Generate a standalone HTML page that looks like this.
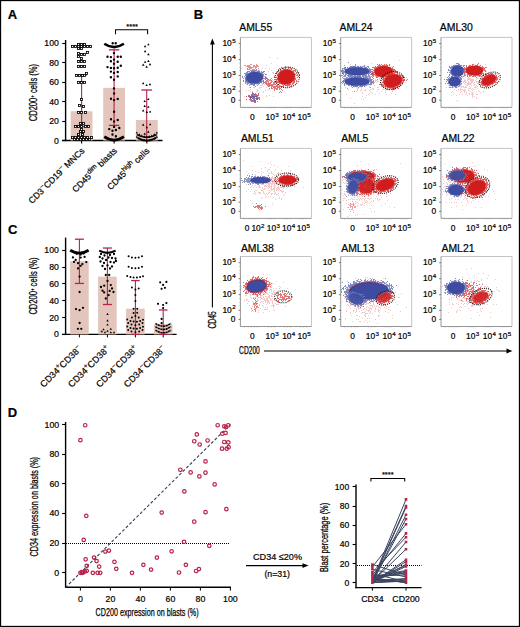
<!DOCTYPE html>
<html><head><meta charset="utf-8"><style>html,body{margin:0;padding:0;background:#fff;}svg{display:block;}text:not([stroke]){stroke:#000;stroke-width:0.2px;}</style></head>
<body><svg width="520" height="627" viewBox="0 0 520 627" font-family="'Liberation Sans', sans-serif" fill="#000"><defs><filter id="b1" x="-50%" y="-50%" width="200%" height="200%"><feGaussianBlur stdDeviation="0.55"/></filter><filter id="b2" x="-50%" y="-50%" width="200%" height="200%"><feGaussianBlur stdDeviation="1.4"/></filter><filter id="b3" x="-50%" y="-50%" width="200%" height="200%"><feGaussianBlur stdDeviation="0.4"/></filter></defs><rect x="0.5" y="0.5" width="519" height="626" fill="none" stroke="#000" stroke-width="1.3"/>
<text x="7.80" y="18.80" font-size="13" text-anchor="start" font-weight="bold">A</text>
<text x="193.80" y="19.20" font-size="13" text-anchor="start" font-weight="bold">B</text>
<text x="8.00" y="234.20" font-size="13" text-anchor="start" font-weight="bold">C</text>
<text x="7.80" y="417.20" font-size="13" text-anchor="start" font-weight="bold">D</text>
<line x1="65.60" y1="40.00" x2="65.60" y2="141.20" stroke="#000" stroke-width="1.4" />
<line x1="62.00" y1="140.50" x2="162.50" y2="140.50" stroke="#000" stroke-width="1.4" />
<line x1="62.20" y1="140.50" x2="65.60" y2="140.50" stroke="#000" stroke-width="1.1" />
<text x="58.80" y="143.50" font-size="8.7" text-anchor="end" >0</text>
<line x1="62.20" y1="121.50" x2="65.60" y2="121.50" stroke="#000" stroke-width="1.1" />
<text x="58.80" y="124.00" font-size="8.7" text-anchor="end" >20</text>
<line x1="62.20" y1="101.50" x2="65.60" y2="101.50" stroke="#000" stroke-width="1.1" />
<text x="58.80" y="104.50" font-size="8.7" text-anchor="end" >40</text>
<line x1="62.20" y1="82.50" x2="65.60" y2="82.50" stroke="#000" stroke-width="1.1" />
<text x="58.80" y="85.00" font-size="8.7" text-anchor="end" >60</text>
<line x1="62.20" y1="62.50" x2="65.60" y2="62.50" stroke="#000" stroke-width="1.1" />
<text x="58.80" y="65.50" font-size="8.7" text-anchor="end" >80</text>
<line x1="62.20" y1="43.50" x2="65.60" y2="43.50" stroke="#000" stroke-width="1.1" />
<text x="58.80" y="46.00" font-size="8.7" text-anchor="end" >100</text>
<rect x="70.70" y="111.25" width="21.8" height="29.25" fill="#e3c5bb"/>
<rect x="103.20" y="87.85" width="21.8" height="52.65" fill="#e3c5bb"/>
<rect x="135.90" y="120.03" width="21.8" height="20.47" fill="#e3c5bb"/>
<text transform="translate(37.2,121.3) rotate(-90)" font-size="10.3" textLength="57.4" lengthAdjust="spacingAndGlyphs" stroke="#000" stroke-width="0.25">CD200<tspan font-size="6" dy="-3.5">+</tspan><tspan dy="3.6"> cells (%)</tspan></text>
<line x1="81.60" y1="74.88" x2="81.60" y2="126.56" stroke="#b8234a" stroke-width="1.1" />
<line x1="76.10" y1="74.88" x2="87.10" y2="74.88" stroke="#b8234a" stroke-width="1.3" />
<line x1="76.10" y1="126.56" x2="87.10" y2="126.56" stroke="#b8234a" stroke-width="1.3" />
<line x1="114.10" y1="49.83" x2="114.10" y2="125.39" stroke="#b8234a" stroke-width="1.1" />
<line x1="108.90" y1="49.83" x2="119.30" y2="49.83" stroke="#b8234a" stroke-width="1.3" />
<line x1="108.90" y1="125.39" x2="119.30" y2="125.39" stroke="#b8234a" stroke-width="1.3" />
<line x1="146.70" y1="90.00" x2="146.70" y2="140.50" stroke="#b8234a" stroke-width="1.1" />
<line x1="141.30" y1="90.00" x2="152.10" y2="90.00" stroke="#b8234a" stroke-width="1.3" />
<line x1="141.30" y1="140.50" x2="152.10" y2="140.50" stroke="#b8234a" stroke-width="1.3" />
<rect x="77.42" y="43.42" width="2.15" height="2.15" fill="#fff" stroke="#000" stroke-width="0.85"/><rect x="80.42" y="43.42" width="2.15" height="2.15" fill="#fff" stroke="#000" stroke-width="0.85"/><rect x="83.42" y="43.42" width="2.15" height="2.15" fill="#fff" stroke="#000" stroke-width="0.85"/><rect x="71.42" y="45.42" width="2.15" height="2.15" fill="#fff" stroke="#000" stroke-width="0.85"/><rect x="74.42" y="45.42" width="2.15" height="2.15" fill="#fff" stroke="#000" stroke-width="0.85"/><rect x="77.42" y="45.42" width="2.15" height="2.15" fill="#fff" stroke="#000" stroke-width="0.85"/><rect x="80.42" y="45.42" width="2.15" height="2.15" fill="#fff" stroke="#000" stroke-width="0.85"/><rect x="83.42" y="45.42" width="2.15" height="2.15" fill="#fff" stroke="#000" stroke-width="0.85"/><rect x="86.42" y="45.42" width="2.15" height="2.15" fill="#fff" stroke="#000" stroke-width="0.85"/><rect x="89.42" y="45.42" width="2.15" height="2.15" fill="#fff" stroke="#000" stroke-width="0.85"/><rect x="77.42" y="47.42" width="2.15" height="2.15" fill="#fff" stroke="#000" stroke-width="0.85"/><rect x="80.42" y="47.42" width="2.15" height="2.15" fill="#fff" stroke="#000" stroke-width="0.85"/><rect x="77.42" y="52.42" width="2.15" height="2.15" fill="#fff" stroke="#000" stroke-width="0.85"/><rect x="86.42" y="51.42" width="2.15" height="2.15" fill="#fff" stroke="#000" stroke-width="0.85"/><rect x="80.42" y="53.42" width="2.15" height="2.15" fill="#fff" stroke="#000" stroke-width="0.85"/><rect x="83.42" y="53.42" width="2.15" height="2.15" fill="#fff" stroke="#000" stroke-width="0.85"/><rect x="77.42" y="55.42" width="2.15" height="2.15" fill="#fff" stroke="#000" stroke-width="0.85"/><rect x="80.42" y="57.42" width="2.15" height="2.15" fill="#fff" stroke="#000" stroke-width="0.85"/><rect x="77.42" y="60.42" width="2.15" height="2.15" fill="#fff" stroke="#000" stroke-width="0.85"/><rect x="80.42" y="60.42" width="2.15" height="2.15" fill="#fff" stroke="#000" stroke-width="0.85"/><rect x="83.42" y="60.42" width="2.15" height="2.15" fill="#fff" stroke="#000" stroke-width="0.85"/><rect x="77.42" y="65.42" width="2.15" height="2.15" fill="#fff" stroke="#000" stroke-width="0.85"/><rect x="80.42" y="65.42" width="2.15" height="2.15" fill="#fff" stroke="#000" stroke-width="0.85"/><rect x="83.42" y="65.42" width="2.15" height="2.15" fill="#fff" stroke="#000" stroke-width="0.85"/><rect x="85.42" y="72.42" width="2.15" height="2.15" fill="#fff" stroke="#000" stroke-width="0.85"/><rect x="75.42" y="74.42" width="2.15" height="2.15" fill="#fff" stroke="#000" stroke-width="0.85"/><rect x="78.42" y="74.42" width="2.15" height="2.15" fill="#fff" stroke="#000" stroke-width="0.85"/><rect x="81.42" y="74.42" width="2.15" height="2.15" fill="#fff" stroke="#000" stroke-width="0.85"/><rect x="83.42" y="74.42" width="2.15" height="2.15" fill="#fff" stroke="#000" stroke-width="0.85"/><rect x="77.42" y="81.42" width="2.15" height="2.15" fill="#fff" stroke="#000" stroke-width="0.85"/><rect x="80.42" y="81.42" width="2.15" height="2.15" fill="#fff" stroke="#000" stroke-width="0.85"/><rect x="83.42" y="81.42" width="2.15" height="2.15" fill="#fff" stroke="#000" stroke-width="0.85"/><rect x="80.42" y="98.42" width="2.15" height="2.15" fill="#fff" stroke="#000" stroke-width="0.85"/><rect x="78.42" y="104.42" width="2.15" height="2.15" fill="#fff" stroke="#000" stroke-width="0.85"/><rect x="82.42" y="105.42" width="2.15" height="2.15" fill="#fff" stroke="#000" stroke-width="0.85"/><rect x="77.42" y="111.42" width="2.15" height="2.15" fill="#fff" stroke="#000" stroke-width="0.85"/><rect x="80.42" y="111.42" width="2.15" height="2.15" fill="#fff" stroke="#000" stroke-width="0.85"/><rect x="84.42" y="111.42" width="2.15" height="2.15" fill="#fff" stroke="#000" stroke-width="0.85"/><rect x="79.42" y="122.42" width="2.15" height="2.15" fill="#fff" stroke="#000" stroke-width="0.85"/><rect x="82.42" y="122.42" width="2.15" height="2.15" fill="#fff" stroke="#000" stroke-width="0.85"/><rect x="74.42" y="125.42" width="2.15" height="2.15" fill="#fff" stroke="#000" stroke-width="0.85"/><rect x="77.42" y="125.42" width="2.15" height="2.15" fill="#fff" stroke="#000" stroke-width="0.85"/><rect x="80.42" y="125.42" width="2.15" height="2.15" fill="#fff" stroke="#000" stroke-width="0.85"/><rect x="84.42" y="125.42" width="2.15" height="2.15" fill="#fff" stroke="#000" stroke-width="0.85"/><rect x="87.42" y="125.42" width="2.15" height="2.15" fill="#fff" stroke="#000" stroke-width="0.85"/><rect x="80.42" y="128.43" width="2.15" height="2.15" fill="#fff" stroke="#000" stroke-width="0.85"/><rect x="79.42" y="130.43" width="2.15" height="2.15" fill="#fff" stroke="#000" stroke-width="0.85"/><rect x="82.42" y="130.43" width="2.15" height="2.15" fill="#fff" stroke="#000" stroke-width="0.85"/><rect x="77.42" y="133.43" width="2.15" height="2.15" fill="#fff" stroke="#000" stroke-width="0.85"/><rect x="81.42" y="133.43" width="2.15" height="2.15" fill="#fff" stroke="#000" stroke-width="0.85"/><rect x="71.42" y="136.43" width="2.15" height="2.15" fill="#fff" stroke="#000" stroke-width="0.85"/><rect x="74.42" y="136.43" width="2.15" height="2.15" fill="#fff" stroke="#000" stroke-width="0.85"/><rect x="77.42" y="136.43" width="2.15" height="2.15" fill="#fff" stroke="#000" stroke-width="0.85"/><rect x="80.42" y="136.43" width="2.15" height="2.15" fill="#fff" stroke="#000" stroke-width="0.85"/><rect x="83.42" y="136.43" width="2.15" height="2.15" fill="#fff" stroke="#000" stroke-width="0.85"/><rect x="86.42" y="136.43" width="2.15" height="2.15" fill="#fff" stroke="#000" stroke-width="0.85"/><rect x="90.42" y="136.43" width="2.15" height="2.15" fill="#fff" stroke="#000" stroke-width="0.85"/><rect x="73.42" y="138.43" width="2.15" height="2.15" fill="#fff" stroke="#000" stroke-width="0.85"/><rect x="76.42" y="138.43" width="2.15" height="2.15" fill="#fff" stroke="#000" stroke-width="0.85"/><rect x="79.42" y="138.43" width="2.15" height="2.15" fill="#fff" stroke="#000" stroke-width="0.85"/><rect x="82.42" y="138.43" width="2.15" height="2.15" fill="#fff" stroke="#000" stroke-width="0.85"/><rect x="85.42" y="138.43" width="2.15" height="2.15" fill="#fff" stroke="#000" stroke-width="0.85"/><rect x="88.42" y="138.43" width="2.15" height="2.15" fill="#fff" stroke="#000" stroke-width="0.85"/>
<path d="M111.50 43.30a1.2 1.2 0 1 0 2.4 0a1.2 1.2 0 1 0 -2.4 0zM114.50 43.30a1.2 1.2 0 1 0 2.4 0a1.2 1.2 0 1 0 -2.4 0zM106.30 56.80a1.2 1.2 0 1 0 2.4 0a1.2 1.2 0 1 0 -2.4 0zM109.70 57.10a1.2 1.2 0 1 0 2.4 0a1.2 1.2 0 1 0 -2.4 0zM116.50 56.80a1.2 1.2 0 1 0 2.4 0a1.2 1.2 0 1 0 -2.4 0zM119.60 56.80a1.2 1.2 0 1 0 2.4 0a1.2 1.2 0 1 0 -2.4 0zM112.80 53.10a1.2 1.2 0 1 0 2.4 0a1.2 1.2 0 1 0 -2.4 0zM109.70 61.30a1.2 1.2 0 1 0 2.4 0a1.2 1.2 0 1 0 -2.4 0zM116.50 61.70a1.2 1.2 0 1 0 2.4 0a1.2 1.2 0 1 0 -2.4 0zM112.80 59.60a1.2 1.2 0 1 0 2.4 0a1.2 1.2 0 1 0 -2.4 0zM112.80 63.70a1.2 1.2 0 1 0 2.4 0a1.2 1.2 0 1 0 -2.4 0zM106.30 67.10a1.2 1.2 0 1 0 2.4 0a1.2 1.2 0 1 0 -2.4 0zM109.70 67.90a1.2 1.2 0 1 0 2.4 0a1.2 1.2 0 1 0 -2.4 0zM116.50 67.70a1.2 1.2 0 1 0 2.4 0a1.2 1.2 0 1 0 -2.4 0zM119.60 65.80a1.2 1.2 0 1 0 2.4 0a1.2 1.2 0 1 0 -2.4 0zM112.80 68.30a1.2 1.2 0 1 0 2.4 0a1.2 1.2 0 1 0 -2.4 0zM109.70 71.60a1.2 1.2 0 1 0 2.4 0a1.2 1.2 0 1 0 -2.4 0zM116.50 72.00a1.2 1.2 0 1 0 2.4 0a1.2 1.2 0 1 0 -2.4 0zM112.80 72.90a1.2 1.2 0 1 0 2.4 0a1.2 1.2 0 1 0 -2.4 0zM109.70 77.20a1.2 1.2 0 1 0 2.4 0a1.2 1.2 0 1 0 -2.4 0zM116.50 76.40a1.2 1.2 0 1 0 2.4 0a1.2 1.2 0 1 0 -2.4 0zM112.80 79.80a1.2 1.2 0 1 0 2.4 0a1.2 1.2 0 1 0 -2.4 0zM112.80 88.40a1.2 1.2 0 1 0 2.4 0a1.2 1.2 0 1 0 -2.4 0zM112.90 93.40a1.2 1.2 0 1 0 2.4 0a1.2 1.2 0 1 0 -2.4 0zM109.80 98.70a1.2 1.2 0 1 0 2.4 0a1.2 1.2 0 1 0 -2.4 0zM116.50 98.90a1.2 1.2 0 1 0 2.4 0a1.2 1.2 0 1 0 -2.4 0zM112.90 100.10a1.2 1.2 0 1 0 2.4 0a1.2 1.2 0 1 0 -2.4 0zM112.90 111.70a1.2 1.2 0 1 0 2.4 0a1.2 1.2 0 1 0 -2.4 0zM109.80 119.30a1.2 1.2 0 1 0 2.4 0a1.2 1.2 0 1 0 -2.4 0zM116.50 120.00a1.2 1.2 0 1 0 2.4 0a1.2 1.2 0 1 0 -2.4 0zM112.90 121.50a1.2 1.2 0 1 0 2.4 0a1.2 1.2 0 1 0 -2.4 0zM112.90 126.90a1.2 1.2 0 1 0 2.4 0a1.2 1.2 0 1 0 -2.4 0zM108.00 129.10a1.2 1.2 0 1 0 2.4 0a1.2 1.2 0 1 0 -2.4 0zM118.10 128.00a1.2 1.2 0 1 0 2.4 0a1.2 1.2 0 1 0 -2.4 0zM114.70 130.00a1.2 1.2 0 1 0 2.4 0a1.2 1.2 0 1 0 -2.4 0zM111.30 130.70a1.2 1.2 0 1 0 2.4 0a1.2 1.2 0 1 0 -2.4 0zM111.30 134.50a1.2 1.2 0 1 0 2.4 0a1.2 1.2 0 1 0 -2.4 0zM114.70 136.30a1.2 1.2 0 1 0 2.4 0a1.2 1.2 0 1 0 -2.4 0z" fill="#000"/>
<path d="M104.3 43.8 Q114.1 50.5 123.9 43.8" fill="none" stroke="#000" stroke-width="2.6"/>
<path d="M104.3 136.6 Q114.1 143.6 123.9 136.6" fill="none" stroke="#000" stroke-width="2.6"/>
<path d="M148.40 43.20L149.65 45.37L147.15 45.37zM145.10 45.09L146.35 47.27L143.85 47.27zM145.10 50.09L146.35 52.27L143.85 52.27zM148.40 53.09L149.65 55.27L147.15 55.27zM145.10 60.70L146.35 62.87L143.85 62.87zM148.40 59.80L149.65 61.97L147.15 61.97zM143.20 63.60L144.45 65.77L141.95 65.77zM150.00 62.99L151.25 65.17L148.75 65.17zM146.60 65.59L147.85 67.77L145.35 67.77zM143.20 81.99L144.45 84.17L141.95 84.17zM146.60 83.89L147.85 86.07L145.35 86.07zM150.00 82.99L151.25 85.17L148.75 85.17zM148.30 97.89L149.55 100.07L147.05 100.07zM144.70 99.89L145.95 102.07L143.45 102.07zM144.70 104.79L145.95 106.97L143.45 106.97zM148.30 105.69L149.55 107.87L147.05 107.87zM143.20 109.29L144.45 111.47L141.95 111.47zM146.80 110.79L148.05 112.97L145.55 112.97zM150.10 110.39L151.35 112.57L148.85 112.57zM143.20 123.49L144.45 125.67L141.95 125.67zM150.10 123.19L151.35 125.37L148.85 125.37zM146.80 125.99L148.05 128.17L145.55 128.17zM148.30 130.50L149.55 132.67L147.05 132.67zM144.70 132.50L145.95 134.67L143.45 134.67zM136.80 131.50L138.00 133.59L135.60 133.59zM139.30 133.27L140.50 135.36L138.10 135.36zM141.80 134.53L143.00 136.62L140.60 136.62zM144.30 135.29L145.50 137.38L143.10 137.38zM146.80 135.55L148.00 137.64L145.60 137.64zM149.30 135.29L150.50 137.38L148.10 137.38zM151.80 134.53L153.00 136.62L150.60 136.62zM154.30 133.27L155.50 135.36L153.10 135.36zM156.80 131.50L158.00 133.59L155.60 133.59zM136.80 135.75L138.00 137.84L135.60 137.84zM139.30 137.32L140.50 139.41L138.10 139.41zM141.80 138.45L143.00 140.54L140.60 140.54zM144.30 139.12L145.50 141.21L143.10 141.21zM146.80 139.35L148.00 141.44L145.60 141.44zM149.30 139.12L150.50 141.21L148.10 141.21zM151.80 138.45L153.00 140.54L150.60 140.54zM154.30 137.32L155.50 139.41L153.10 139.41zM156.80 135.75L158.00 137.84L155.60 137.84z" fill="#000"/>
<path d="M136.8 134.6 Q146.8 140.2 156.8 134.6" fill="none" stroke="#000" stroke-width="1.6"/>
<path d="M137.5 137.8 Q146.8 143.2 156.2 137.8" fill="none" stroke="#000" stroke-width="1.6"/>
<line x1="81.60" y1="140.50" x2="81.60" y2="143.60" stroke="#000" stroke-width="1.1" />
<line x1="114.10" y1="140.50" x2="114.10" y2="143.60" stroke="#000" stroke-width="1.1" />
<line x1="146.80" y1="140.50" x2="146.80" y2="143.60" stroke="#000" stroke-width="1.1" />
<text transform="translate(85.00,151.30) rotate(-45)" font-size="8.8" text-anchor="end">CD3<tspan font-size="6.8" dy="-3.6">−</tspan><tspan dy="3.6">CD19</tspan><tspan font-size="6.8" dy="-3.6">−</tspan><tspan dy="3.6"> MNCs</tspan></text>
<text transform="translate(117.50,151.30) rotate(-45)" font-size="8.8" text-anchor="end">CD45<tspan font-size="6.8" dy="-3.6">dim</tspan><tspan dy="3.6"> blasts</tspan></text>
<text transform="translate(150.00,151.30) rotate(-45)" font-size="8.8" text-anchor="end">CD45<tspan font-size="6.8" dy="-3.6">high</tspan><tspan dy="3.6"> cells</tspan></text>
<path d="M115.5 34.2V29.7H147.6V34.2" fill="none" stroke="#000" stroke-width="1.05"/>
<text x="132.20" y="28.60" font-size="7.5" text-anchor="middle" >****</text>
<line x1="65.60" y1="237.60" x2="65.60" y2="335.10" stroke="#000" stroke-width="1.4" />
<line x1="62.00" y1="334.40" x2="176.60" y2="334.40" stroke="#000" stroke-width="1.4" />
<line x1="62.20" y1="334.50" x2="65.60" y2="334.50" stroke="#000" stroke-width="1.1" />
<text x="58.80" y="337.40" font-size="8.7" text-anchor="end" >0</text>
<line x1="62.20" y1="317.50" x2="65.60" y2="317.50" stroke="#000" stroke-width="1.1" />
<text x="58.80" y="320.55" font-size="8.7" text-anchor="end" >20</text>
<line x1="62.20" y1="300.50" x2="65.60" y2="300.50" stroke="#000" stroke-width="1.1" />
<text x="58.80" y="303.70" font-size="8.7" text-anchor="end" >40</text>
<line x1="62.20" y1="283.50" x2="65.60" y2="283.50" stroke="#000" stroke-width="1.1" />
<text x="58.80" y="286.85" font-size="8.7" text-anchor="end" >60</text>
<line x1="62.20" y1="267.50" x2="65.60" y2="267.50" stroke="#000" stroke-width="1.1" />
<text x="58.80" y="270.00" font-size="8.7" text-anchor="end" >80</text>
<line x1="62.20" y1="250.50" x2="65.60" y2="250.50" stroke="#000" stroke-width="1.1" />
<text x="58.80" y="253.15" font-size="8.7" text-anchor="end" >100</text>
<rect x="70.10" y="261.10" width="18.6" height="73.30" fill="#e3c5bb"/>
<rect x="98.10" y="276.60" width="18.6" height="57.80" fill="#e3c5bb"/>
<rect x="126.10" y="308.70" width="18.6" height="25.70" fill="#e3c5bb"/>
<rect x="153.90" y="324.29" width="18.6" height="10.11" fill="#e3c5bb"/>
<line x1="79.40" y1="334.40" x2="79.40" y2="337.40" stroke="#000" stroke-width="1" />
<line x1="107.40" y1="334.40" x2="107.40" y2="337.40" stroke="#000" stroke-width="1" />
<line x1="135.40" y1="334.40" x2="135.40" y2="337.40" stroke="#000" stroke-width="1" />
<line x1="163.20" y1="334.40" x2="163.20" y2="337.40" stroke="#000" stroke-width="1" />
<line x1="79.40" y1="239.20" x2="79.40" y2="283.43" stroke="#b8234a" stroke-width="1.1" />
<line x1="74.90" y1="239.20" x2="83.90" y2="239.20" stroke="#b8234a" stroke-width="1.3" />
<line x1="74.90" y1="283.43" x2="83.90" y2="283.43" stroke="#b8234a" stroke-width="1.3" />
<line x1="107.40" y1="248.04" x2="107.40" y2="304.49" stroke="#b8234a" stroke-width="1.1" />
<line x1="102.90" y1="248.04" x2="111.90" y2="248.04" stroke="#b8234a" stroke-width="1.3" />
<line x1="102.90" y1="304.49" x2="111.90" y2="304.49" stroke="#b8234a" stroke-width="1.3" />
<line x1="135.40" y1="280.56" x2="135.40" y2="334.40" stroke="#b8234a" stroke-width="1.1" />
<line x1="131.10" y1="280.56" x2="139.70" y2="280.56" stroke="#b8234a" stroke-width="1.3" />
<line x1="131.10" y1="334.40" x2="139.70" y2="334.40" stroke="#b8234a" stroke-width="1.3" />
<line x1="163.20" y1="309.97" x2="163.20" y2="334.40" stroke="#b8234a" stroke-width="1.1" />
<line x1="158.90" y1="309.97" x2="167.50" y2="309.97" stroke="#b8234a" stroke-width="1.3" />
<line x1="158.90" y1="334.40" x2="167.50" y2="334.40" stroke="#b8234a" stroke-width="1.3" />
<text transform="translate(37.2,314.6) rotate(-90)" font-size="10.3" textLength="57.2" lengthAdjust="spacingAndGlyphs" stroke="#000" stroke-width="0.25">CD200<tspan font-size="6" dy="-3.5">+</tspan><tspan dy="3.6"> cells (%)</tspan></text>
<path d="M71.75 257.40a1.15 1.15 0 1 0 2.3 0a1.15 1.15 0 1 0 -2.3 0zM74.55 259.90a1.15 1.15 0 1 0 2.3 0a1.15 1.15 0 1 0 -2.3 0zM79.55 257.60a1.15 1.15 0 1 0 2.3 0a1.15 1.15 0 1 0 -2.3 0zM83.45 256.90a1.15 1.15 0 1 0 2.3 0a1.15 1.15 0 1 0 -2.3 0zM79.55 254.50a1.15 1.15 0 1 0 2.3 0a1.15 1.15 0 1 0 -2.3 0zM75.65 253.80a1.15 1.15 0 1 0 2.3 0a1.15 1.15 0 1 0 -2.3 0zM82.35 253.50a1.15 1.15 0 1 0 2.3 0a1.15 1.15 0 1 0 -2.3 0zM72.85 261.90a1.15 1.15 0 1 0 2.3 0a1.15 1.15 0 1 0 -2.3 0zM76.85 263.20a1.15 1.15 0 1 0 2.3 0a1.15 1.15 0 1 0 -2.3 0zM81.25 264.10a1.15 1.15 0 1 0 2.3 0a1.15 1.15 0 1 0 -2.3 0zM85.15 262.10a1.15 1.15 0 1 0 2.3 0a1.15 1.15 0 1 0 -2.3 0zM79.55 265.80a1.15 1.15 0 1 0 2.3 0a1.15 1.15 0 1 0 -2.3 0zM76.85 268.40a1.15 1.15 0 1 0 2.3 0a1.15 1.15 0 1 0 -2.3 0zM78.45 276.60a1.15 1.15 0 1 0 2.3 0a1.15 1.15 0 1 0 -2.3 0zM78.45 292.00a1.15 1.15 0 1 0 2.3 0a1.15 1.15 0 1 0 -2.3 0zM74.85 309.10a1.15 1.15 0 1 0 2.3 0a1.15 1.15 0 1 0 -2.3 0zM78.45 310.20a1.15 1.15 0 1 0 2.3 0a1.15 1.15 0 1 0 -2.3 0zM81.85 307.80a1.15 1.15 0 1 0 2.3 0a1.15 1.15 0 1 0 -2.3 0zM78.45 323.00a1.15 1.15 0 1 0 2.3 0a1.15 1.15 0 1 0 -2.3 0zM76.75 328.80a1.15 1.15 0 1 0 2.3 0a1.15 1.15 0 1 0 -2.3 0zM80.15 328.80a1.15 1.15 0 1 0 2.3 0a1.15 1.15 0 1 0 -2.3 0zM99.85 254.00a1.15 1.15 0 1 0 2.3 0a1.15 1.15 0 1 0 -2.3 0zM103.35 255.50a1.15 1.15 0 1 0 2.3 0a1.15 1.15 0 1 0 -2.3 0zM108.85 255.00a1.15 1.15 0 1 0 2.3 0a1.15 1.15 0 1 0 -2.3 0zM112.85 254.00a1.15 1.15 0 1 0 2.3 0a1.15 1.15 0 1 0 -2.3 0zM101.35 258.50a1.15 1.15 0 1 0 2.3 0a1.15 1.15 0 1 0 -2.3 0zM104.85 260.00a1.15 1.15 0 1 0 2.3 0a1.15 1.15 0 1 0 -2.3 0zM110.85 258.00a1.15 1.15 0 1 0 2.3 0a1.15 1.15 0 1 0 -2.3 0zM114.35 258.50a1.15 1.15 0 1 0 2.3 0a1.15 1.15 0 1 0 -2.3 0zM107.35 257.50a1.15 1.15 0 1 0 2.3 0a1.15 1.15 0 1 0 -2.3 0zM99.35 261.50a1.15 1.15 0 1 0 2.3 0a1.15 1.15 0 1 0 -2.3 0zM102.85 263.00a1.15 1.15 0 1 0 2.3 0a1.15 1.15 0 1 0 -2.3 0zM109.35 262.00a1.15 1.15 0 1 0 2.3 0a1.15 1.15 0 1 0 -2.3 0zM112.85 262.50a1.15 1.15 0 1 0 2.3 0a1.15 1.15 0 1 0 -2.3 0zM101.35 266.00a1.15 1.15 0 1 0 2.3 0a1.15 1.15 0 1 0 -2.3 0zM106.35 265.50a1.15 1.15 0 1 0 2.3 0a1.15 1.15 0 1 0 -2.3 0zM110.85 266.50a1.15 1.15 0 1 0 2.3 0a1.15 1.15 0 1 0 -2.3 0zM103.85 269.00a1.15 1.15 0 1 0 2.3 0a1.15 1.15 0 1 0 -2.3 0zM108.85 268.50a1.15 1.15 0 1 0 2.3 0a1.15 1.15 0 1 0 -2.3 0zM114.85 261.00a1.15 1.15 0 1 0 2.3 0a1.15 1.15 0 1 0 -2.3 0zM98.65 257.00a1.15 1.15 0 1 0 2.3 0a1.15 1.15 0 1 0 -2.3 0zM104.65 275.00a1.15 1.15 0 1 0 2.3 0a1.15 1.15 0 1 0 -2.3 0zM108.05 275.00a1.15 1.15 0 1 0 2.3 0a1.15 1.15 0 1 0 -2.3 0zM103.05 285.70a1.15 1.15 0 1 0 2.3 0a1.15 1.15 0 1 0 -2.3 0zM109.65 285.10a1.15 1.15 0 1 0 2.3 0a1.15 1.15 0 1 0 -2.3 0zM101.35 290.70a1.15 1.15 0 1 0 2.3 0a1.15 1.15 0 1 0 -2.3 0zM103.05 292.40a1.15 1.15 0 1 0 2.3 0a1.15 1.15 0 1 0 -2.3 0zM108.55 290.90a1.15 1.15 0 1 0 2.3 0a1.15 1.15 0 1 0 -2.3 0zM110.85 288.50a1.15 1.15 0 1 0 2.3 0a1.15 1.15 0 1 0 -2.3 0zM107.45 295.20a1.15 1.15 0 1 0 2.3 0a1.15 1.15 0 1 0 -2.3 0zM104.65 298.50a1.15 1.15 0 1 0 2.3 0a1.15 1.15 0 1 0 -2.3 0zM106.35 281.00a1.15 1.15 0 1 0 2.3 0a1.15 1.15 0 1 0 -2.3 0zM99.85 287.00a1.15 1.15 0 1 0 2.3 0a1.15 1.15 0 1 0 -2.3 0zM112.35 292.00a1.15 1.15 0 1 0 2.3 0a1.15 1.15 0 1 0 -2.3 0zM107.50 312.85L108.70 314.94L106.30 314.94zM107.50 319.35L108.70 321.44L106.30 321.44zM107.50 323.45L108.70 325.54L106.30 325.54zM103.50 328.25L104.70 330.34L102.30 330.34zM101.80 330.25L103.00 332.34L100.60 332.34zM105.00 331.25L106.20 333.34L103.80 333.34zM107.50 329.75L108.70 331.84L106.30 331.84zM110.80 327.75L112.00 329.84L109.60 329.84zM110.80 331.25L112.00 333.34L109.60 333.34zM114.00 331.25L115.20 333.34L112.80 333.34zM127.60 256.20a1.0 1.0 0 1 0 2.0 0a1.0 1.0 0 1 0 -2.0 0zM130.90 257.38a1.0 1.0 0 1 0 2.0 0a1.0 1.0 0 1 0 -2.0 0zM134.40 257.80a1.0 1.0 0 1 0 2.0 0a1.0 1.0 0 1 0 -2.0 0zM137.70 257.42a1.0 1.0 0 1 0 2.0 0a1.0 1.0 0 1 0 -2.0 0zM141.00 256.29a1.0 1.0 0 1 0 2.0 0a1.0 1.0 0 1 0 -2.0 0zM127.60 266.70a1.0 1.0 0 1 0 2.0 0a1.0 1.0 0 1 0 -2.0 0zM130.90 267.88a1.0 1.0 0 1 0 2.0 0a1.0 1.0 0 1 0 -2.0 0zM134.40 268.30a1.0 1.0 0 1 0 2.0 0a1.0 1.0 0 1 0 -2.0 0zM137.70 267.92a1.0 1.0 0 1 0 2.0 0a1.0 1.0 0 1 0 -2.0 0zM141.00 266.79a1.0 1.0 0 1 0 2.0 0a1.0 1.0 0 1 0 -2.0 0zM126.20 276.00a1.0 1.0 0 1 0 2.0 0a1.0 1.0 0 1 0 -2.0 0zM129.50 277.03a1.0 1.0 0 1 0 2.0 0a1.0 1.0 0 1 0 -2.0 0zM132.60 277.52a1.0 1.0 0 1 0 2.0 0a1.0 1.0 0 1 0 -2.0 0zM135.90 277.55a1.0 1.0 0 1 0 2.0 0a1.0 1.0 0 1 0 -2.0 0zM139.10 277.07a1.0 1.0 0 1 0 2.0 0a1.0 1.0 0 1 0 -2.0 0zM142.00 276.23a1.0 1.0 0 1 0 2.0 0a1.0 1.0 0 1 0 -2.0 0zM130.90 287.60a1.0 1.0 0 1 0 2.0 0a1.0 1.0 0 1 0 -2.0 0zM137.70 288.50a1.0 1.0 0 1 0 2.0 0a1.0 1.0 0 1 0 -2.0 0zM134.40 289.50a1.0 1.0 0 1 0 2.0 0a1.0 1.0 0 1 0 -2.0 0zM134.40 295.00a1.0 1.0 0 1 0 2.0 0a1.0 1.0 0 1 0 -2.0 0zM134.40 301.00a1.0 1.0 0 1 0 2.0 0a1.0 1.0 0 1 0 -2.0 0zM132.60 308.80a1.0 1.0 0 1 0 2.0 0a1.0 1.0 0 1 0 -2.0 0zM136.20 308.80a1.0 1.0 0 1 0 2.0 0a1.0 1.0 0 1 0 -2.0 0zM132.60 313.00a1.0 1.0 0 1 0 2.0 0a1.0 1.0 0 1 0 -2.0 0zM136.20 312.70a1.0 1.0 0 1 0 2.0 0a1.0 1.0 0 1 0 -2.0 0zM130.90 317.50a1.0 1.0 0 1 0 2.0 0a1.0 1.0 0 1 0 -2.0 0zM134.40 316.00a1.0 1.0 0 1 0 2.0 0a1.0 1.0 0 1 0 -2.0 0zM137.70 317.50a1.0 1.0 0 1 0 2.0 0a1.0 1.0 0 1 0 -2.0 0zM126.20 319.50a1.0 1.0 0 1 0 2.0 0a1.0 1.0 0 1 0 -2.0 0zM129.50 320.91a1.0 1.0 0 1 0 2.0 0a1.0 1.0 0 1 0 -2.0 0zM132.60 321.59a1.0 1.0 0 1 0 2.0 0a1.0 1.0 0 1 0 -2.0 0zM135.90 321.63a1.0 1.0 0 1 0 2.0 0a1.0 1.0 0 1 0 -2.0 0zM139.10 320.98a1.0 1.0 0 1 0 2.0 0a1.0 1.0 0 1 0 -2.0 0zM142.00 319.81a1.0 1.0 0 1 0 2.0 0a1.0 1.0 0 1 0 -2.0 0zM127.20 323.00a1.0 1.0 0 1 0 2.0 0a1.0 1.0 0 1 0 -2.0 0zM130.50 324.55a1.0 1.0 0 1 0 2.0 0a1.0 1.0 0 1 0 -2.0 0zM134.40 325.20a1.0 1.0 0 1 0 2.0 0a1.0 1.0 0 1 0 -2.0 0zM138.20 324.59a1.0 1.0 0 1 0 2.0 0a1.0 1.0 0 1 0 -2.0 0zM141.50 323.06a1.0 1.0 0 1 0 2.0 0a1.0 1.0 0 1 0 -2.0 0zM126.20 326.50a1.0 1.0 0 1 0 2.0 0a1.0 1.0 0 1 0 -2.0 0zM129.50 327.91a1.0 1.0 0 1 0 2.0 0a1.0 1.0 0 1 0 -2.0 0zM132.60 328.59a1.0 1.0 0 1 0 2.0 0a1.0 1.0 0 1 0 -2.0 0zM135.90 328.63a1.0 1.0 0 1 0 2.0 0a1.0 1.0 0 1 0 -2.0 0zM139.10 327.98a1.0 1.0 0 1 0 2.0 0a1.0 1.0 0 1 0 -2.0 0zM142.00 326.81a1.0 1.0 0 1 0 2.0 0a1.0 1.0 0 1 0 -2.0 0zM127.20 330.00a1.0 1.0 0 1 0 2.0 0a1.0 1.0 0 1 0 -2.0 0zM130.50 331.55a1.0 1.0 0 1 0 2.0 0a1.0 1.0 0 1 0 -2.0 0zM134.40 332.20a1.0 1.0 0 1 0 2.0 0a1.0 1.0 0 1 0 -2.0 0zM138.20 331.59a1.0 1.0 0 1 0 2.0 0a1.0 1.0 0 1 0 -2.0 0zM141.50 330.06a1.0 1.0 0 1 0 2.0 0a1.0 1.0 0 1 0 -2.0 0zM159.10 282.30a1.1 1.1 0 1 0 2.2 0a1.1 1.1 0 1 0 -2.2 0zM165.30 281.90a1.1 1.1 0 1 0 2.2 0a1.1 1.1 0 1 0 -2.2 0zM162.00 284.90a1.1 1.1 0 1 0 2.2 0a1.1 1.1 0 1 0 -2.2 0zM160.50 288.80a1.1 1.1 0 1 0 2.2 0a1.1 1.1 0 1 0 -2.2 0zM163.80 287.80a1.1 1.1 0 1 0 2.2 0a1.1 1.1 0 1 0 -2.2 0zM156.90 303.80a1.1 1.1 0 1 0 2.2 0a1.1 1.1 0 1 0 -2.2 0zM162.00 305.00a1.1 1.1 0 1 0 2.2 0a1.1 1.1 0 1 0 -2.2 0zM165.30 303.10a1.1 1.1 0 1 0 2.2 0a1.1 1.1 0 1 0 -2.2 0zM162.00 308.10a1.1 1.1 0 1 0 2.2 0a1.1 1.1 0 1 0 -2.2 0zM160.50 318.90a1.1 1.1 0 1 0 2.2 0a1.1 1.1 0 1 0 -2.2 0zM160.50 323.20a1.1 1.1 0 1 0 2.2 0a1.1 1.1 0 1 0 -2.2 0z" fill="#000"/>
<path d="M70.2 250.2 Q79.4 256 88.6 250.2" fill="none" stroke="#000" stroke-width="2.8"/>
<path d="M99.2 250.6 Q107.4 255 115.6 250.6" fill="none" stroke="#000" stroke-width="2.2"/>
<path d="M155.5 323.3 Q163.2 329.0 171 323.3" fill="none" stroke="#000" stroke-width="1.5" stroke-dasharray="2.2 0.5"/>
<path d="M155.5 326.6 Q163.2 332.3 171 326.6" fill="none" stroke="#000" stroke-width="1.5" stroke-dasharray="2.2 0.5"/>
<path d="M155.5 330.0 Q163.2 335.7 171 330.0" fill="none" stroke="#000" stroke-width="1.5" stroke-dasharray="2.2 0.5"/>
<text transform="translate(82.30,349.40) rotate(-45)" font-size="9.1" text-anchor="end">CD34<tspan font-size="6.8" dy="-3.6">+</tspan><tspan dy="3.6">CD38</tspan><tspan font-size="6.8" dy="-3.6">−</tspan></text>
<text transform="translate(110.30,349.40) rotate(-45)" font-size="9.1" text-anchor="end">CD34<tspan font-size="6.8" dy="-3.6">+</tspan><tspan dy="3.6">CD38</tspan><tspan font-size="6.8" dy="-3.6">+</tspan></text>
<text transform="translate(138.30,349.40) rotate(-45)" font-size="9.1" text-anchor="end">CD34<tspan font-size="6.8" dy="-3.6">−</tspan><tspan dy="3.6">CD38</tspan><tspan font-size="6.8" dy="-3.6">+</tspan></text>
<text transform="translate(166.10,349.40) rotate(-45)" font-size="9.1" text-anchor="end">CD34<tspan font-size="6.8" dy="-3.6">−</tspan><tspan dy="3.6">CD38</tspan><tspan font-size="6.8" dy="-3.6">−</tspan></text>
<text x="239.2" y="30.8" font-size="10.4" textLength="33" lengthAdjust="spacingAndGlyphs">AML55</text>
<path d="M240.4 37.4H311.4V107.4" fill="none" stroke="#c4c4c4" stroke-width="1"/>
<path d="M240.4 37.4V107.4H311.4" fill="none" stroke="#8a8a8a" stroke-width="0.9"/>
<line x1="238.60" y1="43.60" x2="240.40" y2="43.60" stroke="#555" stroke-width="0.8" />
<text x="235.6" y="46.1" font-size="8.4" text-anchor="end">10<tspan font-size="6.2" dx="0.4" dy="-3.6">5</tspan></text>
<line x1="238.60" y1="59.60" x2="240.40" y2="59.60" stroke="#555" stroke-width="0.8" />
<text x="235.6" y="62.1" font-size="8.4" text-anchor="end">10<tspan font-size="6.2" dx="0.4" dy="-3.6">4</tspan></text>
<line x1="238.60" y1="75.60" x2="240.40" y2="75.60" stroke="#555" stroke-width="0.8" />
<text x="235.6" y="78.1" font-size="8.4" text-anchor="end">10<tspan font-size="6.2" dx="0.4" dy="-3.6">3</tspan></text>
<line x1="238.60" y1="91.20" x2="240.40" y2="91.20" stroke="#555" stroke-width="0.8" />
<text x="235.6" y="93.7" font-size="8.4" text-anchor="end">10<tspan font-size="6.2" dx="0.4" dy="-3.6">2</tspan></text>
<line x1="238.60" y1="100.30" x2="240.40" y2="100.30" stroke="#555" stroke-width="0.8" />
<text x="233.20" y="103.20" font-size="8.4" text-anchor="middle" >0</text>
<line x1="239.40" y1="47.40" x2="240.40" y2="47.40" stroke="#999" stroke-width="0.6" />
<line x1="239.40" y1="51.40" x2="240.40" y2="51.40" stroke="#999" stroke-width="0.6" />
<line x1="239.40" y1="54.40" x2="240.40" y2="54.40" stroke="#999" stroke-width="0.6" />
<line x1="239.40" y1="63.40" x2="240.40" y2="63.40" stroke="#999" stroke-width="0.6" />
<line x1="239.40" y1="67.40" x2="240.40" y2="67.40" stroke="#999" stroke-width="0.6" />
<line x1="239.40" y1="70.40" x2="240.40" y2="70.40" stroke="#999" stroke-width="0.6" />
<line x1="239.40" y1="79.40" x2="240.40" y2="79.40" stroke="#999" stroke-width="0.6" />
<line x1="239.40" y1="83.40" x2="240.40" y2="83.40" stroke="#999" stroke-width="0.6" />
<line x1="239.40" y1="86.40" x2="240.40" y2="86.40" stroke="#999" stroke-width="0.6" />
<text x="252.40" y="120.30" font-size="8.4" text-anchor="middle" >0</text>
<text x="265.5" y="120.3" font-size="8.4">10<tspan font-size="6.2" dx="0.3" dy="-3.6">3</tspan></text>
<text x="282.2" y="120.3" font-size="8.4">10<tspan font-size="6.2" dx="0.3" dy="-3.6">4</tspan></text>
<text x="297.5" y="120.3" font-size="8.4">10<tspan font-size="6.2" dx="0.3" dy="-3.6">5</tspan></text>
<line x1="244.40" y1="107.40" x2="244.40" y2="108.40" stroke="#999" stroke-width="0.6" />
<line x1="248.40" y1="107.40" x2="248.40" y2="108.40" stroke="#999" stroke-width="0.6" />
<line x1="251.40" y1="107.40" x2="251.40" y2="108.40" stroke="#999" stroke-width="0.6" />
<line x1="254.40" y1="107.40" x2="254.40" y2="108.40" stroke="#999" stroke-width="0.6" />
<line x1="257.40" y1="107.40" x2="257.40" y2="108.40" stroke="#999" stroke-width="0.6" />
<line x1="268.40" y1="107.40" x2="268.40" y2="108.40" stroke="#999" stroke-width="0.6" />
<line x1="271.40" y1="107.40" x2="271.40" y2="108.40" stroke="#999" stroke-width="0.6" />
<line x1="274.40" y1="107.40" x2="274.40" y2="108.40" stroke="#999" stroke-width="0.6" />
<line x1="284.40" y1="107.40" x2="284.40" y2="108.40" stroke="#999" stroke-width="0.6" />
<line x1="287.40" y1="107.40" x2="287.40" y2="108.40" stroke="#999" stroke-width="0.6" />
<line x1="290.40" y1="107.40" x2="290.40" y2="108.40" stroke="#999" stroke-width="0.6" />
<line x1="300.40" y1="107.40" x2="300.40" y2="108.40" stroke="#999" stroke-width="0.6" />
<line x1="303.40" y1="107.40" x2="303.40" y2="108.40" stroke="#999" stroke-width="0.6" />
<line x1="306.40" y1="107.40" x2="306.40" y2="108.40" stroke="#999" stroke-width="0.6" />
<text x="339.5" y="30.8" font-size="10.4" textLength="33" lengthAdjust="spacingAndGlyphs">AML24</text>
<path d="M340.7 37.4H411.7V107.4" fill="none" stroke="#c4c4c4" stroke-width="1"/>
<path d="M340.7 37.4V107.4H411.7" fill="none" stroke="#8a8a8a" stroke-width="0.9"/>
<line x1="338.90" y1="43.60" x2="340.70" y2="43.60" stroke="#555" stroke-width="0.8" />
<text x="335.9" y="46.1" font-size="8.4" text-anchor="end">10<tspan font-size="6.2" dx="0.4" dy="-3.6">5</tspan></text>
<line x1="338.90" y1="59.60" x2="340.70" y2="59.60" stroke="#555" stroke-width="0.8" />
<text x="335.9" y="62.1" font-size="8.4" text-anchor="end">10<tspan font-size="6.2" dx="0.4" dy="-3.6">4</tspan></text>
<line x1="338.90" y1="75.60" x2="340.70" y2="75.60" stroke="#555" stroke-width="0.8" />
<text x="335.9" y="78.1" font-size="8.4" text-anchor="end">10<tspan font-size="6.2" dx="0.4" dy="-3.6">3</tspan></text>
<line x1="338.90" y1="91.20" x2="340.70" y2="91.20" stroke="#555" stroke-width="0.8" />
<text x="335.9" y="93.7" font-size="8.4" text-anchor="end">10<tspan font-size="6.2" dx="0.4" dy="-3.6">2</tspan></text>
<line x1="338.90" y1="100.30" x2="340.70" y2="100.30" stroke="#555" stroke-width="0.8" />
<text x="333.50" y="103.20" font-size="8.4" text-anchor="middle" >0</text>
<line x1="339.70" y1="47.40" x2="340.70" y2="47.40" stroke="#999" stroke-width="0.6" />
<line x1="339.70" y1="51.40" x2="340.70" y2="51.40" stroke="#999" stroke-width="0.6" />
<line x1="339.70" y1="54.40" x2="340.70" y2="54.40" stroke="#999" stroke-width="0.6" />
<line x1="339.70" y1="63.40" x2="340.70" y2="63.40" stroke="#999" stroke-width="0.6" />
<line x1="339.70" y1="67.40" x2="340.70" y2="67.40" stroke="#999" stroke-width="0.6" />
<line x1="339.70" y1="70.40" x2="340.70" y2="70.40" stroke="#999" stroke-width="0.6" />
<line x1="339.70" y1="79.40" x2="340.70" y2="79.40" stroke="#999" stroke-width="0.6" />
<line x1="339.70" y1="83.40" x2="340.70" y2="83.40" stroke="#999" stroke-width="0.6" />
<line x1="339.70" y1="86.40" x2="340.70" y2="86.40" stroke="#999" stroke-width="0.6" />
<text x="352.70" y="120.30" font-size="8.4" text-anchor="middle" >0</text>
<text x="365.8" y="120.3" font-size="8.4">10<tspan font-size="6.2" dx="0.3" dy="-3.6">3</tspan></text>
<text x="382.5" y="120.3" font-size="8.4">10<tspan font-size="6.2" dx="0.3" dy="-3.6">4</tspan></text>
<text x="397.8" y="120.3" font-size="8.4">10<tspan font-size="6.2" dx="0.3" dy="-3.6">5</tspan></text>
<line x1="344.70" y1="107.40" x2="344.70" y2="108.40" stroke="#999" stroke-width="0.6" />
<line x1="348.70" y1="107.40" x2="348.70" y2="108.40" stroke="#999" stroke-width="0.6" />
<line x1="351.70" y1="107.40" x2="351.70" y2="108.40" stroke="#999" stroke-width="0.6" />
<line x1="354.70" y1="107.40" x2="354.70" y2="108.40" stroke="#999" stroke-width="0.6" />
<line x1="357.70" y1="107.40" x2="357.70" y2="108.40" stroke="#999" stroke-width="0.6" />
<line x1="368.70" y1="107.40" x2="368.70" y2="108.40" stroke="#999" stroke-width="0.6" />
<line x1="371.70" y1="107.40" x2="371.70" y2="108.40" stroke="#999" stroke-width="0.6" />
<line x1="374.70" y1="107.40" x2="374.70" y2="108.40" stroke="#999" stroke-width="0.6" />
<line x1="384.70" y1="107.40" x2="384.70" y2="108.40" stroke="#999" stroke-width="0.6" />
<line x1="387.70" y1="107.40" x2="387.70" y2="108.40" stroke="#999" stroke-width="0.6" />
<line x1="390.70" y1="107.40" x2="390.70" y2="108.40" stroke="#999" stroke-width="0.6" />
<line x1="400.70" y1="107.40" x2="400.70" y2="108.40" stroke="#999" stroke-width="0.6" />
<line x1="403.70" y1="107.40" x2="403.70" y2="108.40" stroke="#999" stroke-width="0.6" />
<line x1="406.70" y1="107.40" x2="406.70" y2="108.40" stroke="#999" stroke-width="0.6" />
<text x="439.8" y="30.8" font-size="10.4" textLength="33" lengthAdjust="spacingAndGlyphs">AML30</text>
<path d="M441.0 37.4H512.0V107.4" fill="none" stroke="#c4c4c4" stroke-width="1"/>
<path d="M441.0 37.4V107.4H512.0" fill="none" stroke="#8a8a8a" stroke-width="0.9"/>
<line x1="439.20" y1="43.60" x2="441.00" y2="43.60" stroke="#555" stroke-width="0.8" />
<text x="436.2" y="46.1" font-size="8.4" text-anchor="end">10<tspan font-size="6.2" dx="0.4" dy="-3.6">5</tspan></text>
<line x1="439.20" y1="59.60" x2="441.00" y2="59.60" stroke="#555" stroke-width="0.8" />
<text x="436.2" y="62.1" font-size="8.4" text-anchor="end">10<tspan font-size="6.2" dx="0.4" dy="-3.6">4</tspan></text>
<line x1="439.20" y1="75.60" x2="441.00" y2="75.60" stroke="#555" stroke-width="0.8" />
<text x="436.2" y="78.1" font-size="8.4" text-anchor="end">10<tspan font-size="6.2" dx="0.4" dy="-3.6">3</tspan></text>
<line x1="439.20" y1="91.20" x2="441.00" y2="91.20" stroke="#555" stroke-width="0.8" />
<text x="436.2" y="93.7" font-size="8.4" text-anchor="end">10<tspan font-size="6.2" dx="0.4" dy="-3.6">2</tspan></text>
<line x1="439.20" y1="100.30" x2="441.00" y2="100.30" stroke="#555" stroke-width="0.8" />
<text x="433.80" y="103.20" font-size="8.4" text-anchor="middle" >0</text>
<line x1="440.00" y1="47.40" x2="441.00" y2="47.40" stroke="#999" stroke-width="0.6" />
<line x1="440.00" y1="51.40" x2="441.00" y2="51.40" stroke="#999" stroke-width="0.6" />
<line x1="440.00" y1="54.40" x2="441.00" y2="54.40" stroke="#999" stroke-width="0.6" />
<line x1="440.00" y1="63.40" x2="441.00" y2="63.40" stroke="#999" stroke-width="0.6" />
<line x1="440.00" y1="67.40" x2="441.00" y2="67.40" stroke="#999" stroke-width="0.6" />
<line x1="440.00" y1="70.40" x2="441.00" y2="70.40" stroke="#999" stroke-width="0.6" />
<line x1="440.00" y1="79.40" x2="441.00" y2="79.40" stroke="#999" stroke-width="0.6" />
<line x1="440.00" y1="83.40" x2="441.00" y2="83.40" stroke="#999" stroke-width="0.6" />
<line x1="440.00" y1="86.40" x2="441.00" y2="86.40" stroke="#999" stroke-width="0.6" />
<text x="453.00" y="120.30" font-size="8.4" text-anchor="middle" >0</text>
<text x="466.1" y="120.3" font-size="8.4">10<tspan font-size="6.2" dx="0.3" dy="-3.6">3</tspan></text>
<text x="482.8" y="120.3" font-size="8.4">10<tspan font-size="6.2" dx="0.3" dy="-3.6">4</tspan></text>
<text x="498.1" y="120.3" font-size="8.4">10<tspan font-size="6.2" dx="0.3" dy="-3.6">5</tspan></text>
<line x1="445.00" y1="107.40" x2="445.00" y2="108.40" stroke="#999" stroke-width="0.6" />
<line x1="449.00" y1="107.40" x2="449.00" y2="108.40" stroke="#999" stroke-width="0.6" />
<line x1="452.00" y1="107.40" x2="452.00" y2="108.40" stroke="#999" stroke-width="0.6" />
<line x1="455.00" y1="107.40" x2="455.00" y2="108.40" stroke="#999" stroke-width="0.6" />
<line x1="458.00" y1="107.40" x2="458.00" y2="108.40" stroke="#999" stroke-width="0.6" />
<line x1="469.00" y1="107.40" x2="469.00" y2="108.40" stroke="#999" stroke-width="0.6" />
<line x1="472.00" y1="107.40" x2="472.00" y2="108.40" stroke="#999" stroke-width="0.6" />
<line x1="475.00" y1="107.40" x2="475.00" y2="108.40" stroke="#999" stroke-width="0.6" />
<line x1="485.00" y1="107.40" x2="485.00" y2="108.40" stroke="#999" stroke-width="0.6" />
<line x1="488.00" y1="107.40" x2="488.00" y2="108.40" stroke="#999" stroke-width="0.6" />
<line x1="491.00" y1="107.40" x2="491.00" y2="108.40" stroke="#999" stroke-width="0.6" />
<line x1="501.00" y1="107.40" x2="501.00" y2="108.40" stroke="#999" stroke-width="0.6" />
<line x1="504.00" y1="107.40" x2="504.00" y2="108.40" stroke="#999" stroke-width="0.6" />
<line x1="507.00" y1="107.40" x2="507.00" y2="108.40" stroke="#999" stroke-width="0.6" />
<text x="240.9" y="141.9" font-size="10.4" textLength="33" lengthAdjust="spacingAndGlyphs">AML51</text>
<path d="M240.4 148.4H311.4V218.4" fill="none" stroke="#c4c4c4" stroke-width="1"/>
<path d="M240.4 148.4V218.4H311.4" fill="none" stroke="#8a8a8a" stroke-width="0.9"/>
<line x1="238.60" y1="154.60" x2="240.40" y2="154.60" stroke="#555" stroke-width="0.8" />
<text x="235.6" y="157.1" font-size="8.4" text-anchor="end">10<tspan font-size="6.2" dx="0.4" dy="-3.6">5</tspan></text>
<line x1="238.60" y1="170.60" x2="240.40" y2="170.60" stroke="#555" stroke-width="0.8" />
<text x="235.6" y="173.1" font-size="8.4" text-anchor="end">10<tspan font-size="6.2" dx="0.4" dy="-3.6">4</tspan></text>
<line x1="238.60" y1="186.60" x2="240.40" y2="186.60" stroke="#555" stroke-width="0.8" />
<text x="235.6" y="189.1" font-size="8.4" text-anchor="end">10<tspan font-size="6.2" dx="0.4" dy="-3.6">3</tspan></text>
<line x1="238.60" y1="202.20" x2="240.40" y2="202.20" stroke="#555" stroke-width="0.8" />
<text x="235.6" y="204.7" font-size="8.4" text-anchor="end">10<tspan font-size="6.2" dx="0.4" dy="-3.6">2</tspan></text>
<line x1="238.60" y1="211.30" x2="240.40" y2="211.30" stroke="#555" stroke-width="0.8" />
<text x="233.20" y="214.20" font-size="8.4" text-anchor="middle" >0</text>
<line x1="239.40" y1="158.40" x2="240.40" y2="158.40" stroke="#999" stroke-width="0.6" />
<line x1="239.40" y1="162.40" x2="240.40" y2="162.40" stroke="#999" stroke-width="0.6" />
<line x1="239.40" y1="165.40" x2="240.40" y2="165.40" stroke="#999" stroke-width="0.6" />
<line x1="239.40" y1="174.40" x2="240.40" y2="174.40" stroke="#999" stroke-width="0.6" />
<line x1="239.40" y1="178.40" x2="240.40" y2="178.40" stroke="#999" stroke-width="0.6" />
<line x1="239.40" y1="181.40" x2="240.40" y2="181.40" stroke="#999" stroke-width="0.6" />
<line x1="239.40" y1="190.40" x2="240.40" y2="190.40" stroke="#999" stroke-width="0.6" />
<line x1="239.40" y1="194.40" x2="240.40" y2="194.40" stroke="#999" stroke-width="0.6" />
<line x1="239.40" y1="197.40" x2="240.40" y2="197.40" stroke="#999" stroke-width="0.6" />
<text x="247.00" y="231.30" font-size="8.4" text-anchor="middle" >0</text>
<text x="251.4" y="231.3" font-size="8.4">10<tspan font-size="6.2" dx="0.3" dy="-3.6">2</tspan></text>
<text x="266.8" y="231.3" font-size="8.4">10<tspan font-size="6.2" dx="0.3" dy="-3.6">3</tspan></text>
<text x="282.0" y="231.3" font-size="8.4">10<tspan font-size="6.2" dx="0.3" dy="-3.6">4</tspan></text>
<text x="296.8" y="231.3" font-size="8.4">10<tspan font-size="6.2" dx="0.3" dy="-3.6">5</tspan></text>
<line x1="244.40" y1="218.40" x2="244.40" y2="219.40" stroke="#999" stroke-width="0.6" />
<line x1="248.40" y1="218.40" x2="248.40" y2="219.40" stroke="#999" stroke-width="0.6" />
<line x1="251.40" y1="218.40" x2="251.40" y2="219.40" stroke="#999" stroke-width="0.6" />
<line x1="254.40" y1="218.40" x2="254.40" y2="219.40" stroke="#999" stroke-width="0.6" />
<line x1="257.40" y1="218.40" x2="257.40" y2="219.40" stroke="#999" stroke-width="0.6" />
<line x1="268.40" y1="218.40" x2="268.40" y2="219.40" stroke="#999" stroke-width="0.6" />
<line x1="271.40" y1="218.40" x2="271.40" y2="219.40" stroke="#999" stroke-width="0.6" />
<line x1="274.40" y1="218.40" x2="274.40" y2="219.40" stroke="#999" stroke-width="0.6" />
<line x1="284.40" y1="218.40" x2="284.40" y2="219.40" stroke="#999" stroke-width="0.6" />
<line x1="287.40" y1="218.40" x2="287.40" y2="219.40" stroke="#999" stroke-width="0.6" />
<line x1="290.40" y1="218.40" x2="290.40" y2="219.40" stroke="#999" stroke-width="0.6" />
<line x1="300.40" y1="218.40" x2="300.40" y2="219.40" stroke="#999" stroke-width="0.6" />
<line x1="303.40" y1="218.40" x2="303.40" y2="219.40" stroke="#999" stroke-width="0.6" />
<line x1="306.40" y1="218.40" x2="306.40" y2="219.40" stroke="#999" stroke-width="0.6" />
<text x="341.2" y="141.9" font-size="10.4">AML5</text>
<path d="M340.7 148.4H411.7V218.4" fill="none" stroke="#c4c4c4" stroke-width="1"/>
<path d="M340.7 148.4V218.4H411.7" fill="none" stroke="#8a8a8a" stroke-width="0.9"/>
<line x1="338.90" y1="154.60" x2="340.70" y2="154.60" stroke="#555" stroke-width="0.8" />
<text x="335.9" y="157.1" font-size="8.4" text-anchor="end">10<tspan font-size="6.2" dx="0.4" dy="-3.6">5</tspan></text>
<line x1="338.90" y1="170.60" x2="340.70" y2="170.60" stroke="#555" stroke-width="0.8" />
<text x="335.9" y="173.1" font-size="8.4" text-anchor="end">10<tspan font-size="6.2" dx="0.4" dy="-3.6">4</tspan></text>
<line x1="338.90" y1="186.60" x2="340.70" y2="186.60" stroke="#555" stroke-width="0.8" />
<text x="335.9" y="189.1" font-size="8.4" text-anchor="end">10<tspan font-size="6.2" dx="0.4" dy="-3.6">3</tspan></text>
<line x1="338.90" y1="202.20" x2="340.70" y2="202.20" stroke="#555" stroke-width="0.8" />
<text x="335.9" y="204.7" font-size="8.4" text-anchor="end">10<tspan font-size="6.2" dx="0.4" dy="-3.6">2</tspan></text>
<line x1="338.90" y1="211.30" x2="340.70" y2="211.30" stroke="#555" stroke-width="0.8" />
<text x="333.50" y="214.20" font-size="8.4" text-anchor="middle" >0</text>
<line x1="339.70" y1="158.40" x2="340.70" y2="158.40" stroke="#999" stroke-width="0.6" />
<line x1="339.70" y1="162.40" x2="340.70" y2="162.40" stroke="#999" stroke-width="0.6" />
<line x1="339.70" y1="165.40" x2="340.70" y2="165.40" stroke="#999" stroke-width="0.6" />
<line x1="339.70" y1="174.40" x2="340.70" y2="174.40" stroke="#999" stroke-width="0.6" />
<line x1="339.70" y1="178.40" x2="340.70" y2="178.40" stroke="#999" stroke-width="0.6" />
<line x1="339.70" y1="181.40" x2="340.70" y2="181.40" stroke="#999" stroke-width="0.6" />
<line x1="339.70" y1="190.40" x2="340.70" y2="190.40" stroke="#999" stroke-width="0.6" />
<line x1="339.70" y1="194.40" x2="340.70" y2="194.40" stroke="#999" stroke-width="0.6" />
<line x1="339.70" y1="197.40" x2="340.70" y2="197.40" stroke="#999" stroke-width="0.6" />
<text x="352.70" y="231.30" font-size="8.4" text-anchor="middle" >0</text>
<text x="365.8" y="231.3" font-size="8.4">10<tspan font-size="6.2" dx="0.3" dy="-3.6">3</tspan></text>
<text x="382.5" y="231.3" font-size="8.4">10<tspan font-size="6.2" dx="0.3" dy="-3.6">4</tspan></text>
<text x="397.8" y="231.3" font-size="8.4">10<tspan font-size="6.2" dx="0.3" dy="-3.6">5</tspan></text>
<line x1="344.70" y1="218.40" x2="344.70" y2="219.40" stroke="#999" stroke-width="0.6" />
<line x1="348.70" y1="218.40" x2="348.70" y2="219.40" stroke="#999" stroke-width="0.6" />
<line x1="351.70" y1="218.40" x2="351.70" y2="219.40" stroke="#999" stroke-width="0.6" />
<line x1="354.70" y1="218.40" x2="354.70" y2="219.40" stroke="#999" stroke-width="0.6" />
<line x1="357.70" y1="218.40" x2="357.70" y2="219.40" stroke="#999" stroke-width="0.6" />
<line x1="368.70" y1="218.40" x2="368.70" y2="219.40" stroke="#999" stroke-width="0.6" />
<line x1="371.70" y1="218.40" x2="371.70" y2="219.40" stroke="#999" stroke-width="0.6" />
<line x1="374.70" y1="218.40" x2="374.70" y2="219.40" stroke="#999" stroke-width="0.6" />
<line x1="384.70" y1="218.40" x2="384.70" y2="219.40" stroke="#999" stroke-width="0.6" />
<line x1="387.70" y1="218.40" x2="387.70" y2="219.40" stroke="#999" stroke-width="0.6" />
<line x1="390.70" y1="218.40" x2="390.70" y2="219.40" stroke="#999" stroke-width="0.6" />
<line x1="400.70" y1="218.40" x2="400.70" y2="219.40" stroke="#999" stroke-width="0.6" />
<line x1="403.70" y1="218.40" x2="403.70" y2="219.40" stroke="#999" stroke-width="0.6" />
<line x1="406.70" y1="218.40" x2="406.70" y2="219.40" stroke="#999" stroke-width="0.6" />
<text x="441.5" y="141.9" font-size="10.4" textLength="33" lengthAdjust="spacingAndGlyphs">AML22</text>
<path d="M441.0 148.4H512.0V218.4" fill="none" stroke="#c4c4c4" stroke-width="1"/>
<path d="M441.0 148.4V218.4H512.0" fill="none" stroke="#8a8a8a" stroke-width="0.9"/>
<line x1="439.20" y1="154.60" x2="441.00" y2="154.60" stroke="#555" stroke-width="0.8" />
<text x="436.2" y="157.1" font-size="8.4" text-anchor="end">10<tspan font-size="6.2" dx="0.4" dy="-3.6">5</tspan></text>
<line x1="439.20" y1="170.60" x2="441.00" y2="170.60" stroke="#555" stroke-width="0.8" />
<text x="436.2" y="173.1" font-size="8.4" text-anchor="end">10<tspan font-size="6.2" dx="0.4" dy="-3.6">4</tspan></text>
<line x1="439.20" y1="186.60" x2="441.00" y2="186.60" stroke="#555" stroke-width="0.8" />
<text x="436.2" y="189.1" font-size="8.4" text-anchor="end">10<tspan font-size="6.2" dx="0.4" dy="-3.6">3</tspan></text>
<line x1="439.20" y1="202.20" x2="441.00" y2="202.20" stroke="#555" stroke-width="0.8" />
<text x="436.2" y="204.7" font-size="8.4" text-anchor="end">10<tspan font-size="6.2" dx="0.4" dy="-3.6">2</tspan></text>
<line x1="439.20" y1="211.30" x2="441.00" y2="211.30" stroke="#555" stroke-width="0.8" />
<text x="433.80" y="214.20" font-size="8.4" text-anchor="middle" >0</text>
<line x1="440.00" y1="158.40" x2="441.00" y2="158.40" stroke="#999" stroke-width="0.6" />
<line x1="440.00" y1="162.40" x2="441.00" y2="162.40" stroke="#999" stroke-width="0.6" />
<line x1="440.00" y1="165.40" x2="441.00" y2="165.40" stroke="#999" stroke-width="0.6" />
<line x1="440.00" y1="174.40" x2="441.00" y2="174.40" stroke="#999" stroke-width="0.6" />
<line x1="440.00" y1="178.40" x2="441.00" y2="178.40" stroke="#999" stroke-width="0.6" />
<line x1="440.00" y1="181.40" x2="441.00" y2="181.40" stroke="#999" stroke-width="0.6" />
<line x1="440.00" y1="190.40" x2="441.00" y2="190.40" stroke="#999" stroke-width="0.6" />
<line x1="440.00" y1="194.40" x2="441.00" y2="194.40" stroke="#999" stroke-width="0.6" />
<line x1="440.00" y1="197.40" x2="441.00" y2="197.40" stroke="#999" stroke-width="0.6" />
<text x="453.00" y="231.30" font-size="8.4" text-anchor="middle" >0</text>
<text x="466.1" y="231.3" font-size="8.4">10<tspan font-size="6.2" dx="0.3" dy="-3.6">3</tspan></text>
<text x="482.8" y="231.3" font-size="8.4">10<tspan font-size="6.2" dx="0.3" dy="-3.6">4</tspan></text>
<text x="498.1" y="231.3" font-size="8.4">10<tspan font-size="6.2" dx="0.3" dy="-3.6">5</tspan></text>
<line x1="445.00" y1="218.40" x2="445.00" y2="219.40" stroke="#999" stroke-width="0.6" />
<line x1="449.00" y1="218.40" x2="449.00" y2="219.40" stroke="#999" stroke-width="0.6" />
<line x1="452.00" y1="218.40" x2="452.00" y2="219.40" stroke="#999" stroke-width="0.6" />
<line x1="455.00" y1="218.40" x2="455.00" y2="219.40" stroke="#999" stroke-width="0.6" />
<line x1="458.00" y1="218.40" x2="458.00" y2="219.40" stroke="#999" stroke-width="0.6" />
<line x1="469.00" y1="218.40" x2="469.00" y2="219.40" stroke="#999" stroke-width="0.6" />
<line x1="472.00" y1="218.40" x2="472.00" y2="219.40" stroke="#999" stroke-width="0.6" />
<line x1="475.00" y1="218.40" x2="475.00" y2="219.40" stroke="#999" stroke-width="0.6" />
<line x1="485.00" y1="218.40" x2="485.00" y2="219.40" stroke="#999" stroke-width="0.6" />
<line x1="488.00" y1="218.40" x2="488.00" y2="219.40" stroke="#999" stroke-width="0.6" />
<line x1="491.00" y1="218.40" x2="491.00" y2="219.40" stroke="#999" stroke-width="0.6" />
<line x1="501.00" y1="218.40" x2="501.00" y2="219.40" stroke="#999" stroke-width="0.6" />
<line x1="504.00" y1="218.40" x2="504.00" y2="219.40" stroke="#999" stroke-width="0.6" />
<line x1="507.00" y1="218.40" x2="507.00" y2="219.40" stroke="#999" stroke-width="0.6" />
<text x="240.9" y="252.3" font-size="10.4" textLength="33" lengthAdjust="spacingAndGlyphs">AML38</text>
<path d="M240.4 256.5H311.4V326.5" fill="none" stroke="#c4c4c4" stroke-width="1"/>
<path d="M240.4 256.5V326.5H311.4" fill="none" stroke="#8a8a8a" stroke-width="0.9"/>
<line x1="238.60" y1="262.70" x2="240.40" y2="262.70" stroke="#555" stroke-width="0.8" />
<text x="235.6" y="265.2" font-size="8.4" text-anchor="end">10<tspan font-size="6.2" dx="0.4" dy="-3.6">5</tspan></text>
<line x1="238.60" y1="278.70" x2="240.40" y2="278.70" stroke="#555" stroke-width="0.8" />
<text x="235.6" y="281.2" font-size="8.4" text-anchor="end">10<tspan font-size="6.2" dx="0.4" dy="-3.6">4</tspan></text>
<line x1="238.60" y1="294.70" x2="240.40" y2="294.70" stroke="#555" stroke-width="0.8" />
<text x="235.6" y="297.2" font-size="8.4" text-anchor="end">10<tspan font-size="6.2" dx="0.4" dy="-3.6">3</tspan></text>
<line x1="238.60" y1="310.30" x2="240.40" y2="310.30" stroke="#555" stroke-width="0.8" />
<text x="235.6" y="312.8" font-size="8.4" text-anchor="end">10<tspan font-size="6.2" dx="0.4" dy="-3.6">2</tspan></text>
<line x1="238.60" y1="319.40" x2="240.40" y2="319.40" stroke="#555" stroke-width="0.8" />
<text x="233.20" y="322.30" font-size="8.4" text-anchor="middle" >0</text>
<line x1="239.40" y1="266.50" x2="240.40" y2="266.50" stroke="#999" stroke-width="0.6" />
<line x1="239.40" y1="270.50" x2="240.40" y2="270.50" stroke="#999" stroke-width="0.6" />
<line x1="239.40" y1="273.50" x2="240.40" y2="273.50" stroke="#999" stroke-width="0.6" />
<line x1="239.40" y1="282.50" x2="240.40" y2="282.50" stroke="#999" stroke-width="0.6" />
<line x1="239.40" y1="286.50" x2="240.40" y2="286.50" stroke="#999" stroke-width="0.6" />
<line x1="239.40" y1="289.50" x2="240.40" y2="289.50" stroke="#999" stroke-width="0.6" />
<line x1="239.40" y1="298.50" x2="240.40" y2="298.50" stroke="#999" stroke-width="0.6" />
<line x1="239.40" y1="302.50" x2="240.40" y2="302.50" stroke="#999" stroke-width="0.6" />
<line x1="239.40" y1="305.50" x2="240.40" y2="305.50" stroke="#999" stroke-width="0.6" />
<text x="252.40" y="339.40" font-size="8.4" text-anchor="middle" >0</text>
<text x="265.5" y="339.4" font-size="8.4">10<tspan font-size="6.2" dx="0.3" dy="-3.6">3</tspan></text>
<text x="282.2" y="339.4" font-size="8.4">10<tspan font-size="6.2" dx="0.3" dy="-3.6">4</tspan></text>
<text x="297.5" y="339.4" font-size="8.4">10<tspan font-size="6.2" dx="0.3" dy="-3.6">5</tspan></text>
<line x1="244.40" y1="326.50" x2="244.40" y2="327.50" stroke="#999" stroke-width="0.6" />
<line x1="248.40" y1="326.50" x2="248.40" y2="327.50" stroke="#999" stroke-width="0.6" />
<line x1="251.40" y1="326.50" x2="251.40" y2="327.50" stroke="#999" stroke-width="0.6" />
<line x1="254.40" y1="326.50" x2="254.40" y2="327.50" stroke="#999" stroke-width="0.6" />
<line x1="257.40" y1="326.50" x2="257.40" y2="327.50" stroke="#999" stroke-width="0.6" />
<line x1="268.40" y1="326.50" x2="268.40" y2="327.50" stroke="#999" stroke-width="0.6" />
<line x1="271.40" y1="326.50" x2="271.40" y2="327.50" stroke="#999" stroke-width="0.6" />
<line x1="274.40" y1="326.50" x2="274.40" y2="327.50" stroke="#999" stroke-width="0.6" />
<line x1="284.40" y1="326.50" x2="284.40" y2="327.50" stroke="#999" stroke-width="0.6" />
<line x1="287.40" y1="326.50" x2="287.40" y2="327.50" stroke="#999" stroke-width="0.6" />
<line x1="290.40" y1="326.50" x2="290.40" y2="327.50" stroke="#999" stroke-width="0.6" />
<line x1="300.40" y1="326.50" x2="300.40" y2="327.50" stroke="#999" stroke-width="0.6" />
<line x1="303.40" y1="326.50" x2="303.40" y2="327.50" stroke="#999" stroke-width="0.6" />
<line x1="306.40" y1="326.50" x2="306.40" y2="327.50" stroke="#999" stroke-width="0.6" />
<text x="341.2" y="252.3" font-size="10.4" textLength="33" lengthAdjust="spacingAndGlyphs">AML13</text>
<path d="M340.7 256.5H411.7V326.5" fill="none" stroke="#c4c4c4" stroke-width="1"/>
<path d="M340.7 256.5V326.5H411.7" fill="none" stroke="#8a8a8a" stroke-width="0.9"/>
<line x1="338.90" y1="262.70" x2="340.70" y2="262.70" stroke="#555" stroke-width="0.8" />
<text x="335.9" y="265.2" font-size="8.4" text-anchor="end">10<tspan font-size="6.2" dx="0.4" dy="-3.6">5</tspan></text>
<line x1="338.90" y1="278.70" x2="340.70" y2="278.70" stroke="#555" stroke-width="0.8" />
<text x="335.9" y="281.2" font-size="8.4" text-anchor="end">10<tspan font-size="6.2" dx="0.4" dy="-3.6">4</tspan></text>
<line x1="338.90" y1="294.70" x2="340.70" y2="294.70" stroke="#555" stroke-width="0.8" />
<text x="335.9" y="297.2" font-size="8.4" text-anchor="end">10<tspan font-size="6.2" dx="0.4" dy="-3.6">3</tspan></text>
<line x1="338.90" y1="310.30" x2="340.70" y2="310.30" stroke="#555" stroke-width="0.8" />
<text x="335.9" y="312.8" font-size="8.4" text-anchor="end">10<tspan font-size="6.2" dx="0.4" dy="-3.6">2</tspan></text>
<line x1="338.90" y1="319.40" x2="340.70" y2="319.40" stroke="#555" stroke-width="0.8" />
<text x="333.50" y="322.30" font-size="8.4" text-anchor="middle" >0</text>
<line x1="339.70" y1="266.50" x2="340.70" y2="266.50" stroke="#999" stroke-width="0.6" />
<line x1="339.70" y1="270.50" x2="340.70" y2="270.50" stroke="#999" stroke-width="0.6" />
<line x1="339.70" y1="273.50" x2="340.70" y2="273.50" stroke="#999" stroke-width="0.6" />
<line x1="339.70" y1="282.50" x2="340.70" y2="282.50" stroke="#999" stroke-width="0.6" />
<line x1="339.70" y1="286.50" x2="340.70" y2="286.50" stroke="#999" stroke-width="0.6" />
<line x1="339.70" y1="289.50" x2="340.70" y2="289.50" stroke="#999" stroke-width="0.6" />
<line x1="339.70" y1="298.50" x2="340.70" y2="298.50" stroke="#999" stroke-width="0.6" />
<line x1="339.70" y1="302.50" x2="340.70" y2="302.50" stroke="#999" stroke-width="0.6" />
<line x1="339.70" y1="305.50" x2="340.70" y2="305.50" stroke="#999" stroke-width="0.6" />
<text x="352.70" y="339.40" font-size="8.4" text-anchor="middle" >0</text>
<text x="365.8" y="339.4" font-size="8.4">10<tspan font-size="6.2" dx="0.3" dy="-3.6">3</tspan></text>
<text x="382.5" y="339.4" font-size="8.4">10<tspan font-size="6.2" dx="0.3" dy="-3.6">4</tspan></text>
<text x="397.8" y="339.4" font-size="8.4">10<tspan font-size="6.2" dx="0.3" dy="-3.6">5</tspan></text>
<line x1="344.70" y1="326.50" x2="344.70" y2="327.50" stroke="#999" stroke-width="0.6" />
<line x1="348.70" y1="326.50" x2="348.70" y2="327.50" stroke="#999" stroke-width="0.6" />
<line x1="351.70" y1="326.50" x2="351.70" y2="327.50" stroke="#999" stroke-width="0.6" />
<line x1="354.70" y1="326.50" x2="354.70" y2="327.50" stroke="#999" stroke-width="0.6" />
<line x1="357.70" y1="326.50" x2="357.70" y2="327.50" stroke="#999" stroke-width="0.6" />
<line x1="368.70" y1="326.50" x2="368.70" y2="327.50" stroke="#999" stroke-width="0.6" />
<line x1="371.70" y1="326.50" x2="371.70" y2="327.50" stroke="#999" stroke-width="0.6" />
<line x1="374.70" y1="326.50" x2="374.70" y2="327.50" stroke="#999" stroke-width="0.6" />
<line x1="384.70" y1="326.50" x2="384.70" y2="327.50" stroke="#999" stroke-width="0.6" />
<line x1="387.70" y1="326.50" x2="387.70" y2="327.50" stroke="#999" stroke-width="0.6" />
<line x1="390.70" y1="326.50" x2="390.70" y2="327.50" stroke="#999" stroke-width="0.6" />
<line x1="400.70" y1="326.50" x2="400.70" y2="327.50" stroke="#999" stroke-width="0.6" />
<line x1="403.70" y1="326.50" x2="403.70" y2="327.50" stroke="#999" stroke-width="0.6" />
<line x1="406.70" y1="326.50" x2="406.70" y2="327.50" stroke="#999" stroke-width="0.6" />
<text x="441.5" y="252.3" font-size="10.4" textLength="33" lengthAdjust="spacingAndGlyphs">AML21</text>
<path d="M441.0 256.5H512.0V326.5" fill="none" stroke="#c4c4c4" stroke-width="1"/>
<path d="M441.0 256.5V326.5H512.0" fill="none" stroke="#8a8a8a" stroke-width="0.9"/>
<line x1="439.20" y1="262.70" x2="441.00" y2="262.70" stroke="#555" stroke-width="0.8" />
<text x="436.2" y="265.2" font-size="8.4" text-anchor="end">10<tspan font-size="6.2" dx="0.4" dy="-3.6">5</tspan></text>
<line x1="439.20" y1="278.70" x2="441.00" y2="278.70" stroke="#555" stroke-width="0.8" />
<text x="436.2" y="281.2" font-size="8.4" text-anchor="end">10<tspan font-size="6.2" dx="0.4" dy="-3.6">4</tspan></text>
<line x1="439.20" y1="294.70" x2="441.00" y2="294.70" stroke="#555" stroke-width="0.8" />
<text x="436.2" y="297.2" font-size="8.4" text-anchor="end">10<tspan font-size="6.2" dx="0.4" dy="-3.6">3</tspan></text>
<line x1="439.20" y1="310.30" x2="441.00" y2="310.30" stroke="#555" stroke-width="0.8" />
<text x="436.2" y="312.8" font-size="8.4" text-anchor="end">10<tspan font-size="6.2" dx="0.4" dy="-3.6">2</tspan></text>
<line x1="439.20" y1="319.40" x2="441.00" y2="319.40" stroke="#555" stroke-width="0.8" />
<text x="433.80" y="322.30" font-size="8.4" text-anchor="middle" >0</text>
<line x1="440.00" y1="266.50" x2="441.00" y2="266.50" stroke="#999" stroke-width="0.6" />
<line x1="440.00" y1="270.50" x2="441.00" y2="270.50" stroke="#999" stroke-width="0.6" />
<line x1="440.00" y1="273.50" x2="441.00" y2="273.50" stroke="#999" stroke-width="0.6" />
<line x1="440.00" y1="282.50" x2="441.00" y2="282.50" stroke="#999" stroke-width="0.6" />
<line x1="440.00" y1="286.50" x2="441.00" y2="286.50" stroke="#999" stroke-width="0.6" />
<line x1="440.00" y1="289.50" x2="441.00" y2="289.50" stroke="#999" stroke-width="0.6" />
<line x1="440.00" y1="298.50" x2="441.00" y2="298.50" stroke="#999" stroke-width="0.6" />
<line x1="440.00" y1="302.50" x2="441.00" y2="302.50" stroke="#999" stroke-width="0.6" />
<line x1="440.00" y1="305.50" x2="441.00" y2="305.50" stroke="#999" stroke-width="0.6" />
<text x="453.00" y="339.40" font-size="8.4" text-anchor="middle" >0</text>
<text x="466.1" y="339.4" font-size="8.4">10<tspan font-size="6.2" dx="0.3" dy="-3.6">3</tspan></text>
<text x="482.8" y="339.4" font-size="8.4">10<tspan font-size="6.2" dx="0.3" dy="-3.6">4</tspan></text>
<text x="498.1" y="339.4" font-size="8.4">10<tspan font-size="6.2" dx="0.3" dy="-3.6">5</tspan></text>
<line x1="445.00" y1="326.50" x2="445.00" y2="327.50" stroke="#999" stroke-width="0.6" />
<line x1="449.00" y1="326.50" x2="449.00" y2="327.50" stroke="#999" stroke-width="0.6" />
<line x1="452.00" y1="326.50" x2="452.00" y2="327.50" stroke="#999" stroke-width="0.6" />
<line x1="455.00" y1="326.50" x2="455.00" y2="327.50" stroke="#999" stroke-width="0.6" />
<line x1="458.00" y1="326.50" x2="458.00" y2="327.50" stroke="#999" stroke-width="0.6" />
<line x1="469.00" y1="326.50" x2="469.00" y2="327.50" stroke="#999" stroke-width="0.6" />
<line x1="472.00" y1="326.50" x2="472.00" y2="327.50" stroke="#999" stroke-width="0.6" />
<line x1="475.00" y1="326.50" x2="475.00" y2="327.50" stroke="#999" stroke-width="0.6" />
<line x1="485.00" y1="326.50" x2="485.00" y2="327.50" stroke="#999" stroke-width="0.6" />
<line x1="488.00" y1="326.50" x2="488.00" y2="327.50" stroke="#999" stroke-width="0.6" />
<line x1="491.00" y1="326.50" x2="491.00" y2="327.50" stroke="#999" stroke-width="0.6" />
<line x1="501.00" y1="326.50" x2="501.00" y2="327.50" stroke="#999" stroke-width="0.6" />
<line x1="504.00" y1="326.50" x2="504.00" y2="327.50" stroke="#999" stroke-width="0.6" />
<line x1="507.00" y1="326.50" x2="507.00" y2="327.50" stroke="#999" stroke-width="0.6" />
<line x1="212.40" y1="42.50" x2="212.40" y2="307.50" stroke="#000" stroke-width="1.1" />
<path d="M212.4 38.5L210.0 44.5L214.8 44.5z" fill="#000"/>
<text transform="translate(215.6,328.6) rotate(-90)" font-size="10.6" textLength="17.4" lengthAdjust="spacingAndGlyphs" stroke="#000" stroke-width="0.25">CD45</text>
<line x1="264.00" y1="351.00" x2="508.00" y2="351.00" stroke="#000" stroke-width="1.1" />
<path d="M512.5 351L506.5 348.6L506.5 353.4z" fill="#000"/>
<text x="239.1" y="354.2" font-size="10.6" textLength="20.7" lengthAdjust="spacingAndGlyphs" stroke="#000" stroke-width="0.25">CD200</text>
<path d="M241 68h1v1h-1zM241 93h1v1h-1zM242 84h1v1h-1zM242 89h1v1h-1zM243 80h1v1h-1zM244 96h1v1h-1zM245 81h1v1h-1zM246 84h1v1h-1zM246 90h1v1h-1zM247 68h1v1h-1zM247 77h1v1h-1zM248 77h1v1h-1zM248 80h1v1h-1zM248 90h1v1h-1zM248 96h1v1h-1zM249 84h1v1h-1zM249 87h1v1h-1zM250 89h1v1h-1zM250 91h1v1h-1zM251 75h1v1h-1zM251 78h1v1h-1zM251 84h1v1h-1zM251 97h1v1h-1zM252 81h1v1h-1zM252 91h1v1h-1zM252 92h1v1h-1zM253 70h1v1h-1zM253 73h1v1h-1zM253 78h1v1h-1zM253 87h1v1h-1zM254 81h1v1h-1zM254 85h1v1h-1zM254 87h1v1h-1zM255 70h1v1h-1zM255 79h1v1h-1zM255 81h1v1h-1zM255 86h1v1h-1zM256 74h1v1h-1zM256 76h1v1h-1zM256 79h1v1h-1zM256 83h1v1h-1zM256 84h1v1h-1zM256 91h1v1h-1zM257 89h1v1h-1zM257 90h1v1h-1zM257 91h1v1h-1zM257 95h1v1h-1zM258 71h1v1h-1zM258 93h1v1h-1zM259 70h1v1h-1zM259 83h1v1h-1zM259 87h1v1h-1zM259 88h1v1h-1zM259 92h1v1h-1zM260 77h1v1h-1zM260 85h1v1h-1zM260 87h1v1h-1zM261 75h1v1h-1zM261 76h1v1h-1zM261 81h1v1h-1zM261 83h1v1h-1zM261 85h1v1h-1zM261 87h1v1h-1zM262 68h1v1h-1zM262 83h1v1h-1zM262 84h1v1h-1zM262 85h1v1h-1zM263 76h1v1h-1zM263 80h1v1h-1zM263 81h1v1h-1zM263 86h1v1h-1zM263 91h1v1h-1zM263 92h1v1h-1zM264 73h1v1h-1zM264 76h1v1h-1zM264 82h1v1h-1zM264 84h1v1h-1zM265 68h1v1h-1zM265 90h1v1h-1zM266 65h1v1h-1zM266 83h1v1h-1zM266 87h1v1h-1zM266 95h1v1h-1zM266 96h1v1h-1zM267 79h1v1h-1zM268 71h1v1h-1zM268 80h1v1h-1zM268 82h1v1h-1zM268 84h1v1h-1zM268 86h1v1h-1zM268 89h1v1h-1zM269 57h1v1h-1zM269 68h1v1h-1zM269 79h1v1h-1zM269 83h1v1h-1zM269 85h1v1h-1zM269 89h1v1h-1zM269 95h1v1h-1zM271 63h1v1h-1zM271 70h1v1h-1zM271 88h1v1h-1zM272 72h1v1h-1zM272 79h1v1h-1zM273 72h1v1h-1zM273 73h1v1h-1zM273 77h1v1h-1zM273 80h1v1h-1zM273 85h1v1h-1zM273 87h1v1h-1zM273 96h1v1h-1zM274 87h1v1h-1zM276 82h1v1h-1zM277 58h1v1h-1zM279 84h1v1h-1zM283 85h1v1h-1zM286 71h1v1h-1z" fill="#d84848" opacity="0.3"/>
<path d="M260 75h1v1h-1zM261 77h1v1h-1zM261 81h1v1h-1zM262 77h1v1h-1zM262 78h1v1h-1zM263 80h1v1h-1zM263 81h1v1h-1zM263 82h1v1h-1zM263 83h1v1h-1zM264 78h1v1h-1zM264 82h1v1h-1zM265 76h1v1h-1zM265 79h1v1h-1zM265 81h1v1h-1zM265 82h1v1h-1zM265 83h1v1h-1zM266 78h1v1h-1zM266 80h1v1h-1zM266 81h1v1h-1zM266 82h1v1h-1zM266 83h1v1h-1zM266 84h1v1h-1zM267 78h1v1h-1zM267 79h1v1h-1zM267 80h1v1h-1zM267 81h1v1h-1zM267 83h1v1h-1zM267 84h1v1h-1zM267 85h1v1h-1zM268 79h1v1h-1zM268 81h1v1h-1zM268 82h1v1h-1zM268 83h1v1h-1zM268 84h1v1h-1zM268 85h1v1h-1zM268 86h1v1h-1zM269 80h1v1h-1zM269 83h1v1h-1zM269 84h1v1h-1zM269 85h1v1h-1zM269 86h1v1h-1zM269 88h1v1h-1zM270 79h1v1h-1zM270 80h1v1h-1zM270 82h1v1h-1zM270 83h1v1h-1zM270 84h1v1h-1zM270 85h1v1h-1zM271 78h1v1h-1zM271 80h1v1h-1zM271 81h1v1h-1zM271 82h1v1h-1zM271 84h1v1h-1zM271 85h1v1h-1zM271 86h1v1h-1zM271 87h1v1h-1zM271 88h1v1h-1zM272 81h1v1h-1zM272 84h1v1h-1zM272 85h1v1h-1zM272 86h1v1h-1zM272 88h1v1h-1zM273 82h1v1h-1zM273 83h1v1h-1zM273 84h1v1h-1zM273 86h1v1h-1zM273 87h1v1h-1zM274 81h1v1h-1zM274 82h1v1h-1zM274 83h1v1h-1zM274 84h1v1h-1zM274 86h1v1h-1zM274 87h1v1h-1zM274 88h1v1h-1zM274 89h1v1h-1zM274 90h1v1h-1zM275 84h1v1h-1zM275 86h1v1h-1zM275 87h1v1h-1zM275 88h1v1h-1zM276 82h1v1h-1zM276 85h1v1h-1zM276 86h1v1h-1zM276 88h1v1h-1zM276 89h1v1h-1zM277 84h1v1h-1zM277 85h1v1h-1zM277 86h1v1h-1zM277 87h1v1h-1zM277 88h1v1h-1zM277 89h1v1h-1zM278 84h1v1h-1zM278 86h1v1h-1zM278 87h1v1h-1zM279 87h1v1h-1zM279 88h1v1h-1zM279 89h1v1h-1zM279 92h1v1h-1zM280 86h1v1h-1zM280 88h1v1h-1zM280 91h1v1h-1zM281 87h1v1h-1zM281 89h1v1h-1zM281 92h1v1h-1zM282 90h1v1h-1z" fill="#d84848" opacity="0.75"/>
<path d="M244 65h1v1h-1zM245 65h1v1h-1zM246 66h1v1h-1zM247 65h1v1h-1zM247 66h1v1h-1zM247 68h1v1h-1zM248 65h1v1h-1zM248 66h1v1h-1zM248 67h1v1h-1zM248 69h1v1h-1zM249 65h1v1h-1zM249 66h1v1h-1zM249 67h1v1h-1zM249 68h1v1h-1zM249 69h1v1h-1zM250 64h1v1h-1zM250 66h1v1h-1zM250 67h1v1h-1zM250 68h1v1h-1zM251 64h1v1h-1zM251 67h1v1h-1zM251 68h1v1h-1zM252 67h1v1h-1zM252 69h1v1h-1zM253 65h1v1h-1zM253 66h1v1h-1zM253 67h1v1h-1zM253 69h1v1h-1zM254 65h1v1h-1zM254 66h1v1h-1zM254 70h1v1h-1zM255 66h1v1h-1zM255 67h1v1h-1zM255 68h1v1h-1zM256 64h1v1h-1zM256 65h1v1h-1zM256 66h1v1h-1zM256 67h1v1h-1zM257 65h1v1h-1zM257 66h1v1h-1zM258 66h1v1h-1zM258 68h1v1h-1z" fill="#d84848" opacity="0.6"/>
<ellipse cx="254.5" cy="77.6" rx="10.0" ry="7.0" fill="#6a75b8" opacity="0.3" transform="rotate(-5 254.5 77.6)" filter="url(#b2)"/>
<path d="M242 76h1v1h-1zM242 77h1v1h-1zM243 78h1v1h-1zM243 80h1v1h-1zM243 81h1v1h-1zM244 73h1v1h-1zM244 76h1v1h-1zM245 73h1v1h-1zM245 74h1v1h-1zM245 75h1v1h-1zM245 77h1v1h-1zM245 78h1v1h-1zM245 79h1v1h-1zM245 80h1v1h-1zM245 81h1v1h-1zM245 82h1v1h-1zM245 83h1v1h-1zM246 72h1v1h-1zM246 73h1v1h-1zM246 74h1v1h-1zM246 75h1v1h-1zM246 76h1v1h-1zM246 77h1v1h-1zM246 79h1v1h-1zM246 80h1v1h-1zM246 81h1v1h-1zM246 82h1v1h-1zM247 69h1v1h-1zM247 71h1v1h-1zM247 72h1v1h-1zM247 73h1v1h-1zM247 74h1v1h-1zM247 75h1v1h-1zM247 77h1v1h-1zM247 78h1v1h-1zM247 79h1v1h-1zM247 81h1v1h-1zM247 82h1v1h-1zM247 83h1v1h-1zM247 84h1v1h-1zM248 71h1v1h-1zM248 73h1v1h-1zM248 74h1v1h-1zM248 75h1v1h-1zM248 77h1v1h-1zM248 78h1v1h-1zM248 79h1v1h-1zM248 80h1v1h-1zM248 81h1v1h-1zM248 82h1v1h-1zM248 83h1v1h-1zM249 71h1v1h-1zM249 73h1v1h-1zM249 75h1v1h-1zM249 76h1v1h-1zM249 77h1v1h-1zM249 78h1v1h-1zM249 79h1v1h-1zM249 80h1v1h-1zM249 82h1v1h-1zM249 85h1v1h-1zM250 70h1v1h-1zM250 72h1v1h-1zM250 74h1v1h-1zM250 75h1v1h-1zM250 77h1v1h-1zM250 78h1v1h-1zM250 80h1v1h-1zM250 81h1v1h-1zM250 82h1v1h-1zM250 83h1v1h-1zM250 84h1v1h-1zM250 87h1v1h-1zM251 70h1v1h-1zM251 71h1v1h-1zM251 74h1v1h-1zM251 76h1v1h-1zM251 78h1v1h-1zM251 79h1v1h-1zM251 80h1v1h-1zM251 81h1v1h-1zM251 82h1v1h-1zM251 83h1v1h-1zM251 84h1v1h-1zM252 70h1v1h-1zM252 71h1v1h-1zM252 72h1v1h-1zM252 74h1v1h-1zM252 75h1v1h-1zM252 78h1v1h-1zM252 79h1v1h-1zM252 80h1v1h-1zM252 81h1v1h-1zM252 82h1v1h-1zM252 83h1v1h-1zM252 84h1v1h-1zM253 70h1v1h-1zM253 71h1v1h-1zM253 72h1v1h-1zM253 74h1v1h-1zM253 75h1v1h-1zM253 76h1v1h-1zM253 78h1v1h-1zM253 79h1v1h-1zM253 80h1v1h-1zM253 81h1v1h-1zM253 82h1v1h-1zM253 84h1v1h-1zM253 85h1v1h-1zM254 69h1v1h-1zM254 71h1v1h-1zM254 72h1v1h-1zM254 73h1v1h-1zM254 75h1v1h-1zM254 76h1v1h-1zM254 77h1v1h-1zM254 78h1v1h-1zM254 79h1v1h-1zM254 80h1v1h-1zM254 81h1v1h-1zM254 83h1v1h-1zM254 84h1v1h-1zM254 85h1v1h-1zM255 70h1v1h-1zM255 72h1v1h-1zM255 73h1v1h-1zM255 74h1v1h-1zM255 75h1v1h-1zM255 76h1v1h-1zM255 77h1v1h-1zM255 78h1v1h-1zM255 79h1v1h-1zM255 80h1v1h-1zM255 81h1v1h-1zM255 82h1v1h-1zM255 83h1v1h-1zM255 86h1v1h-1zM256 69h1v1h-1zM256 70h1v1h-1zM256 72h1v1h-1zM256 73h1v1h-1zM256 74h1v1h-1zM256 75h1v1h-1zM256 77h1v1h-1zM256 81h1v1h-1zM256 82h1v1h-1zM256 83h1v1h-1zM257 71h1v1h-1zM257 72h1v1h-1zM257 73h1v1h-1zM257 74h1v1h-1zM257 76h1v1h-1zM257 77h1v1h-1zM257 78h1v1h-1zM257 80h1v1h-1zM257 82h1v1h-1zM257 83h1v1h-1zM257 85h1v1h-1zM258 70h1v1h-1zM258 71h1v1h-1zM258 72h1v1h-1zM258 73h1v1h-1zM258 74h1v1h-1zM258 75h1v1h-1zM258 76h1v1h-1zM258 77h1v1h-1zM258 78h1v1h-1zM258 79h1v1h-1zM258 81h1v1h-1zM258 82h1v1h-1zM258 83h1v1h-1zM258 84h1v1h-1zM259 71h1v1h-1zM259 72h1v1h-1zM259 73h1v1h-1zM259 74h1v1h-1zM259 75h1v1h-1zM259 76h1v1h-1zM259 78h1v1h-1zM259 79h1v1h-1zM259 80h1v1h-1zM259 81h1v1h-1zM259 82h1v1h-1zM259 83h1v1h-1zM260 73h1v1h-1zM260 74h1v1h-1zM260 75h1v1h-1zM260 76h1v1h-1zM260 79h1v1h-1zM260 81h1v1h-1zM260 82h1v1h-1zM261 71h1v1h-1zM261 72h1v1h-1zM261 73h1v1h-1zM261 74h1v1h-1zM261 75h1v1h-1zM261 76h1v1h-1zM261 77h1v1h-1zM261 81h1v1h-1zM261 82h1v1h-1zM262 72h1v1h-1zM262 73h1v1h-1zM262 74h1v1h-1zM262 75h1v1h-1zM262 76h1v1h-1zM262 77h1v1h-1zM262 78h1v1h-1zM262 81h1v1h-1zM263 71h1v1h-1zM263 72h1v1h-1zM263 74h1v1h-1zM263 75h1v1h-1zM263 78h1v1h-1zM263 80h1v1h-1zM264 71h1v1h-1zM264 82h1v1h-1zM265 74h1v1h-1zM265 77h1v1h-1zM265 78h1v1h-1zM265 79h1v1h-1zM266 74h1v1h-1zM266 77h1v1h-1zM266 78h1v1h-1z" fill="#6a75b8" opacity="0.8"/>
<ellipse cx="254.5" cy="77.6" rx="8.8" ry="6.2" fill="#3d4ba0" opacity="1.0" transform="rotate(-5 254.5 77.6)" filter="url(#b3)"/>
<path d="M246 96h1v1h-1zM246 99h1v1h-1zM248 95h1v1h-1zM248 96h1v1h-1zM249 95h1v1h-1zM249 96h1v1h-1zM249 99h1v1h-1zM250 96h1v1h-1zM250 97h1v1h-1zM250 98h1v1h-1zM250 99h1v1h-1zM250 100h1v1h-1zM251 94h1v1h-1zM251 95h1v1h-1zM251 96h1v1h-1zM251 97h1v1h-1zM251 99h1v1h-1zM251 100h1v1h-1zM251 101h1v1h-1zM252 92h1v1h-1zM252 93h1v1h-1zM252 94h1v1h-1zM252 95h1v1h-1zM252 96h1v1h-1zM252 97h1v1h-1zM252 98h1v1h-1zM252 100h1v1h-1zM252 101h1v1h-1zM253 93h1v1h-1zM253 94h1v1h-1zM253 95h1v1h-1zM253 96h1v1h-1zM253 97h1v1h-1zM253 98h1v1h-1zM253 99h1v1h-1zM253 101h1v1h-1zM254 94h1v1h-1zM254 95h1v1h-1zM254 96h1v1h-1zM254 97h1v1h-1zM254 99h1v1h-1zM254 100h1v1h-1zM254 101h1v1h-1zM254 102h1v1h-1zM255 93h1v1h-1zM255 94h1v1h-1zM255 95h1v1h-1zM255 96h1v1h-1zM255 98h1v1h-1zM255 100h1v1h-1zM255 101h1v1h-1zM255 102h1v1h-1zM256 94h1v1h-1zM256 95h1v1h-1zM256 96h1v1h-1zM256 97h1v1h-1zM256 98h1v1h-1zM256 99h1v1h-1zM257 95h1v1h-1zM257 96h1v1h-1zM257 98h1v1h-1zM257 99h1v1h-1zM257 101h1v1h-1zM258 93h1v1h-1zM258 94h1v1h-1zM258 95h1v1h-1zM258 98h1v1h-1zM259 97h1v1h-1zM259 98h1v1h-1zM259 99h1v1h-1z" fill="#c03848" opacity="0.75"/>
<path d="M249 97h1v1h-1zM250 96h1v1h-1zM250 97h1v1h-1zM250 98h1v1h-1zM251 95h1v1h-1zM251 96h1v1h-1zM251 97h1v1h-1zM252 94h1v1h-1zM252 96h1v1h-1zM252 98h1v1h-1zM252 100h1v1h-1zM253 96h1v1h-1zM253 97h1v1h-1zM253 100h1v1h-1zM254 94h1v1h-1zM254 96h1v1h-1zM254 97h1v1h-1zM254 98h1v1h-1zM254 99h1v1h-1zM254 100h1v1h-1zM255 96h1v1h-1zM255 100h1v1h-1zM255 101h1v1h-1zM256 96h1v1h-1zM256 98h1v1h-1zM256 99h1v1h-1zM257 97h1v1h-1zM257 98h1v1h-1zM257 99h1v1h-1zM258 97h1v1h-1z" fill="#5a5aa8" opacity="0.7"/>
<ellipse cx="286.2" cy="77.0" rx="10.2" ry="8.6" fill="#d84848" opacity="0.3" transform="rotate(-15 286.2 77.0)" filter="url(#b2)"/>
<path d="M274 76h1v1h-1zM275 73h1v1h-1zM275 75h1v1h-1zM275 77h1v1h-1zM275 81h1v1h-1zM275 82h1v1h-1zM276 72h1v1h-1zM276 73h1v1h-1zM276 77h1v1h-1zM276 79h1v1h-1zM276 80h1v1h-1zM276 81h1v1h-1zM277 71h1v1h-1zM277 74h1v1h-1zM277 75h1v1h-1zM277 78h1v1h-1zM277 79h1v1h-1zM277 81h1v1h-1zM277 82h1v1h-1zM278 69h1v1h-1zM278 71h1v1h-1zM278 73h1v1h-1zM278 74h1v1h-1zM278 79h1v1h-1zM278 81h1v1h-1zM278 82h1v1h-1zM278 84h1v1h-1zM279 68h1v1h-1zM279 72h1v1h-1zM279 75h1v1h-1zM279 77h1v1h-1zM279 78h1v1h-1zM279 79h1v1h-1zM279 80h1v1h-1zM279 81h1v1h-1zM279 82h1v1h-1zM279 83h1v1h-1zM280 69h1v1h-1zM280 70h1v1h-1zM280 71h1v1h-1zM280 72h1v1h-1zM280 73h1v1h-1zM280 75h1v1h-1zM280 76h1v1h-1zM280 77h1v1h-1zM280 79h1v1h-1zM280 80h1v1h-1zM280 81h1v1h-1zM280 83h1v1h-1zM281 67h1v1h-1zM281 70h1v1h-1zM281 71h1v1h-1zM281 72h1v1h-1zM281 73h1v1h-1zM281 74h1v1h-1zM281 75h1v1h-1zM281 76h1v1h-1zM281 77h1v1h-1zM281 78h1v1h-1zM281 79h1v1h-1zM281 80h1v1h-1zM281 82h1v1h-1zM281 83h1v1h-1zM281 86h1v1h-1zM282 68h1v1h-1zM282 70h1v1h-1zM282 71h1v1h-1zM282 73h1v1h-1zM282 75h1v1h-1zM282 76h1v1h-1zM282 77h1v1h-1zM282 78h1v1h-1zM282 79h1v1h-1zM282 80h1v1h-1zM282 81h1v1h-1zM282 83h1v1h-1zM282 84h1v1h-1zM282 86h1v1h-1zM283 68h1v1h-1zM283 69h1v1h-1zM283 70h1v1h-1zM283 71h1v1h-1zM283 72h1v1h-1zM283 73h1v1h-1zM283 74h1v1h-1zM283 75h1v1h-1zM283 76h1v1h-1zM283 77h1v1h-1zM283 78h1v1h-1zM283 79h1v1h-1zM283 80h1v1h-1zM283 81h1v1h-1zM283 82h1v1h-1zM283 83h1v1h-1zM283 85h1v1h-1zM283 86h1v1h-1zM284 69h1v1h-1zM284 70h1v1h-1zM284 71h1v1h-1zM284 72h1v1h-1zM284 74h1v1h-1zM284 75h1v1h-1zM284 76h1v1h-1zM284 77h1v1h-1zM284 78h1v1h-1zM284 80h1v1h-1zM284 81h1v1h-1zM284 82h1v1h-1zM284 84h1v1h-1zM285 66h1v1h-1zM285 67h1v1h-1zM285 68h1v1h-1zM285 69h1v1h-1zM285 70h1v1h-1zM285 71h1v1h-1zM285 72h1v1h-1zM285 73h1v1h-1zM285 74h1v1h-1zM285 75h1v1h-1zM285 76h1v1h-1zM285 77h1v1h-1zM285 78h1v1h-1zM285 79h1v1h-1zM285 80h1v1h-1zM285 82h1v1h-1zM285 83h1v1h-1zM285 84h1v1h-1zM285 85h1v1h-1zM286 69h1v1h-1zM286 70h1v1h-1zM286 72h1v1h-1zM286 74h1v1h-1zM286 76h1v1h-1zM286 77h1v1h-1zM286 78h1v1h-1zM286 80h1v1h-1zM286 82h1v1h-1zM286 85h1v1h-1zM287 69h1v1h-1zM287 70h1v1h-1zM287 71h1v1h-1zM287 73h1v1h-1zM287 74h1v1h-1zM287 75h1v1h-1zM287 76h1v1h-1zM287 77h1v1h-1zM287 78h1v1h-1zM287 80h1v1h-1zM287 81h1v1h-1zM287 82h1v1h-1zM287 83h1v1h-1zM287 84h1v1h-1zM287 85h1v1h-1zM287 86h1v1h-1zM288 67h1v1h-1zM288 68h1v1h-1zM288 71h1v1h-1zM288 72h1v1h-1zM288 73h1v1h-1zM288 74h1v1h-1zM288 75h1v1h-1zM288 76h1v1h-1zM288 77h1v1h-1zM288 78h1v1h-1zM288 81h1v1h-1zM288 82h1v1h-1zM288 83h1v1h-1zM288 84h1v1h-1zM288 85h1v1h-1zM289 67h1v1h-1zM289 69h1v1h-1zM289 70h1v1h-1zM289 71h1v1h-1zM289 72h1v1h-1zM289 73h1v1h-1zM289 77h1v1h-1zM289 80h1v1h-1zM289 81h1v1h-1zM289 82h1v1h-1zM289 83h1v1h-1zM289 84h1v1h-1zM289 85h1v1h-1zM290 68h1v1h-1zM290 70h1v1h-1zM290 71h1v1h-1zM290 72h1v1h-1zM290 73h1v1h-1zM290 74h1v1h-1zM290 75h1v1h-1zM290 76h1v1h-1zM290 77h1v1h-1zM290 78h1v1h-1zM290 79h1v1h-1zM290 80h1v1h-1zM290 83h1v1h-1zM290 84h1v1h-1zM290 86h1v1h-1zM291 68h1v1h-1zM291 69h1v1h-1zM291 71h1v1h-1zM291 72h1v1h-1zM291 74h1v1h-1zM291 75h1v1h-1zM291 77h1v1h-1zM291 78h1v1h-1zM291 79h1v1h-1zM291 80h1v1h-1zM291 85h1v1h-1zM292 71h1v1h-1zM292 72h1v1h-1zM292 73h1v1h-1zM292 74h1v1h-1zM292 76h1v1h-1zM292 77h1v1h-1zM292 78h1v1h-1zM292 83h1v1h-1zM292 84h1v1h-1zM293 70h1v1h-1zM293 71h1v1h-1zM293 72h1v1h-1zM293 74h1v1h-1zM293 75h1v1h-1zM293 78h1v1h-1zM293 79h1v1h-1zM293 80h1v1h-1zM293 81h1v1h-1zM293 82h1v1h-1zM293 83h1v1h-1zM294 70h1v1h-1zM294 73h1v1h-1zM294 74h1v1h-1zM294 75h1v1h-1zM294 76h1v1h-1zM294 78h1v1h-1zM294 79h1v1h-1zM294 80h1v1h-1zM294 81h1v1h-1zM294 82h1v1h-1zM295 70h1v1h-1zM295 71h1v1h-1zM295 74h1v1h-1zM295 78h1v1h-1zM295 79h1v1h-1zM296 72h1v1h-1zM296 73h1v1h-1zM296 75h1v1h-1zM296 80h1v1h-1zM296 81h1v1h-1zM297 72h1v1h-1zM297 74h1v1h-1zM297 75h1v1h-1zM297 77h1v1h-1zM298 73h1v1h-1zM298 76h1v1h-1zM299 77h1v1h-1z" fill="#d84848" opacity="0.8"/>
<ellipse cx="286.2" cy="77.0" rx="9.0" ry="7.6" fill="#d01a1a" opacity="1.0" transform="rotate(-15 286.2 77.0)" filter="url(#b3)"/>
<ellipse cx="287.2" cy="77.4" rx="12.4" ry="10.2" fill="none" stroke="#111" stroke-width="1.15" stroke-dasharray="0.9 1.15" transform="rotate(-10 287.2 77.4)"/>
<path d="M341 75h1v1h-1zM344 75h1v1h-1zM344 85h1v1h-1zM345 87h1v1h-1zM346 79h1v1h-1zM346 94h1v1h-1zM348 84h1v1h-1zM348 89h1v1h-1zM350 64h1v1h-1zM350 98h1v1h-1zM351 72h1v1h-1zM352 91h1v1h-1zM354 72h1v1h-1zM354 78h1v1h-1zM354 84h1v1h-1zM354 103h1v1h-1zM355 77h1v1h-1zM355 83h1v1h-1zM355 86h1v1h-1zM356 78h1v1h-1zM356 85h1v1h-1zM356 87h1v1h-1zM356 91h1v1h-1zM357 85h1v1h-1zM357 88h1v1h-1zM357 89h1v1h-1zM357 90h1v1h-1zM358 74h1v1h-1zM358 87h1v1h-1zM358 88h1v1h-1zM359 83h1v1h-1zM360 69h1v1h-1zM360 73h1v1h-1zM360 77h1v1h-1zM360 86h1v1h-1zM360 90h1v1h-1zM361 66h1v1h-1zM361 80h1v1h-1zM361 83h1v1h-1zM361 87h1v1h-1zM361 88h1v1h-1zM361 90h1v1h-1zM361 98h1v1h-1zM362 76h1v1h-1zM362 86h1v1h-1zM362 89h1v1h-1zM362 92h1v1h-1zM362 93h1v1h-1zM362 96h1v1h-1zM363 70h1v1h-1zM363 79h1v1h-1zM363 82h1v1h-1zM363 99h1v1h-1zM364 70h1v1h-1zM364 71h1v1h-1zM364 76h1v1h-1zM364 81h1v1h-1zM364 83h1v1h-1zM364 90h1v1h-1zM365 65h1v1h-1zM365 67h1v1h-1zM365 76h1v1h-1zM365 82h1v1h-1zM365 89h1v1h-1zM365 90h1v1h-1zM365 97h1v1h-1zM366 72h1v1h-1zM366 74h1v1h-1zM366 79h1v1h-1zM366 85h1v1h-1zM366 95h1v1h-1zM367 80h1v1h-1zM367 82h1v1h-1zM367 83h1v1h-1zM368 73h1v1h-1zM368 74h1v1h-1zM368 77h1v1h-1zM368 78h1v1h-1zM368 79h1v1h-1zM368 81h1v1h-1zM368 82h1v1h-1zM368 94h1v1h-1zM369 72h1v1h-1zM369 76h1v1h-1zM369 78h1v1h-1zM369 79h1v1h-1zM369 84h1v1h-1zM369 86h1v1h-1zM369 87h1v1h-1zM369 90h1v1h-1zM369 93h1v1h-1zM370 74h1v1h-1zM370 76h1v1h-1zM370 79h1v1h-1zM370 80h1v1h-1zM370 83h1v1h-1zM370 85h1v1h-1zM370 89h1v1h-1zM370 91h1v1h-1zM371 63h1v1h-1zM371 72h1v1h-1zM371 73h1v1h-1zM371 82h1v1h-1zM371 84h1v1h-1zM371 89h1v1h-1zM371 92h1v1h-1zM372 73h1v1h-1zM372 74h1v1h-1zM372 75h1v1h-1zM372 76h1v1h-1zM372 77h1v1h-1zM372 81h1v1h-1zM372 82h1v1h-1zM372 83h1v1h-1zM372 88h1v1h-1zM372 93h1v1h-1zM373 72h1v1h-1zM373 82h1v1h-1zM373 88h1v1h-1zM373 89h1v1h-1zM374 70h1v1h-1zM374 73h1v1h-1zM374 74h1v1h-1zM374 82h1v1h-1zM374 85h1v1h-1zM375 76h1v1h-1zM375 79h1v1h-1zM375 80h1v1h-1zM375 81h1v1h-1zM375 94h1v1h-1zM376 70h1v1h-1zM376 72h1v1h-1zM376 73h1v1h-1zM376 74h1v1h-1zM376 80h1v1h-1zM376 82h1v1h-1zM377 72h1v1h-1zM377 73h1v1h-1zM377 74h1v1h-1zM377 80h1v1h-1zM377 81h1v1h-1zM377 87h1v1h-1zM377 89h1v1h-1zM377 91h1v1h-1zM378 81h1v1h-1zM378 87h1v1h-1zM378 89h1v1h-1zM379 73h1v1h-1zM379 74h1v1h-1zM379 78h1v1h-1zM379 79h1v1h-1zM379 93h1v1h-1zM380 69h1v1h-1zM380 73h1v1h-1zM380 76h1v1h-1zM380 77h1v1h-1zM380 80h1v1h-1zM380 83h1v1h-1zM380 86h1v1h-1zM381 69h1v1h-1zM381 72h1v1h-1zM381 73h1v1h-1zM381 77h1v1h-1zM381 78h1v1h-1zM381 83h1v1h-1zM381 91h1v1h-1zM382 79h1v1h-1zM382 86h1v1h-1zM382 89h1v1h-1zM383 72h1v1h-1zM383 73h1v1h-1zM383 77h1v1h-1zM383 78h1v1h-1zM383 84h1v1h-1zM383 89h1v1h-1zM384 71h1v1h-1zM384 81h1v1h-1zM385 74h1v1h-1zM385 81h1v1h-1zM385 83h1v1h-1zM385 90h1v1h-1zM385 92h1v1h-1zM386 66h1v1h-1zM386 88h1v1h-1zM386 89h1v1h-1zM386 94h1v1h-1zM387 74h1v1h-1zM387 85h1v1h-1zM387 87h1v1h-1zM388 75h1v1h-1zM388 79h1v1h-1zM388 84h1v1h-1zM389 71h1v1h-1zM389 79h1v1h-1zM389 83h1v1h-1zM390 76h1v1h-1zM390 77h1v1h-1zM390 84h1v1h-1zM391 83h1v1h-1zM391 93h1v1h-1zM392 90h1v1h-1zM392 91h1v1h-1zM394 88h1v1h-1zM395 94h1v1h-1zM396 84h1v1h-1zM397 87h1v1h-1zM398 76h1v1h-1zM399 60h1v1h-1zM399 79h1v1h-1zM399 86h1v1h-1zM402 80h1v1h-1zM406 77h1v1h-1z" fill="#d84848" opacity="0.3"/>
<path d="M341 71h1v1h-1zM341 75h1v1h-1zM342 72h1v1h-1zM342 73h1v1h-1zM342 75h1v1h-1zM342 77h1v1h-1zM342 81h1v1h-1zM343 68h1v1h-1zM343 73h1v1h-1zM343 74h1v1h-1zM343 76h1v1h-1zM343 80h1v1h-1zM343 81h1v1h-1zM344 65h1v1h-1zM344 75h1v1h-1zM344 76h1v1h-1zM344 78h1v1h-1zM344 83h1v1h-1zM345 67h1v1h-1zM345 70h1v1h-1zM345 71h1v1h-1zM345 74h1v1h-1zM345 75h1v1h-1zM345 76h1v1h-1zM345 78h1v1h-1zM345 79h1v1h-1zM345 80h1v1h-1zM345 81h1v1h-1zM346 79h1v1h-1zM346 82h1v1h-1zM346 84h1v1h-1zM347 73h1v1h-1zM347 75h1v1h-1zM347 77h1v1h-1zM347 78h1v1h-1zM347 79h1v1h-1zM347 88h1v1h-1zM348 62h1v1h-1zM348 68h1v1h-1zM348 69h1v1h-1zM348 70h1v1h-1zM348 73h1v1h-1zM348 74h1v1h-1zM348 75h1v1h-1zM348 78h1v1h-1zM348 79h1v1h-1zM348 80h1v1h-1zM348 83h1v1h-1zM349 67h1v1h-1zM349 68h1v1h-1zM349 69h1v1h-1zM349 70h1v1h-1zM349 71h1v1h-1zM349 72h1v1h-1zM349 73h1v1h-1zM349 76h1v1h-1zM349 77h1v1h-1zM349 78h1v1h-1zM349 79h1v1h-1zM349 80h1v1h-1zM349 81h1v1h-1zM349 82h1v1h-1zM350 66h1v1h-1zM350 67h1v1h-1zM350 71h1v1h-1zM350 72h1v1h-1zM350 74h1v1h-1zM350 75h1v1h-1zM350 77h1v1h-1zM350 78h1v1h-1zM350 79h1v1h-1zM350 80h1v1h-1zM351 66h1v1h-1zM351 68h1v1h-1zM351 69h1v1h-1zM351 70h1v1h-1zM351 72h1v1h-1zM351 73h1v1h-1zM351 75h1v1h-1zM351 77h1v1h-1zM351 78h1v1h-1zM351 79h1v1h-1zM351 80h1v1h-1zM351 81h1v1h-1zM351 82h1v1h-1zM351 83h1v1h-1zM351 85h1v1h-1zM351 86h1v1h-1zM352 68h1v1h-1zM352 69h1v1h-1zM352 72h1v1h-1zM352 75h1v1h-1zM352 78h1v1h-1zM352 79h1v1h-1zM352 80h1v1h-1zM352 81h1v1h-1zM352 82h1v1h-1zM352 83h1v1h-1zM352 84h1v1h-1zM352 85h1v1h-1zM352 87h1v1h-1zM353 66h1v1h-1zM353 67h1v1h-1zM353 68h1v1h-1zM353 70h1v1h-1zM353 71h1v1h-1zM353 72h1v1h-1zM353 73h1v1h-1zM353 74h1v1h-1zM353 76h1v1h-1zM353 77h1v1h-1zM353 78h1v1h-1zM353 79h1v1h-1zM353 81h1v1h-1zM353 82h1v1h-1zM353 83h1v1h-1zM353 84h1v1h-1zM353 85h1v1h-1zM354 66h1v1h-1zM354 67h1v1h-1zM354 69h1v1h-1zM354 70h1v1h-1zM354 72h1v1h-1zM354 73h1v1h-1zM354 75h1v1h-1zM354 76h1v1h-1zM354 77h1v1h-1zM354 78h1v1h-1zM354 79h1v1h-1zM354 80h1v1h-1zM354 81h1v1h-1zM354 82h1v1h-1zM354 83h1v1h-1zM354 84h1v1h-1zM354 85h1v1h-1zM354 91h1v1h-1zM355 64h1v1h-1zM355 65h1v1h-1zM355 66h1v1h-1zM355 67h1v1h-1zM355 68h1v1h-1zM355 69h1v1h-1zM355 72h1v1h-1zM355 74h1v1h-1zM355 75h1v1h-1zM355 76h1v1h-1zM355 77h1v1h-1zM355 78h1v1h-1zM355 79h1v1h-1zM355 80h1v1h-1zM355 81h1v1h-1zM355 82h1v1h-1zM355 84h1v1h-1zM355 85h1v1h-1zM355 86h1v1h-1zM356 67h1v1h-1zM356 68h1v1h-1zM356 69h1v1h-1zM356 70h1v1h-1zM356 71h1v1h-1zM356 72h1v1h-1zM356 74h1v1h-1zM356 76h1v1h-1zM356 77h1v1h-1zM356 80h1v1h-1zM356 82h1v1h-1zM356 83h1v1h-1zM356 85h1v1h-1zM357 66h1v1h-1zM357 69h1v1h-1zM357 70h1v1h-1zM357 72h1v1h-1zM357 73h1v1h-1zM357 76h1v1h-1zM357 81h1v1h-1zM357 82h1v1h-1zM357 83h1v1h-1zM357 85h1v1h-1zM357 86h1v1h-1zM358 67h1v1h-1zM358 68h1v1h-1zM358 69h1v1h-1zM358 71h1v1h-1zM358 72h1v1h-1zM358 73h1v1h-1zM358 75h1v1h-1zM358 76h1v1h-1zM358 79h1v1h-1zM358 81h1v1h-1zM358 82h1v1h-1zM358 83h1v1h-1zM358 84h1v1h-1zM359 67h1v1h-1zM359 69h1v1h-1zM359 70h1v1h-1zM359 73h1v1h-1zM359 74h1v1h-1zM359 75h1v1h-1zM359 76h1v1h-1zM359 77h1v1h-1zM359 78h1v1h-1zM359 79h1v1h-1zM359 80h1v1h-1zM359 81h1v1h-1zM359 82h1v1h-1zM359 86h1v1h-1zM360 66h1v1h-1zM360 69h1v1h-1zM360 70h1v1h-1zM360 73h1v1h-1zM360 74h1v1h-1zM360 76h1v1h-1zM360 77h1v1h-1zM360 80h1v1h-1zM360 81h1v1h-1zM360 82h1v1h-1zM360 83h1v1h-1zM360 84h1v1h-1zM360 86h1v1h-1zM361 67h1v1h-1zM361 68h1v1h-1zM361 69h1v1h-1zM361 70h1v1h-1zM361 71h1v1h-1zM361 73h1v1h-1zM361 74h1v1h-1zM361 77h1v1h-1zM361 79h1v1h-1zM361 80h1v1h-1zM361 82h1v1h-1zM361 83h1v1h-1zM361 84h1v1h-1zM362 69h1v1h-1zM362 70h1v1h-1zM362 73h1v1h-1zM362 74h1v1h-1zM362 75h1v1h-1zM362 76h1v1h-1zM362 78h1v1h-1zM362 79h1v1h-1zM362 80h1v1h-1zM362 81h1v1h-1zM362 85h1v1h-1zM363 66h1v1h-1zM363 72h1v1h-1zM363 73h1v1h-1zM363 74h1v1h-1zM363 75h1v1h-1zM363 76h1v1h-1zM363 77h1v1h-1zM363 79h1v1h-1zM363 81h1v1h-1zM363 84h1v1h-1zM364 65h1v1h-1zM364 66h1v1h-1zM364 67h1v1h-1zM364 69h1v1h-1zM364 70h1v1h-1zM364 72h1v1h-1zM364 74h1v1h-1zM364 75h1v1h-1zM364 77h1v1h-1zM364 78h1v1h-1zM364 79h1v1h-1zM364 80h1v1h-1zM364 81h1v1h-1zM364 83h1v1h-1zM364 84h1v1h-1zM364 86h1v1h-1zM365 69h1v1h-1zM365 70h1v1h-1zM365 71h1v1h-1zM365 72h1v1h-1zM365 73h1v1h-1zM365 75h1v1h-1zM365 76h1v1h-1zM365 77h1v1h-1zM365 78h1v1h-1zM365 79h1v1h-1zM365 80h1v1h-1zM365 81h1v1h-1zM365 82h1v1h-1zM365 84h1v1h-1zM365 85h1v1h-1zM366 67h1v1h-1zM366 68h1v1h-1zM366 70h1v1h-1zM366 72h1v1h-1zM366 73h1v1h-1zM366 74h1v1h-1zM366 75h1v1h-1zM366 76h1v1h-1zM366 77h1v1h-1zM366 78h1v1h-1zM366 79h1v1h-1zM366 81h1v1h-1zM366 82h1v1h-1zM367 69h1v1h-1zM367 70h1v1h-1zM367 71h1v1h-1zM367 72h1v1h-1zM367 73h1v1h-1zM367 76h1v1h-1zM367 77h1v1h-1zM367 78h1v1h-1zM367 79h1v1h-1zM367 80h1v1h-1zM367 81h1v1h-1zM368 67h1v1h-1zM368 72h1v1h-1zM368 74h1v1h-1zM368 75h1v1h-1zM368 76h1v1h-1zM368 79h1v1h-1zM368 81h1v1h-1zM368 82h1v1h-1zM368 83h1v1h-1zM369 68h1v1h-1zM369 70h1v1h-1zM369 71h1v1h-1zM369 75h1v1h-1zM369 76h1v1h-1zM369 77h1v1h-1zM369 78h1v1h-1zM369 80h1v1h-1zM369 81h1v1h-1zM370 72h1v1h-1zM370 74h1v1h-1zM370 77h1v1h-1zM370 78h1v1h-1zM370 79h1v1h-1zM370 81h1v1h-1zM370 84h1v1h-1zM370 87h1v1h-1zM371 74h1v1h-1zM371 76h1v1h-1zM371 79h1v1h-1zM371 80h1v1h-1zM371 81h1v1h-1zM371 82h1v1h-1zM371 84h1v1h-1zM372 71h1v1h-1zM372 72h1v1h-1zM372 73h1v1h-1zM372 74h1v1h-1zM372 75h1v1h-1zM372 77h1v1h-1zM372 79h1v1h-1zM372 81h1v1h-1zM373 74h1v1h-1zM373 76h1v1h-1zM373 78h1v1h-1zM373 81h1v1h-1zM377 75h1v1h-1zM377 79h1v1h-1zM378 71h1v1h-1z" fill="#6a75b8" opacity="0.75"/>
<ellipse cx="357.0" cy="71.2" rx="14.0" ry="4.6" fill="#6a75b8" opacity="0.3" transform="rotate(0 357.0 71.2)" filter="url(#b2)"/>
<path d="M341 70h1v1h-1zM341 71h1v1h-1zM342 68h1v1h-1zM342 69h1v1h-1zM342 70h1v1h-1zM342 71h1v1h-1zM342 72h1v1h-1zM342 73h1v1h-1zM343 70h1v1h-1zM343 71h1v1h-1zM343 72h1v1h-1zM343 73h1v1h-1zM344 67h1v1h-1zM344 68h1v1h-1zM344 69h1v1h-1zM344 71h1v1h-1zM344 72h1v1h-1zM345 67h1v1h-1zM345 68h1v1h-1zM345 69h1v1h-1zM345 70h1v1h-1zM345 71h1v1h-1zM345 72h1v1h-1zM345 73h1v1h-1zM345 74h1v1h-1zM346 71h1v1h-1zM346 72h1v1h-1zM346 73h1v1h-1zM346 74h1v1h-1zM347 67h1v1h-1zM347 70h1v1h-1zM347 71h1v1h-1zM347 73h1v1h-1zM348 68h1v1h-1zM348 69h1v1h-1zM348 70h1v1h-1zM348 71h1v1h-1zM348 74h1v1h-1zM348 75h1v1h-1zM348 76h1v1h-1zM349 67h1v1h-1zM349 68h1v1h-1zM349 69h1v1h-1zM349 70h1v1h-1zM349 71h1v1h-1zM349 72h1v1h-1zM349 74h1v1h-1zM349 75h1v1h-1zM350 66h1v1h-1zM350 67h1v1h-1zM350 68h1v1h-1zM350 69h1v1h-1zM350 70h1v1h-1zM350 71h1v1h-1zM350 72h1v1h-1zM350 73h1v1h-1zM350 74h1v1h-1zM350 75h1v1h-1zM351 67h1v1h-1zM351 68h1v1h-1zM351 69h1v1h-1zM351 71h1v1h-1zM351 72h1v1h-1zM351 73h1v1h-1zM351 74h1v1h-1zM351 75h1v1h-1zM352 66h1v1h-1zM352 67h1v1h-1zM352 69h1v1h-1zM352 70h1v1h-1zM352 71h1v1h-1zM352 73h1v1h-1zM352 74h1v1h-1zM353 66h1v1h-1zM353 67h1v1h-1zM353 68h1v1h-1zM353 70h1v1h-1zM353 71h1v1h-1zM353 74h1v1h-1zM353 76h1v1h-1zM354 66h1v1h-1zM354 67h1v1h-1zM354 69h1v1h-1zM354 71h1v1h-1zM354 72h1v1h-1zM354 73h1v1h-1zM354 74h1v1h-1zM354 75h1v1h-1zM355 67h1v1h-1zM355 68h1v1h-1zM355 70h1v1h-1zM355 71h1v1h-1zM355 72h1v1h-1zM355 73h1v1h-1zM355 75h1v1h-1zM356 67h1v1h-1zM356 68h1v1h-1zM356 69h1v1h-1zM356 70h1v1h-1zM356 71h1v1h-1zM356 72h1v1h-1zM356 73h1v1h-1zM356 74h1v1h-1zM357 66h1v1h-1zM357 68h1v1h-1zM357 69h1v1h-1zM357 70h1v1h-1zM357 72h1v1h-1zM357 74h1v1h-1zM357 75h1v1h-1zM358 66h1v1h-1zM358 67h1v1h-1zM358 68h1v1h-1zM358 69h1v1h-1zM358 70h1v1h-1zM358 72h1v1h-1zM358 73h1v1h-1zM358 74h1v1h-1zM359 68h1v1h-1zM359 69h1v1h-1zM359 70h1v1h-1zM359 71h1v1h-1zM359 72h1v1h-1zM359 74h1v1h-1zM359 75h1v1h-1zM359 76h1v1h-1zM360 66h1v1h-1zM360 67h1v1h-1zM360 68h1v1h-1zM360 69h1v1h-1zM360 70h1v1h-1zM360 73h1v1h-1zM360 74h1v1h-1zM360 75h1v1h-1zM361 67h1v1h-1zM361 68h1v1h-1zM361 69h1v1h-1zM361 70h1v1h-1zM361 71h1v1h-1zM361 72h1v1h-1zM361 73h1v1h-1zM361 74h1v1h-1zM362 66h1v1h-1zM362 68h1v1h-1zM362 69h1v1h-1zM362 70h1v1h-1zM362 71h1v1h-1zM362 72h1v1h-1zM362 73h1v1h-1zM362 74h1v1h-1zM362 75h1v1h-1zM363 68h1v1h-1zM363 69h1v1h-1zM363 70h1v1h-1zM363 71h1v1h-1zM363 72h1v1h-1zM363 73h1v1h-1zM363 74h1v1h-1zM363 75h1v1h-1zM364 69h1v1h-1zM364 70h1v1h-1zM364 71h1v1h-1zM364 72h1v1h-1zM364 74h1v1h-1zM364 75h1v1h-1zM365 67h1v1h-1zM365 68h1v1h-1zM365 69h1v1h-1zM365 70h1v1h-1zM365 71h1v1h-1zM365 72h1v1h-1zM365 73h1v1h-1zM365 74h1v1h-1zM366 67h1v1h-1zM366 70h1v1h-1zM366 71h1v1h-1zM366 72h1v1h-1zM366 74h1v1h-1zM367 66h1v1h-1zM367 68h1v1h-1zM367 69h1v1h-1zM367 70h1v1h-1zM367 72h1v1h-1zM367 73h1v1h-1zM368 66h1v1h-1zM368 69h1v1h-1zM368 70h1v1h-1zM368 71h1v1h-1zM368 72h1v1h-1zM368 73h1v1h-1zM368 74h1v1h-1zM369 69h1v1h-1zM369 71h1v1h-1zM369 72h1v1h-1zM369 73h1v1h-1zM370 69h1v1h-1zM370 70h1v1h-1zM370 71h1v1h-1zM370 72h1v1h-1zM371 71h1v1h-1zM371 73h1v1h-1zM372 74h1v1h-1zM375 72h1v1h-1z" fill="#6a75b8" opacity="0.8"/>
<ellipse cx="357.0" cy="71.2" rx="12.3" ry="4.0" fill="#3d4ba0" opacity="1.0" transform="rotate(0 357.0 71.2)" filter="url(#b3)"/>
<ellipse cx="357.0" cy="81.6" rx="14.0" ry="4.6" fill="#6a75b8" opacity="0.3" transform="rotate(0 357.0 81.6)" filter="url(#b2)"/>
<path d="M341 82h1v1h-1zM342 81h1v1h-1zM342 83h1v1h-1zM343 78h1v1h-1zM343 80h1v1h-1zM343 81h1v1h-1zM343 82h1v1h-1zM344 79h1v1h-1zM344 80h1v1h-1zM344 81h1v1h-1zM344 84h1v1h-1zM344 85h1v1h-1zM345 79h1v1h-1zM345 80h1v1h-1zM345 81h1v1h-1zM345 82h1v1h-1zM345 83h1v1h-1zM346 77h1v1h-1zM346 78h1v1h-1zM346 79h1v1h-1zM346 80h1v1h-1zM346 81h1v1h-1zM346 82h1v1h-1zM346 83h1v1h-1zM347 79h1v1h-1zM347 80h1v1h-1zM347 81h1v1h-1zM347 82h1v1h-1zM347 83h1v1h-1zM347 84h1v1h-1zM348 76h1v1h-1zM348 78h1v1h-1zM348 79h1v1h-1zM348 80h1v1h-1zM348 81h1v1h-1zM348 82h1v1h-1zM348 84h1v1h-1zM348 85h1v1h-1zM349 78h1v1h-1zM349 79h1v1h-1zM349 80h1v1h-1zM349 81h1v1h-1zM349 82h1v1h-1zM349 83h1v1h-1zM349 84h1v1h-1zM349 85h1v1h-1zM350 76h1v1h-1zM350 78h1v1h-1zM350 79h1v1h-1zM350 81h1v1h-1zM350 83h1v1h-1zM350 84h1v1h-1zM351 76h1v1h-1zM351 77h1v1h-1zM351 78h1v1h-1zM351 79h1v1h-1zM351 80h1v1h-1zM351 81h1v1h-1zM351 82h1v1h-1zM351 83h1v1h-1zM351 84h1v1h-1zM351 85h1v1h-1zM352 76h1v1h-1zM352 77h1v1h-1zM352 78h1v1h-1zM352 79h1v1h-1zM352 80h1v1h-1zM352 82h1v1h-1zM352 83h1v1h-1zM352 84h1v1h-1zM352 85h1v1h-1zM353 79h1v1h-1zM353 81h1v1h-1zM353 85h1v1h-1zM353 86h1v1h-1zM354 77h1v1h-1zM354 82h1v1h-1zM354 83h1v1h-1zM354 84h1v1h-1zM354 85h1v1h-1zM354 86h1v1h-1zM355 76h1v1h-1zM355 77h1v1h-1zM355 78h1v1h-1zM355 79h1v1h-1zM355 80h1v1h-1zM355 81h1v1h-1zM355 82h1v1h-1zM355 83h1v1h-1zM355 84h1v1h-1zM355 85h1v1h-1zM355 86h1v1h-1zM356 77h1v1h-1zM356 78h1v1h-1zM356 79h1v1h-1zM356 81h1v1h-1zM356 82h1v1h-1zM356 83h1v1h-1zM356 84h1v1h-1zM356 85h1v1h-1zM356 86h1v1h-1zM357 76h1v1h-1zM357 77h1v1h-1zM357 78h1v1h-1zM357 79h1v1h-1zM357 81h1v1h-1zM357 82h1v1h-1zM357 84h1v1h-1zM357 85h1v1h-1zM358 76h1v1h-1zM358 77h1v1h-1zM358 79h1v1h-1zM358 80h1v1h-1zM358 81h1v1h-1zM358 82h1v1h-1zM358 83h1v1h-1zM358 84h1v1h-1zM358 85h1v1h-1zM358 87h1v1h-1zM359 76h1v1h-1zM359 79h1v1h-1zM359 80h1v1h-1zM359 81h1v1h-1zM359 82h1v1h-1zM359 83h1v1h-1zM359 84h1v1h-1zM360 76h1v1h-1zM360 77h1v1h-1zM360 78h1v1h-1zM360 80h1v1h-1zM360 82h1v1h-1zM360 83h1v1h-1zM360 84h1v1h-1zM360 85h1v1h-1zM360 86h1v1h-1zM361 78h1v1h-1zM361 79h1v1h-1zM361 80h1v1h-1zM361 81h1v1h-1zM361 83h1v1h-1zM361 84h1v1h-1zM361 85h1v1h-1zM361 86h1v1h-1zM362 78h1v1h-1zM362 80h1v1h-1zM362 82h1v1h-1zM362 83h1v1h-1zM362 85h1v1h-1zM362 86h1v1h-1zM363 77h1v1h-1zM363 78h1v1h-1zM363 79h1v1h-1zM363 80h1v1h-1zM363 82h1v1h-1zM363 83h1v1h-1zM363 84h1v1h-1zM363 85h1v1h-1zM364 79h1v1h-1zM364 80h1v1h-1zM364 81h1v1h-1zM364 82h1v1h-1zM364 83h1v1h-1zM364 84h1v1h-1zM364 85h1v1h-1zM364 86h1v1h-1zM365 76h1v1h-1zM365 77h1v1h-1zM365 78h1v1h-1zM365 79h1v1h-1zM365 80h1v1h-1zM365 81h1v1h-1zM365 83h1v1h-1zM365 84h1v1h-1zM366 78h1v1h-1zM366 79h1v1h-1zM366 80h1v1h-1zM366 82h1v1h-1zM366 83h1v1h-1zM366 84h1v1h-1zM366 85h1v1h-1zM367 78h1v1h-1zM367 79h1v1h-1zM367 80h1v1h-1zM367 81h1v1h-1zM367 82h1v1h-1zM367 83h1v1h-1zM367 84h1v1h-1zM368 78h1v1h-1zM368 79h1v1h-1zM368 80h1v1h-1zM368 81h1v1h-1zM368 82h1v1h-1zM368 83h1v1h-1zM368 84h1v1h-1zM369 79h1v1h-1zM369 80h1v1h-1zM369 81h1v1h-1zM369 84h1v1h-1zM370 80h1v1h-1zM370 82h1v1h-1zM370 83h1v1h-1zM371 80h1v1h-1zM371 82h1v1h-1zM371 83h1v1h-1zM372 82h1v1h-1zM373 80h1v1h-1zM373 82h1v1h-1zM373 83h1v1h-1z" fill="#6a75b8" opacity="0.8"/>
<ellipse cx="357.0" cy="81.6" rx="12.3" ry="4.0" fill="#3d4ba0" opacity="1.0" transform="rotate(0 357.0 81.6)" filter="url(#b3)"/>
<ellipse cx="383.7" cy="71.5" rx="10.7" ry="6.2" fill="#d84848" opacity="0.3" transform="rotate(0 383.7 71.5)" filter="url(#b2)"/>
<path d="M370 69h1v1h-1zM371 69h1v1h-1zM371 73h1v1h-1zM371 74h1v1h-1zM372 67h1v1h-1zM372 69h1v1h-1zM372 71h1v1h-1zM372 72h1v1h-1zM372 73h1v1h-1zM372 74h1v1h-1zM373 67h1v1h-1zM373 70h1v1h-1zM373 72h1v1h-1zM373 73h1v1h-1zM373 74h1v1h-1zM373 75h1v1h-1zM374 67h1v1h-1zM374 68h1v1h-1zM374 69h1v1h-1zM374 70h1v1h-1zM374 72h1v1h-1zM374 74h1v1h-1zM375 66h1v1h-1zM375 67h1v1h-1zM375 68h1v1h-1zM375 69h1v1h-1zM375 70h1v1h-1zM375 72h1v1h-1zM375 74h1v1h-1zM375 75h1v1h-1zM376 67h1v1h-1zM376 68h1v1h-1zM376 69h1v1h-1zM376 70h1v1h-1zM376 71h1v1h-1zM376 72h1v1h-1zM376 73h1v1h-1zM376 74h1v1h-1zM376 75h1v1h-1zM376 76h1v1h-1zM376 77h1v1h-1zM377 64h1v1h-1zM377 66h1v1h-1zM377 68h1v1h-1zM377 69h1v1h-1zM377 70h1v1h-1zM377 71h1v1h-1zM377 72h1v1h-1zM377 73h1v1h-1zM377 74h1v1h-1zM377 76h1v1h-1zM377 77h1v1h-1zM378 65h1v1h-1zM378 66h1v1h-1zM378 67h1v1h-1zM378 68h1v1h-1zM378 69h1v1h-1zM378 70h1v1h-1zM378 72h1v1h-1zM378 73h1v1h-1zM378 74h1v1h-1zM378 75h1v1h-1zM378 76h1v1h-1zM379 64h1v1h-1zM379 65h1v1h-1zM379 66h1v1h-1zM379 67h1v1h-1zM379 68h1v1h-1zM379 69h1v1h-1zM379 70h1v1h-1zM379 71h1v1h-1zM379 72h1v1h-1zM379 73h1v1h-1zM379 74h1v1h-1zM379 75h1v1h-1zM379 76h1v1h-1zM380 65h1v1h-1zM380 66h1v1h-1zM380 67h1v1h-1zM380 68h1v1h-1zM380 69h1v1h-1zM380 71h1v1h-1zM380 73h1v1h-1zM380 74h1v1h-1zM380 75h1v1h-1zM381 64h1v1h-1zM381 66h1v1h-1zM381 67h1v1h-1zM381 68h1v1h-1zM381 69h1v1h-1zM381 70h1v1h-1zM381 71h1v1h-1zM381 72h1v1h-1zM381 73h1v1h-1zM381 76h1v1h-1zM381 77h1v1h-1zM381 78h1v1h-1zM382 65h1v1h-1zM382 66h1v1h-1zM382 67h1v1h-1zM382 68h1v1h-1zM382 70h1v1h-1zM382 71h1v1h-1zM382 72h1v1h-1zM382 74h1v1h-1zM382 75h1v1h-1zM382 76h1v1h-1zM382 77h1v1h-1zM382 79h1v1h-1zM383 65h1v1h-1zM383 66h1v1h-1zM383 67h1v1h-1zM383 68h1v1h-1zM383 69h1v1h-1zM383 70h1v1h-1zM383 72h1v1h-1zM383 73h1v1h-1zM383 75h1v1h-1zM383 76h1v1h-1zM383 77h1v1h-1zM384 64h1v1h-1zM384 65h1v1h-1zM384 66h1v1h-1zM384 67h1v1h-1zM384 68h1v1h-1zM384 69h1v1h-1zM384 70h1v1h-1zM384 71h1v1h-1zM384 72h1v1h-1zM384 73h1v1h-1zM384 75h1v1h-1zM385 65h1v1h-1zM385 66h1v1h-1zM385 67h1v1h-1zM385 68h1v1h-1zM385 72h1v1h-1zM385 73h1v1h-1zM385 76h1v1h-1zM386 64h1v1h-1zM386 65h1v1h-1zM386 66h1v1h-1zM386 67h1v1h-1zM386 68h1v1h-1zM386 69h1v1h-1zM386 71h1v1h-1zM386 72h1v1h-1zM386 73h1v1h-1zM386 76h1v1h-1zM387 65h1v1h-1zM387 66h1v1h-1zM387 67h1v1h-1zM387 69h1v1h-1zM387 70h1v1h-1zM387 71h1v1h-1zM387 72h1v1h-1zM387 74h1v1h-1zM387 75h1v1h-1zM387 76h1v1h-1zM387 77h1v1h-1zM387 78h1v1h-1zM388 68h1v1h-1zM388 69h1v1h-1zM388 70h1v1h-1zM388 71h1v1h-1zM388 73h1v1h-1zM388 74h1v1h-1zM388 76h1v1h-1zM388 78h1v1h-1zM389 64h1v1h-1zM389 65h1v1h-1zM389 67h1v1h-1zM389 68h1v1h-1zM389 71h1v1h-1zM389 72h1v1h-1zM389 73h1v1h-1zM389 75h1v1h-1zM389 76h1v1h-1zM389 78h1v1h-1zM390 67h1v1h-1zM390 68h1v1h-1zM390 69h1v1h-1zM390 70h1v1h-1zM390 71h1v1h-1zM390 72h1v1h-1zM390 73h1v1h-1zM390 76h1v1h-1zM391 69h1v1h-1zM391 70h1v1h-1zM391 71h1v1h-1zM391 72h1v1h-1zM391 74h1v1h-1zM392 67h1v1h-1zM392 68h1v1h-1zM392 69h1v1h-1zM392 72h1v1h-1zM392 73h1v1h-1zM392 74h1v1h-1zM392 75h1v1h-1zM392 78h1v1h-1zM393 66h1v1h-1zM393 69h1v1h-1zM393 70h1v1h-1zM393 71h1v1h-1zM393 73h1v1h-1zM393 74h1v1h-1zM394 69h1v1h-1zM394 70h1v1h-1zM394 71h1v1h-1zM394 72h1v1h-1zM394 73h1v1h-1zM394 74h1v1h-1zM395 70h1v1h-1zM396 71h1v1h-1zM396 72h1v1h-1zM396 74h1v1h-1z" fill="#d84848" opacity="0.8"/>
<ellipse cx="383.7" cy="71.5" rx="9.4" ry="5.5" fill="#d01a1a" opacity="1.0" transform="rotate(0 383.7 71.5)" filter="url(#b3)"/>
<ellipse cx="392.8" cy="81.0" rx="10.8" ry="7.3" fill="#d84848" opacity="0.3" transform="rotate(-15 392.8 81.0)" filter="url(#b2)"/>
<path d="M379 84h1v1h-1zM380 82h1v1h-1zM381 80h1v1h-1zM381 84h1v1h-1zM381 85h1v1h-1zM382 77h1v1h-1zM382 79h1v1h-1zM382 82h1v1h-1zM382 84h1v1h-1zM383 77h1v1h-1zM383 78h1v1h-1zM383 79h1v1h-1zM383 80h1v1h-1zM383 81h1v1h-1zM383 82h1v1h-1zM383 85h1v1h-1zM383 86h1v1h-1zM384 75h1v1h-1zM384 76h1v1h-1zM384 78h1v1h-1zM384 82h1v1h-1zM384 83h1v1h-1zM384 84h1v1h-1zM384 86h1v1h-1zM385 75h1v1h-1zM385 76h1v1h-1zM385 77h1v1h-1zM385 78h1v1h-1zM385 79h1v1h-1zM385 80h1v1h-1zM385 81h1v1h-1zM385 82h1v1h-1zM385 85h1v1h-1zM385 86h1v1h-1zM385 87h1v1h-1zM385 88h1v1h-1zM386 74h1v1h-1zM386 75h1v1h-1zM386 76h1v1h-1zM386 77h1v1h-1zM386 78h1v1h-1zM386 79h1v1h-1zM386 81h1v1h-1zM386 82h1v1h-1zM386 83h1v1h-1zM386 84h1v1h-1zM386 86h1v1h-1zM386 89h1v1h-1zM387 74h1v1h-1zM387 75h1v1h-1zM387 76h1v1h-1zM387 78h1v1h-1zM387 79h1v1h-1zM387 80h1v1h-1zM387 81h1v1h-1zM387 82h1v1h-1zM387 83h1v1h-1zM387 84h1v1h-1zM387 86h1v1h-1zM387 87h1v1h-1zM388 75h1v1h-1zM388 76h1v1h-1zM388 77h1v1h-1zM388 78h1v1h-1zM388 79h1v1h-1zM388 80h1v1h-1zM388 82h1v1h-1zM388 83h1v1h-1zM388 84h1v1h-1zM388 85h1v1h-1zM388 87h1v1h-1zM388 89h1v1h-1zM389 73h1v1h-1zM389 74h1v1h-1zM389 77h1v1h-1zM389 78h1v1h-1zM389 79h1v1h-1zM389 80h1v1h-1zM389 81h1v1h-1zM389 82h1v1h-1zM389 83h1v1h-1zM389 84h1v1h-1zM389 85h1v1h-1zM389 87h1v1h-1zM389 89h1v1h-1zM390 73h1v1h-1zM390 74h1v1h-1zM390 75h1v1h-1zM390 76h1v1h-1zM390 77h1v1h-1zM390 78h1v1h-1zM390 79h1v1h-1zM390 81h1v1h-1zM390 82h1v1h-1zM390 83h1v1h-1zM390 84h1v1h-1zM390 85h1v1h-1zM390 86h1v1h-1zM390 87h1v1h-1zM390 88h1v1h-1zM391 72h1v1h-1zM391 73h1v1h-1zM391 74h1v1h-1zM391 75h1v1h-1zM391 78h1v1h-1zM391 79h1v1h-1zM391 82h1v1h-1zM391 83h1v1h-1zM391 84h1v1h-1zM391 86h1v1h-1zM391 87h1v1h-1zM392 73h1v1h-1zM392 74h1v1h-1zM392 75h1v1h-1zM392 77h1v1h-1zM392 78h1v1h-1zM392 79h1v1h-1zM392 81h1v1h-1zM392 83h1v1h-1zM392 84h1v1h-1zM392 85h1v1h-1zM392 86h1v1h-1zM392 87h1v1h-1zM392 88h1v1h-1zM392 89h1v1h-1zM393 73h1v1h-1zM393 74h1v1h-1zM393 75h1v1h-1zM393 76h1v1h-1zM393 77h1v1h-1zM393 78h1v1h-1zM393 79h1v1h-1zM393 80h1v1h-1zM393 83h1v1h-1zM393 85h1v1h-1zM393 86h1v1h-1zM393 87h1v1h-1zM393 88h1v1h-1zM393 89h1v1h-1zM394 74h1v1h-1zM394 75h1v1h-1zM394 76h1v1h-1zM394 77h1v1h-1zM394 78h1v1h-1zM394 79h1v1h-1zM394 80h1v1h-1zM394 81h1v1h-1zM394 82h1v1h-1zM394 83h1v1h-1zM394 85h1v1h-1zM394 86h1v1h-1zM394 87h1v1h-1zM394 88h1v1h-1zM394 89h1v1h-1zM395 70h1v1h-1zM395 72h1v1h-1zM395 74h1v1h-1zM395 75h1v1h-1zM395 77h1v1h-1zM395 78h1v1h-1zM395 79h1v1h-1zM395 82h1v1h-1zM395 84h1v1h-1zM395 85h1v1h-1zM395 87h1v1h-1zM395 88h1v1h-1zM396 74h1v1h-1zM396 75h1v1h-1zM396 76h1v1h-1zM396 77h1v1h-1zM396 78h1v1h-1zM396 79h1v1h-1zM396 81h1v1h-1zM396 83h1v1h-1zM396 84h1v1h-1zM396 85h1v1h-1zM396 87h1v1h-1zM397 71h1v1h-1zM397 72h1v1h-1zM397 73h1v1h-1zM397 74h1v1h-1zM397 76h1v1h-1zM397 77h1v1h-1zM397 79h1v1h-1zM397 80h1v1h-1zM397 82h1v1h-1zM397 83h1v1h-1zM397 84h1v1h-1zM397 86h1v1h-1zM397 87h1v1h-1zM398 75h1v1h-1zM398 76h1v1h-1zM398 77h1v1h-1zM398 79h1v1h-1zM398 81h1v1h-1zM398 83h1v1h-1zM398 84h1v1h-1zM398 86h1v1h-1zM398 88h1v1h-1zM399 74h1v1h-1zM399 75h1v1h-1zM399 77h1v1h-1zM399 78h1v1h-1zM399 79h1v1h-1zM399 81h1v1h-1zM399 82h1v1h-1zM399 83h1v1h-1zM399 84h1v1h-1zM400 75h1v1h-1zM400 76h1v1h-1zM400 78h1v1h-1zM400 79h1v1h-1zM400 81h1v1h-1zM400 82h1v1h-1zM400 83h1v1h-1zM400 84h1v1h-1zM400 85h1v1h-1zM401 75h1v1h-1zM401 77h1v1h-1zM401 78h1v1h-1zM401 80h1v1h-1zM401 81h1v1h-1zM401 82h1v1h-1zM402 76h1v1h-1zM402 77h1v1h-1zM402 78h1v1h-1zM402 79h1v1h-1zM402 80h1v1h-1zM402 82h1v1h-1zM402 83h1v1h-1zM403 76h1v1h-1zM403 77h1v1h-1zM403 80h1v1h-1zM404 77h1v1h-1zM404 79h1v1h-1zM404 80h1v1h-1zM406 80h1v1h-1zM407 79h1v1h-1z" fill="#d84848" opacity="0.8"/>
<ellipse cx="392.8" cy="81.0" rx="9.5" ry="6.4" fill="#d01a1a" opacity="1.0" transform="rotate(-15 392.8 81.0)" filter="url(#b3)"/>
<ellipse cx="392.2" cy="80.5" rx="11.8" ry="8.6" fill="none" stroke="#111" stroke-width="1.15" stroke-dasharray="0.9 1.15" transform="rotate(-15 392.2 80.5)"/>
<path d="M446 87h1v1h-1zM450 84h1v1h-1zM451 82h1v1h-1zM451 83h1v1h-1zM451 87h1v1h-1zM451 92h1v1h-1zM451 95h1v1h-1zM452 91h1v1h-1zM453 85h1v1h-1zM453 87h1v1h-1zM453 92h1v1h-1zM453 94h1v1h-1zM454 85h1v1h-1zM454 89h1v1h-1zM455 78h1v1h-1zM455 80h1v1h-1zM455 82h1v1h-1zM455 83h1v1h-1zM455 87h1v1h-1zM456 83h1v1h-1zM456 90h1v1h-1zM456 95h1v1h-1zM456 100h1v1h-1zM457 85h1v1h-1zM457 87h1v1h-1zM458 81h1v1h-1zM458 82h1v1h-1zM458 89h1v1h-1zM458 90h1v1h-1zM458 101h1v1h-1zM459 72h1v1h-1zM459 76h1v1h-1zM459 83h1v1h-1zM459 85h1v1h-1zM459 86h1v1h-1zM459 94h1v1h-1zM460 82h1v1h-1zM460 83h1v1h-1zM460 85h1v1h-1zM460 86h1v1h-1zM460 88h1v1h-1zM460 89h1v1h-1zM460 90h1v1h-1zM460 92h1v1h-1zM461 74h1v1h-1zM461 76h1v1h-1zM461 77h1v1h-1zM461 78h1v1h-1zM461 80h1v1h-1zM461 83h1v1h-1zM461 84h1v1h-1zM461 86h1v1h-1zM461 87h1v1h-1zM461 89h1v1h-1zM461 91h1v1h-1zM462 72h1v1h-1zM462 76h1v1h-1zM462 77h1v1h-1zM462 86h1v1h-1zM462 89h1v1h-1zM462 94h1v1h-1zM463 78h1v1h-1zM463 81h1v1h-1zM463 82h1v1h-1zM463 86h1v1h-1zM463 87h1v1h-1zM463 90h1v1h-1zM464 73h1v1h-1zM464 76h1v1h-1zM464 79h1v1h-1zM464 80h1v1h-1zM464 81h1v1h-1zM464 83h1v1h-1zM464 87h1v1h-1zM464 89h1v1h-1zM464 90h1v1h-1zM464 91h1v1h-1zM464 92h1v1h-1zM465 74h1v1h-1zM465 77h1v1h-1zM465 80h1v1h-1zM465 81h1v1h-1zM465 82h1v1h-1zM465 84h1v1h-1zM465 86h1v1h-1zM465 87h1v1h-1zM465 89h1v1h-1zM465 91h1v1h-1zM465 94h1v1h-1zM466 82h1v1h-1zM466 85h1v1h-1zM466 87h1v1h-1zM466 92h1v1h-1zM466 93h1v1h-1zM467 71h1v1h-1zM467 76h1v1h-1zM467 78h1v1h-1zM467 79h1v1h-1zM467 80h1v1h-1zM467 83h1v1h-1zM467 84h1v1h-1zM467 85h1v1h-1zM467 95h1v1h-1zM468 73h1v1h-1zM468 77h1v1h-1zM468 78h1v1h-1zM468 79h1v1h-1zM468 81h1v1h-1zM468 82h1v1h-1zM468 83h1v1h-1zM468 84h1v1h-1zM468 88h1v1h-1zM468 90h1v1h-1zM469 75h1v1h-1zM469 78h1v1h-1zM469 79h1v1h-1zM469 82h1v1h-1zM469 83h1v1h-1zM469 84h1v1h-1zM469 86h1v1h-1zM469 88h1v1h-1zM469 90h1v1h-1zM469 93h1v1h-1zM469 94h1v1h-1zM470 74h1v1h-1zM470 76h1v1h-1zM470 78h1v1h-1zM470 79h1v1h-1zM470 80h1v1h-1zM470 81h1v1h-1zM470 83h1v1h-1zM470 84h1v1h-1zM470 87h1v1h-1zM470 88h1v1h-1zM470 91h1v1h-1zM471 79h1v1h-1zM471 80h1v1h-1zM471 81h1v1h-1zM471 82h1v1h-1zM471 83h1v1h-1zM471 85h1v1h-1zM471 89h1v1h-1zM471 92h1v1h-1zM471 94h1v1h-1zM472 79h1v1h-1zM472 80h1v1h-1zM472 81h1v1h-1zM472 82h1v1h-1zM472 88h1v1h-1zM472 90h1v1h-1zM472 92h1v1h-1zM472 93h1v1h-1zM472 94h1v1h-1zM472 95h1v1h-1zM472 96h1v1h-1zM472 97h1v1h-1zM473 79h1v1h-1zM473 80h1v1h-1zM473 83h1v1h-1zM473 85h1v1h-1zM473 89h1v1h-1zM473 92h1v1h-1zM473 94h1v1h-1zM474 67h1v1h-1zM474 71h1v1h-1zM474 76h1v1h-1zM474 82h1v1h-1zM474 84h1v1h-1zM474 87h1v1h-1zM474 96h1v1h-1zM475 74h1v1h-1zM475 80h1v1h-1zM475 84h1v1h-1zM475 86h1v1h-1zM475 87h1v1h-1zM475 89h1v1h-1zM476 75h1v1h-1zM476 79h1v1h-1zM476 81h1v1h-1zM476 82h1v1h-1zM476 85h1v1h-1zM476 87h1v1h-1zM476 91h1v1h-1zM476 94h1v1h-1zM476 97h1v1h-1zM476 98h1v1h-1zM477 78h1v1h-1zM477 81h1v1h-1zM477 83h1v1h-1zM477 86h1v1h-1zM477 88h1v1h-1zM477 94h1v1h-1zM478 76h1v1h-1zM478 78h1v1h-1zM478 81h1v1h-1zM478 83h1v1h-1zM478 84h1v1h-1zM478 90h1v1h-1zM479 67h1v1h-1zM479 75h1v1h-1zM479 91h1v1h-1zM480 76h1v1h-1zM480 79h1v1h-1zM480 82h1v1h-1zM480 84h1v1h-1zM480 86h1v1h-1zM480 87h1v1h-1zM480 92h1v1h-1zM481 76h1v1h-1zM481 84h1v1h-1zM481 87h1v1h-1zM482 78h1v1h-1zM482 83h1v1h-1zM483 74h1v1h-1zM483 77h1v1h-1zM483 79h1v1h-1zM483 80h1v1h-1zM483 82h1v1h-1zM483 84h1v1h-1zM483 87h1v1h-1zM483 91h1v1h-1zM483 92h1v1h-1zM484 68h1v1h-1zM484 81h1v1h-1zM484 82h1v1h-1zM485 64h1v1h-1zM485 70h1v1h-1zM485 73h1v1h-1zM485 75h1v1h-1zM485 80h1v1h-1zM486 71h1v1h-1zM487 79h1v1h-1zM488 87h1v1h-1zM488 88h1v1h-1zM489 80h1v1h-1zM490 68h1v1h-1zM493 79h1v1h-1z" fill="#d84848" opacity="0.3"/>
<ellipse cx="457.5" cy="71.0" rx="7.5" ry="6.5" fill="#6a75b8" opacity="0.3" transform="rotate(0 457.5 71.0)" filter="url(#b2)"/>
<path d="M447 72h1v1h-1zM448 69h1v1h-1zM448 70h1v1h-1zM449 66h1v1h-1zM449 67h1v1h-1zM449 70h1v1h-1zM449 72h1v1h-1zM449 74h1v1h-1zM449 75h1v1h-1zM450 67h1v1h-1zM450 68h1v1h-1zM450 70h1v1h-1zM450 71h1v1h-1zM450 72h1v1h-1zM450 73h1v1h-1zM451 66h1v1h-1zM451 67h1v1h-1zM451 70h1v1h-1zM451 72h1v1h-1zM451 73h1v1h-1zM451 74h1v1h-1zM451 76h1v1h-1zM452 66h1v1h-1zM452 67h1v1h-1zM452 69h1v1h-1zM452 70h1v1h-1zM452 71h1v1h-1zM452 72h1v1h-1zM452 74h1v1h-1zM452 75h1v1h-1zM452 76h1v1h-1zM452 77h1v1h-1zM453 65h1v1h-1zM453 66h1v1h-1zM453 68h1v1h-1zM453 69h1v1h-1zM453 70h1v1h-1zM453 71h1v1h-1zM453 72h1v1h-1zM453 73h1v1h-1zM453 74h1v1h-1zM453 75h1v1h-1zM453 77h1v1h-1zM454 65h1v1h-1zM454 67h1v1h-1zM454 68h1v1h-1zM454 69h1v1h-1zM454 70h1v1h-1zM454 71h1v1h-1zM454 72h1v1h-1zM454 73h1v1h-1zM454 74h1v1h-1zM454 75h1v1h-1zM454 76h1v1h-1zM454 77h1v1h-1zM455 65h1v1h-1zM455 66h1v1h-1zM455 67h1v1h-1zM455 68h1v1h-1zM455 70h1v1h-1zM455 71h1v1h-1zM455 72h1v1h-1zM455 73h1v1h-1zM455 74h1v1h-1zM455 75h1v1h-1zM455 76h1v1h-1zM455 77h1v1h-1zM456 63h1v1h-1zM456 65h1v1h-1zM456 66h1v1h-1zM456 67h1v1h-1zM456 68h1v1h-1zM456 69h1v1h-1zM456 71h1v1h-1zM456 72h1v1h-1zM456 73h1v1h-1zM456 74h1v1h-1zM456 75h1v1h-1zM457 63h1v1h-1zM457 65h1v1h-1zM457 66h1v1h-1zM457 68h1v1h-1zM457 70h1v1h-1zM457 71h1v1h-1zM457 72h1v1h-1zM457 73h1v1h-1zM457 74h1v1h-1zM457 75h1v1h-1zM457 76h1v1h-1zM457 77h1v1h-1zM458 63h1v1h-1zM458 64h1v1h-1zM458 65h1v1h-1zM458 66h1v1h-1zM458 68h1v1h-1zM458 69h1v1h-1zM458 70h1v1h-1zM458 71h1v1h-1zM458 72h1v1h-1zM458 74h1v1h-1zM458 75h1v1h-1zM458 76h1v1h-1zM459 64h1v1h-1zM459 65h1v1h-1zM459 66h1v1h-1zM459 67h1v1h-1zM459 69h1v1h-1zM459 71h1v1h-1zM459 72h1v1h-1zM459 73h1v1h-1zM459 74h1v1h-1zM459 75h1v1h-1zM459 77h1v1h-1zM460 65h1v1h-1zM460 66h1v1h-1zM460 67h1v1h-1zM460 68h1v1h-1zM460 69h1v1h-1zM460 70h1v1h-1zM460 72h1v1h-1zM460 73h1v1h-1zM460 74h1v1h-1zM461 65h1v1h-1zM461 67h1v1h-1zM461 69h1v1h-1zM461 70h1v1h-1zM461 72h1v1h-1zM461 74h1v1h-1zM461 76h1v1h-1zM462 67h1v1h-1zM462 68h1v1h-1zM462 69h1v1h-1zM462 70h1v1h-1zM462 72h1v1h-1zM462 73h1v1h-1zM462 74h1v1h-1zM463 65h1v1h-1zM463 66h1v1h-1zM463 68h1v1h-1zM463 69h1v1h-1zM463 70h1v1h-1zM463 71h1v1h-1zM463 72h1v1h-1zM463 76h1v1h-1zM464 65h1v1h-1zM464 67h1v1h-1zM464 69h1v1h-1zM464 70h1v1h-1zM464 71h1v1h-1zM464 73h1v1h-1zM464 74h1v1h-1zM464 75h1v1h-1zM465 71h1v1h-1z" fill="#6a75b8" opacity="0.8"/>
<ellipse cx="457.5" cy="71.0" rx="6.6" ry="5.7" fill="#3d4ba0" opacity="1.0" transform="rotate(0 457.5 71.0)" filter="url(#b3)"/>
<ellipse cx="454.5" cy="81.5" rx="7.0" ry="5.5" fill="#6a75b8" opacity="0.3" transform="rotate(0 454.5 81.5)" filter="url(#b2)"/>
<path d="M444 79h1v1h-1zM445 83h1v1h-1zM446 79h1v1h-1zM446 81h1v1h-1zM447 77h1v1h-1zM447 79h1v1h-1zM447 80h1v1h-1zM447 83h1v1h-1zM448 76h1v1h-1zM448 78h1v1h-1zM448 79h1v1h-1zM448 82h1v1h-1zM448 83h1v1h-1zM449 77h1v1h-1zM449 79h1v1h-1zM449 80h1v1h-1zM449 81h1v1h-1zM449 82h1v1h-1zM449 85h1v1h-1zM449 87h1v1h-1zM450 78h1v1h-1zM450 80h1v1h-1zM450 81h1v1h-1zM450 82h1v1h-1zM450 83h1v1h-1zM450 84h1v1h-1zM450 85h1v1h-1zM450 87h1v1h-1zM451 76h1v1h-1zM451 77h1v1h-1zM451 79h1v1h-1zM451 80h1v1h-1zM451 81h1v1h-1zM451 82h1v1h-1zM451 83h1v1h-1zM451 85h1v1h-1zM452 75h1v1h-1zM452 76h1v1h-1zM452 77h1v1h-1zM452 78h1v1h-1zM452 79h1v1h-1zM452 80h1v1h-1zM452 81h1v1h-1zM452 83h1v1h-1zM452 85h1v1h-1zM452 86h1v1h-1zM452 87h1v1h-1zM453 77h1v1h-1zM453 78h1v1h-1zM453 79h1v1h-1zM453 80h1v1h-1zM453 81h1v1h-1zM453 83h1v1h-1zM453 84h1v1h-1zM454 76h1v1h-1zM454 77h1v1h-1zM454 78h1v1h-1zM454 79h1v1h-1zM454 80h1v1h-1zM454 81h1v1h-1zM454 82h1v1h-1zM454 83h1v1h-1zM454 85h1v1h-1zM454 86h1v1h-1zM455 76h1v1h-1zM455 77h1v1h-1zM455 78h1v1h-1zM455 79h1v1h-1zM455 80h1v1h-1zM455 81h1v1h-1zM455 83h1v1h-1zM455 84h1v1h-1zM455 85h1v1h-1zM455 86h1v1h-1zM455 87h1v1h-1zM456 76h1v1h-1zM456 77h1v1h-1zM456 78h1v1h-1zM456 81h1v1h-1zM456 82h1v1h-1zM456 83h1v1h-1zM456 84h1v1h-1zM456 85h1v1h-1zM456 86h1v1h-1zM456 87h1v1h-1zM457 75h1v1h-1zM457 77h1v1h-1zM457 79h1v1h-1zM457 80h1v1h-1zM457 81h1v1h-1zM457 82h1v1h-1zM457 83h1v1h-1zM457 84h1v1h-1zM457 85h1v1h-1zM458 77h1v1h-1zM458 78h1v1h-1zM458 79h1v1h-1zM458 81h1v1h-1zM458 82h1v1h-1zM458 83h1v1h-1zM458 84h1v1h-1zM458 86h1v1h-1zM459 76h1v1h-1zM459 77h1v1h-1zM459 79h1v1h-1zM459 80h1v1h-1zM459 81h1v1h-1zM459 82h1v1h-1zM459 84h1v1h-1zM459 85h1v1h-1zM460 77h1v1h-1zM460 78h1v1h-1zM460 79h1v1h-1zM460 80h1v1h-1zM460 81h1v1h-1zM460 82h1v1h-1zM460 84h1v1h-1zM461 78h1v1h-1zM461 79h1v1h-1zM461 81h1v1h-1zM461 83h1v1h-1z" fill="#6a75b8" opacity="0.8"/>
<ellipse cx="454.5" cy="81.5" rx="6.2" ry="4.8" fill="#3d4ba0" opacity="1.0" transform="rotate(0 454.5 81.5)" filter="url(#b3)"/>
<ellipse cx="474.5" cy="70.5" rx="10.0" ry="5.5" fill="#d84848" opacity="0.3" transform="rotate(0 474.5 70.5)" filter="url(#b2)"/>
<path d="M462 69h1v1h-1zM463 70h1v1h-1zM463 71h1v1h-1zM463 72h1v1h-1zM464 68h1v1h-1zM464 69h1v1h-1zM464 72h1v1h-1zM465 68h1v1h-1zM465 69h1v1h-1zM465 71h1v1h-1zM465 72h1v1h-1zM465 75h1v1h-1zM466 65h1v1h-1zM466 66h1v1h-1zM466 67h1v1h-1zM466 68h1v1h-1zM466 69h1v1h-1zM466 70h1v1h-1zM466 72h1v1h-1zM467 67h1v1h-1zM467 68h1v1h-1zM467 70h1v1h-1zM467 72h1v1h-1zM467 73h1v1h-1zM467 74h1v1h-1zM467 75h1v1h-1zM467 76h1v1h-1zM468 66h1v1h-1zM468 67h1v1h-1zM468 68h1v1h-1zM468 69h1v1h-1zM468 70h1v1h-1zM468 72h1v1h-1zM468 74h1v1h-1zM469 65h1v1h-1zM469 66h1v1h-1zM469 67h1v1h-1zM469 68h1v1h-1zM469 70h1v1h-1zM469 74h1v1h-1zM469 75h1v1h-1zM469 76h1v1h-1zM470 65h1v1h-1zM470 66h1v1h-1zM470 68h1v1h-1zM470 70h1v1h-1zM470 71h1v1h-1zM470 72h1v1h-1zM470 73h1v1h-1zM470 74h1v1h-1zM470 75h1v1h-1zM471 66h1v1h-1zM471 68h1v1h-1zM471 69h1v1h-1zM471 70h1v1h-1zM471 71h1v1h-1zM471 72h1v1h-1zM471 73h1v1h-1zM471 74h1v1h-1zM471 75h1v1h-1zM472 64h1v1h-1zM472 65h1v1h-1zM472 70h1v1h-1zM472 71h1v1h-1zM472 72h1v1h-1zM472 74h1v1h-1zM472 76h1v1h-1zM473 64h1v1h-1zM473 69h1v1h-1zM473 70h1v1h-1zM473 71h1v1h-1zM473 72h1v1h-1zM473 73h1v1h-1zM473 74h1v1h-1zM473 75h1v1h-1zM473 76h1v1h-1zM474 66h1v1h-1zM474 68h1v1h-1zM474 69h1v1h-1zM474 70h1v1h-1zM474 71h1v1h-1zM474 72h1v1h-1zM474 73h1v1h-1zM474 75h1v1h-1zM475 65h1v1h-1zM475 66h1v1h-1zM475 68h1v1h-1zM475 69h1v1h-1zM475 70h1v1h-1zM475 71h1v1h-1zM475 73h1v1h-1zM475 74h1v1h-1zM475 75h1v1h-1zM475 76h1v1h-1zM476 65h1v1h-1zM476 71h1v1h-1zM476 72h1v1h-1zM476 74h1v1h-1zM476 75h1v1h-1zM476 77h1v1h-1zM477 64h1v1h-1zM477 65h1v1h-1zM477 66h1v1h-1zM477 67h1v1h-1zM477 68h1v1h-1zM477 69h1v1h-1zM477 70h1v1h-1zM477 71h1v1h-1zM477 73h1v1h-1zM477 74h1v1h-1zM477 75h1v1h-1zM478 63h1v1h-1zM478 66h1v1h-1zM478 69h1v1h-1zM478 70h1v1h-1zM478 71h1v1h-1zM478 72h1v1h-1zM478 74h1v1h-1zM478 75h1v1h-1zM479 66h1v1h-1zM479 67h1v1h-1zM479 68h1v1h-1zM479 69h1v1h-1zM479 70h1v1h-1zM479 71h1v1h-1zM479 72h1v1h-1zM479 74h1v1h-1zM479 75h1v1h-1zM479 76h1v1h-1zM480 65h1v1h-1zM480 67h1v1h-1zM480 68h1v1h-1zM480 69h1v1h-1zM480 71h1v1h-1zM480 73h1v1h-1zM480 74h1v1h-1zM480 75h1v1h-1zM481 67h1v1h-1zM481 68h1v1h-1zM481 70h1v1h-1zM481 71h1v1h-1zM481 72h1v1h-1zM481 73h1v1h-1zM481 74h1v1h-1zM482 66h1v1h-1zM482 67h1v1h-1zM482 68h1v1h-1zM482 69h1v1h-1zM482 73h1v1h-1zM482 75h1v1h-1zM483 67h1v1h-1zM483 68h1v1h-1zM483 69h1v1h-1zM483 73h1v1h-1zM483 74h1v1h-1zM484 68h1v1h-1zM484 69h1v1h-1zM484 70h1v1h-1zM485 67h1v1h-1zM485 70h1v1h-1zM485 71h1v1h-1zM486 67h1v1h-1z" fill="#d84848" opacity="0.8"/>
<ellipse cx="474.5" cy="70.5" rx="8.8" ry="4.8" fill="#d01a1a" opacity="1.0" transform="rotate(0 474.5 70.5)" filter="url(#b3)"/>
<ellipse cx="489.0" cy="80.0" rx="8.5" ry="5.5" fill="#d84848" opacity="0.3" transform="rotate(-25 489.0 80.0)" filter="url(#b2)"/>
<path d="M479 81h1v1h-1zM480 82h1v1h-1zM481 79h1v1h-1zM481 81h1v1h-1zM481 82h1v1h-1zM481 83h1v1h-1zM481 84h1v1h-1zM482 78h1v1h-1zM482 79h1v1h-1zM482 80h1v1h-1zM482 81h1v1h-1zM482 82h1v1h-1zM482 83h1v1h-1zM482 84h1v1h-1zM482 85h1v1h-1zM483 78h1v1h-1zM483 79h1v1h-1zM483 80h1v1h-1zM483 81h1v1h-1zM483 82h1v1h-1zM483 84h1v1h-1zM483 85h1v1h-1zM484 76h1v1h-1zM484 77h1v1h-1zM484 80h1v1h-1zM484 81h1v1h-1zM484 82h1v1h-1zM484 83h1v1h-1zM484 84h1v1h-1zM484 85h1v1h-1zM485 73h1v1h-1zM485 75h1v1h-1zM485 76h1v1h-1zM485 78h1v1h-1zM485 80h1v1h-1zM485 81h1v1h-1zM485 82h1v1h-1zM485 84h1v1h-1zM485 85h1v1h-1zM485 86h1v1h-1zM486 74h1v1h-1zM486 75h1v1h-1zM486 76h1v1h-1zM486 77h1v1h-1zM486 79h1v1h-1zM486 81h1v1h-1zM486 82h1v1h-1zM486 84h1v1h-1zM486 86h1v1h-1zM487 75h1v1h-1zM487 76h1v1h-1zM487 77h1v1h-1zM487 78h1v1h-1zM487 79h1v1h-1zM487 81h1v1h-1zM487 84h1v1h-1zM487 85h1v1h-1zM487 86h1v1h-1zM488 73h1v1h-1zM488 74h1v1h-1zM488 75h1v1h-1zM488 76h1v1h-1zM488 77h1v1h-1zM488 79h1v1h-1zM488 81h1v1h-1zM488 82h1v1h-1zM488 83h1v1h-1zM488 84h1v1h-1zM488 85h1v1h-1zM489 74h1v1h-1zM489 75h1v1h-1zM489 76h1v1h-1zM489 77h1v1h-1zM489 80h1v1h-1zM489 81h1v1h-1zM489 82h1v1h-1zM489 85h1v1h-1zM490 73h1v1h-1zM490 74h1v1h-1zM490 75h1v1h-1zM490 76h1v1h-1zM490 77h1v1h-1zM490 78h1v1h-1zM490 79h1v1h-1zM490 80h1v1h-1zM490 81h1v1h-1zM490 82h1v1h-1zM490 84h1v1h-1zM491 73h1v1h-1zM491 74h1v1h-1zM491 77h1v1h-1zM491 78h1v1h-1zM491 79h1v1h-1zM491 80h1v1h-1zM491 81h1v1h-1zM491 83h1v1h-1zM492 73h1v1h-1zM492 74h1v1h-1zM492 76h1v1h-1zM492 77h1v1h-1zM492 78h1v1h-1zM492 79h1v1h-1zM492 80h1v1h-1zM492 82h1v1h-1zM492 83h1v1h-1zM492 84h1v1h-1zM493 74h1v1h-1zM493 75h1v1h-1zM493 78h1v1h-1zM493 80h1v1h-1zM493 81h1v1h-1zM493 83h1v1h-1zM494 75h1v1h-1zM494 77h1v1h-1zM494 78h1v1h-1zM494 79h1v1h-1zM494 80h1v1h-1zM494 81h1v1h-1zM494 82h1v1h-1zM494 85h1v1h-1zM495 73h1v1h-1zM495 74h1v1h-1zM495 76h1v1h-1zM495 77h1v1h-1zM495 78h1v1h-1zM495 79h1v1h-1zM495 81h1v1h-1zM495 82h1v1h-1zM496 75h1v1h-1zM496 76h1v1h-1zM496 77h1v1h-1zM496 78h1v1h-1zM496 79h1v1h-1zM496 80h1v1h-1zM496 82h1v1h-1zM497 77h1v1h-1zM497 78h1v1h-1zM497 79h1v1h-1zM498 76h1v1h-1z" fill="#d84848" opacity="0.8"/>
<ellipse cx="489.0" cy="80.0" rx="7.5" ry="4.8" fill="#d01a1a" opacity="1.0" transform="rotate(-25 489.0 80.0)" filter="url(#b3)"/>
<ellipse cx="489.8" cy="80.0" rx="11.2" ry="7.0" fill="none" stroke="#111" stroke-width="1.15" stroke-dasharray="0.9 1.15" transform="rotate(-25 489.8 80.0)"/>
<path d="M243 160h1v1h-1zM246 171h1v1h-1zM246 184h1v1h-1zM246 191h1v1h-1zM247 181h1v1h-1zM248 173h1v1h-1zM248 178h1v1h-1zM248 189h1v1h-1zM249 181h1v1h-1zM249 183h1v1h-1zM250 181h1v1h-1zM250 183h1v1h-1zM250 184h1v1h-1zM250 187h1v1h-1zM250 191h1v1h-1zM250 200h1v1h-1zM251 186h1v1h-1zM251 189h1v1h-1zM252 166h1v1h-1zM252 170h1v1h-1zM252 179h1v1h-1zM252 185h1v1h-1zM252 203h1v1h-1zM253 187h1v1h-1zM253 193h1v1h-1zM254 177h1v1h-1zM254 179h1v1h-1zM254 182h1v1h-1zM254 191h1v1h-1zM254 193h1v1h-1zM255 171h1v1h-1zM255 174h1v1h-1zM255 175h1v1h-1zM255 179h1v1h-1zM255 180h1v1h-1zM255 185h1v1h-1zM255 190h1v1h-1zM255 192h1v1h-1zM255 194h1v1h-1zM256 180h1v1h-1zM256 181h1v1h-1zM256 182h1v1h-1zM256 183h1v1h-1zM256 187h1v1h-1zM256 190h1v1h-1zM257 177h1v1h-1zM257 179h1v1h-1zM257 180h1v1h-1zM257 181h1v1h-1zM258 172h1v1h-1zM258 176h1v1h-1zM258 179h1v1h-1zM258 181h1v1h-1zM258 186h1v1h-1zM258 192h1v1h-1zM259 161h1v1h-1zM259 180h1v1h-1zM259 183h1v1h-1zM259 185h1v1h-1zM259 186h1v1h-1zM259 187h1v1h-1zM259 192h1v1h-1zM259 193h1v1h-1zM260 181h1v1h-1zM260 187h1v1h-1zM260 192h1v1h-1zM260 193h1v1h-1zM261 168h1v1h-1zM261 171h1v1h-1zM261 173h1v1h-1zM261 175h1v1h-1zM261 178h1v1h-1zM261 184h1v1h-1zM261 189h1v1h-1zM261 190h1v1h-1zM261 198h1v1h-1zM262 179h1v1h-1zM262 182h1v1h-1zM262 184h1v1h-1zM262 187h1v1h-1zM262 188h1v1h-1zM262 190h1v1h-1zM262 197h1v1h-1zM263 172h1v1h-1zM263 177h1v1h-1zM263 179h1v1h-1zM263 181h1v1h-1zM263 184h1v1h-1zM263 189h1v1h-1zM263 191h1v1h-1zM263 192h1v1h-1zM263 193h1v1h-1zM264 176h1v1h-1zM264 177h1v1h-1zM264 178h1v1h-1zM264 179h1v1h-1zM264 185h1v1h-1zM264 186h1v1h-1zM264 188h1v1h-1zM264 189h1v1h-1zM264 193h1v1h-1zM265 167h1v1h-1zM265 176h1v1h-1zM265 179h1v1h-1zM265 180h1v1h-1zM265 181h1v1h-1zM265 182h1v1h-1zM265 183h1v1h-1zM265 185h1v1h-1zM265 186h1v1h-1zM265 188h1v1h-1zM265 194h1v1h-1zM265 197h1v1h-1zM266 181h1v1h-1zM266 183h1v1h-1zM266 184h1v1h-1zM266 186h1v1h-1zM266 193h1v1h-1zM266 196h1v1h-1zM267 170h1v1h-1zM267 171h1v1h-1zM267 175h1v1h-1zM267 179h1v1h-1zM267 180h1v1h-1zM267 181h1v1h-1zM267 182h1v1h-1zM267 183h1v1h-1zM267 185h1v1h-1zM267 187h1v1h-1zM267 194h1v1h-1zM268 163h1v1h-1zM268 169h1v1h-1zM268 173h1v1h-1zM268 176h1v1h-1zM268 178h1v1h-1zM268 179h1v1h-1zM268 180h1v1h-1zM268 182h1v1h-1zM268 183h1v1h-1zM268 184h1v1h-1zM268 185h1v1h-1zM268 186h1v1h-1zM268 188h1v1h-1zM268 190h1v1h-1zM268 192h1v1h-1zM268 193h1v1h-1zM268 197h1v1h-1zM269 169h1v1h-1zM269 173h1v1h-1zM269 181h1v1h-1zM269 182h1v1h-1zM269 183h1v1h-1zM269 184h1v1h-1zM269 185h1v1h-1zM269 186h1v1h-1zM269 187h1v1h-1zM269 190h1v1h-1zM269 192h1v1h-1zM270 162h1v1h-1zM270 167h1v1h-1zM270 178h1v1h-1zM270 179h1v1h-1zM270 180h1v1h-1zM270 182h1v1h-1zM270 183h1v1h-1zM270 186h1v1h-1zM270 188h1v1h-1zM270 191h1v1h-1zM270 196h1v1h-1zM271 164h1v1h-1zM271 171h1v1h-1zM271 172h1v1h-1zM271 173h1v1h-1zM271 177h1v1h-1zM271 178h1v1h-1zM271 180h1v1h-1zM271 181h1v1h-1zM271 183h1v1h-1zM271 184h1v1h-1zM271 185h1v1h-1zM271 186h1v1h-1zM271 187h1v1h-1zM271 188h1v1h-1zM271 189h1v1h-1zM271 190h1v1h-1zM271 193h1v1h-1zM271 194h1v1h-1zM272 173h1v1h-1zM272 176h1v1h-1zM272 177h1v1h-1zM272 178h1v1h-1zM272 180h1v1h-1zM272 181h1v1h-1zM272 182h1v1h-1zM272 183h1v1h-1zM272 184h1v1h-1zM272 189h1v1h-1zM272 193h1v1h-1zM272 204h1v1h-1zM273 174h1v1h-1zM273 178h1v1h-1zM273 180h1v1h-1zM273 181h1v1h-1zM273 182h1v1h-1zM273 183h1v1h-1zM273 186h1v1h-1zM273 188h1v1h-1zM273 189h1v1h-1zM273 197h1v1h-1zM273 202h1v1h-1zM274 165h1v1h-1zM274 175h1v1h-1zM274 177h1v1h-1zM274 178h1v1h-1zM274 179h1v1h-1zM274 180h1v1h-1zM274 181h1v1h-1zM274 182h1v1h-1zM274 183h1v1h-1zM274 184h1v1h-1zM274 185h1v1h-1zM274 186h1v1h-1zM274 187h1v1h-1zM274 188h1v1h-1zM274 189h1v1h-1zM274 190h1v1h-1zM274 191h1v1h-1zM274 193h1v1h-1zM274 194h1v1h-1zM275 169h1v1h-1zM275 177h1v1h-1zM275 179h1v1h-1zM275 181h1v1h-1zM275 183h1v1h-1zM275 185h1v1h-1zM275 187h1v1h-1zM275 192h1v1h-1zM275 193h1v1h-1zM275 199h1v1h-1zM276 174h1v1h-1zM276 175h1v1h-1zM276 178h1v1h-1zM276 180h1v1h-1zM276 181h1v1h-1zM276 183h1v1h-1zM276 184h1v1h-1zM276 188h1v1h-1zM276 189h1v1h-1zM276 190h1v1h-1zM276 194h1v1h-1zM277 166h1v1h-1zM277 173h1v1h-1zM277 176h1v1h-1zM277 178h1v1h-1zM277 184h1v1h-1zM277 187h1v1h-1zM277 188h1v1h-1zM277 189h1v1h-1zM277 194h1v1h-1zM278 172h1v1h-1zM278 173h1v1h-1zM278 174h1v1h-1zM278 179h1v1h-1zM278 180h1v1h-1zM278 186h1v1h-1zM278 187h1v1h-1zM278 188h1v1h-1zM278 190h1v1h-1zM278 193h1v1h-1zM278 195h1v1h-1zM279 178h1v1h-1zM279 180h1v1h-1zM279 181h1v1h-1zM279 184h1v1h-1zM279 188h1v1h-1zM279 189h1v1h-1zM279 197h1v1h-1zM279 198h1v1h-1zM280 179h1v1h-1zM280 180h1v1h-1zM280 182h1v1h-1zM280 183h1v1h-1zM280 186h1v1h-1zM280 187h1v1h-1zM280 190h1v1h-1zM281 170h1v1h-1zM281 177h1v1h-1zM281 184h1v1h-1zM281 185h1v1h-1zM281 187h1v1h-1zM281 190h1v1h-1zM281 191h1v1h-1zM281 198h1v1h-1zM281 199h1v1h-1zM282 177h1v1h-1zM282 178h1v1h-1zM282 182h1v1h-1zM282 184h1v1h-1zM282 185h1v1h-1zM282 186h1v1h-1zM282 187h1v1h-1zM282 191h1v1h-1zM282 192h1v1h-1zM283 173h1v1h-1zM283 176h1v1h-1zM283 180h1v1h-1zM283 182h1v1h-1zM283 183h1v1h-1zM283 184h1v1h-1zM283 185h1v1h-1zM283 186h1v1h-1zM283 187h1v1h-1zM283 188h1v1h-1zM283 191h1v1h-1zM283 195h1v1h-1zM284 176h1v1h-1zM284 179h1v1h-1zM284 187h1v1h-1zM284 194h1v1h-1zM285 177h1v1h-1zM285 179h1v1h-1zM285 180h1v1h-1zM285 181h1v1h-1zM285 185h1v1h-1zM285 192h1v1h-1zM286 179h1v1h-1zM287 181h1v1h-1zM287 183h1v1h-1zM287 187h1v1h-1zM288 166h1v1h-1zM288 175h1v1h-1zM288 178h1v1h-1zM288 183h1v1h-1zM288 184h1v1h-1zM289 176h1v1h-1zM289 184h1v1h-1zM290 171h1v1h-1zM292 183h1v1h-1zM293 174h1v1h-1zM294 173h1v1h-1zM294 186h1v1h-1zM303 187h1v1h-1z" fill="#d84848" opacity="0.3"/>
<path d="M241 178h1v1h-1zM241 180h1v1h-1zM242 180h1v1h-1zM242 182h1v1h-1zM243 181h1v1h-1zM244 178h1v1h-1zM244 179h1v1h-1zM244 180h1v1h-1zM244 181h1v1h-1zM244 182h1v1h-1zM245 178h1v1h-1zM245 179h1v1h-1zM245 181h1v1h-1zM246 177h1v1h-1zM246 179h1v1h-1zM246 180h1v1h-1zM246 181h1v1h-1zM247 175h1v1h-1zM247 178h1v1h-1zM247 179h1v1h-1zM247 180h1v1h-1zM247 181h1v1h-1zM247 182h1v1h-1zM248 177h1v1h-1zM248 178h1v1h-1zM248 179h1v1h-1zM248 180h1v1h-1zM248 181h1v1h-1zM248 182h1v1h-1zM248 184h1v1h-1zM249 175h1v1h-1zM249 176h1v1h-1zM249 178h1v1h-1zM249 179h1v1h-1zM249 180h1v1h-1zM249 181h1v1h-1zM249 182h1v1h-1zM250 178h1v1h-1zM250 180h1v1h-1zM250 181h1v1h-1zM250 183h1v1h-1zM250 184h1v1h-1zM251 176h1v1h-1zM251 177h1v1h-1zM251 178h1v1h-1zM251 179h1v1h-1zM251 180h1v1h-1zM251 182h1v1h-1zM252 174h1v1h-1zM252 176h1v1h-1zM252 178h1v1h-1zM252 179h1v1h-1zM252 182h1v1h-1zM252 183h1v1h-1zM253 177h1v1h-1zM253 178h1v1h-1zM253 179h1v1h-1zM253 180h1v1h-1zM253 181h1v1h-1zM253 183h1v1h-1zM254 176h1v1h-1zM254 177h1v1h-1zM254 179h1v1h-1zM254 180h1v1h-1zM254 181h1v1h-1zM254 182h1v1h-1zM255 176h1v1h-1zM255 177h1v1h-1zM255 178h1v1h-1zM255 179h1v1h-1zM255 180h1v1h-1zM255 181h1v1h-1zM255 182h1v1h-1zM255 183h1v1h-1zM256 177h1v1h-1zM256 178h1v1h-1zM256 179h1v1h-1zM256 180h1v1h-1zM256 181h1v1h-1zM256 182h1v1h-1zM256 183h1v1h-1zM257 176h1v1h-1zM257 177h1v1h-1zM257 178h1v1h-1zM257 179h1v1h-1zM257 180h1v1h-1zM257 181h1v1h-1zM257 182h1v1h-1zM257 183h1v1h-1zM257 184h1v1h-1zM258 176h1v1h-1zM258 177h1v1h-1zM258 178h1v1h-1zM258 179h1v1h-1zM258 180h1v1h-1zM258 183h1v1h-1zM258 184h1v1h-1zM259 177h1v1h-1zM259 178h1v1h-1zM259 179h1v1h-1zM259 181h1v1h-1zM259 182h1v1h-1zM260 176h1v1h-1zM260 178h1v1h-1zM260 180h1v1h-1zM260 181h1v1h-1zM261 180h1v1h-1zM261 181h1v1h-1zM261 182h1v1h-1zM262 176h1v1h-1zM262 177h1v1h-1zM262 178h1v1h-1zM262 179h1v1h-1zM262 180h1v1h-1zM262 181h1v1h-1zM262 183h1v1h-1zM263 176h1v1h-1zM263 178h1v1h-1zM263 179h1v1h-1zM263 180h1v1h-1zM263 181h1v1h-1zM263 182h1v1h-1zM263 183h1v1h-1zM264 176h1v1h-1zM264 179h1v1h-1zM264 180h1v1h-1zM264 181h1v1h-1zM264 182h1v1h-1zM265 177h1v1h-1zM265 178h1v1h-1zM265 179h1v1h-1zM265 180h1v1h-1zM266 177h1v1h-1zM266 178h1v1h-1zM266 180h1v1h-1zM266 182h1v1h-1zM267 177h1v1h-1zM267 178h1v1h-1zM267 179h1v1h-1zM267 180h1v1h-1zM267 181h1v1h-1zM267 182h1v1h-1zM268 175h1v1h-1zM268 178h1v1h-1zM268 179h1v1h-1zM268 180h1v1h-1zM268 181h1v1h-1zM269 177h1v1h-1zM269 178h1v1h-1zM269 180h1v1h-1zM271 179h1v1h-1zM272 181h1v1h-1z" fill="#6a75b8" opacity="0.75"/>
<ellipse cx="260.5" cy="180.2" rx="10.5" ry="3.2" fill="#3d4ba0" opacity="1.0" transform="rotate(0 260.5 180.2)" filter="url(#b3)"/>
<ellipse cx="287.5" cy="180.0" rx="10.0" ry="5.0" fill="#d84848" opacity="0.3" transform="rotate(0 287.5 180.0)" filter="url(#b2)"/>
<path d="M274 180h1v1h-1zM275 181h1v1h-1zM276 180h1v1h-1zM276 182h1v1h-1zM277 177h1v1h-1zM277 179h1v1h-1zM277 181h1v1h-1zM278 178h1v1h-1zM278 180h1v1h-1zM278 181h1v1h-1zM279 177h1v1h-1zM279 178h1v1h-1zM279 180h1v1h-1zM279 181h1v1h-1zM279 182h1v1h-1zM279 183h1v1h-1zM280 176h1v1h-1zM280 177h1v1h-1zM280 178h1v1h-1zM280 179h1v1h-1zM280 180h1v1h-1zM280 181h1v1h-1zM280 182h1v1h-1zM281 175h1v1h-1zM281 176h1v1h-1zM281 178h1v1h-1zM281 180h1v1h-1zM281 183h1v1h-1zM282 176h1v1h-1zM282 177h1v1h-1zM282 178h1v1h-1zM282 179h1v1h-1zM282 180h1v1h-1zM282 182h1v1h-1zM282 183h1v1h-1zM282 184h1v1h-1zM283 175h1v1h-1zM283 176h1v1h-1zM283 177h1v1h-1zM283 178h1v1h-1zM283 179h1v1h-1zM283 180h1v1h-1zM283 181h1v1h-1zM283 182h1v1h-1zM283 186h1v1h-1zM284 174h1v1h-1zM284 175h1v1h-1zM284 176h1v1h-1zM284 177h1v1h-1zM284 178h1v1h-1zM284 179h1v1h-1zM284 180h1v1h-1zM284 181h1v1h-1zM284 182h1v1h-1zM284 183h1v1h-1zM284 184h1v1h-1zM284 185h1v1h-1zM285 176h1v1h-1zM285 178h1v1h-1zM285 179h1v1h-1zM285 180h1v1h-1zM285 181h1v1h-1zM285 182h1v1h-1zM285 183h1v1h-1zM285 184h1v1h-1zM286 175h1v1h-1zM286 176h1v1h-1zM286 177h1v1h-1zM286 180h1v1h-1zM286 182h1v1h-1zM286 184h1v1h-1zM286 185h1v1h-1zM287 174h1v1h-1zM287 175h1v1h-1zM287 177h1v1h-1zM287 178h1v1h-1zM287 179h1v1h-1zM287 181h1v1h-1zM287 182h1v1h-1zM287 183h1v1h-1zM287 184h1v1h-1zM287 185h1v1h-1zM288 175h1v1h-1zM288 177h1v1h-1zM288 179h1v1h-1zM288 180h1v1h-1zM288 181h1v1h-1zM288 182h1v1h-1zM288 183h1v1h-1zM288 184h1v1h-1zM288 185h1v1h-1zM289 173h1v1h-1zM289 176h1v1h-1zM289 177h1v1h-1zM289 179h1v1h-1zM289 181h1v1h-1zM289 182h1v1h-1zM289 183h1v1h-1zM289 184h1v1h-1zM290 174h1v1h-1zM290 175h1v1h-1zM290 176h1v1h-1zM290 177h1v1h-1zM290 178h1v1h-1zM290 180h1v1h-1zM290 181h1v1h-1zM290 183h1v1h-1zM290 184h1v1h-1zM290 185h1v1h-1zM291 175h1v1h-1zM291 176h1v1h-1zM291 177h1v1h-1zM291 178h1v1h-1zM291 179h1v1h-1zM291 180h1v1h-1zM291 181h1v1h-1zM291 182h1v1h-1zM291 183h1v1h-1zM291 184h1v1h-1zM291 185h1v1h-1zM292 176h1v1h-1zM292 177h1v1h-1zM292 178h1v1h-1zM292 179h1v1h-1zM292 181h1v1h-1zM292 182h1v1h-1zM292 183h1v1h-1zM292 184h1v1h-1zM292 185h1v1h-1zM293 176h1v1h-1zM293 178h1v1h-1zM293 179h1v1h-1zM293 181h1v1h-1zM293 182h1v1h-1zM293 184h1v1h-1zM294 176h1v1h-1zM294 177h1v1h-1zM294 178h1v1h-1zM294 179h1v1h-1zM294 181h1v1h-1zM294 183h1v1h-1zM295 178h1v1h-1zM295 179h1v1h-1zM295 180h1v1h-1zM295 181h1v1h-1zM295 183h1v1h-1zM296 177h1v1h-1zM296 178h1v1h-1zM296 179h1v1h-1zM296 180h1v1h-1zM296 181h1v1h-1zM297 178h1v1h-1zM297 179h1v1h-1zM298 178h1v1h-1zM298 179h1v1h-1z" fill="#d84848" opacity="0.8"/>
<ellipse cx="287.5" cy="180.0" rx="8.8" ry="4.4" fill="#d01a1a" opacity="1.0" transform="rotate(0 287.5 180.0)" filter="url(#b3)"/>
<path d="M253 206h1v1h-1zM254 207h1v1h-1zM255 206h1v1h-1zM255 207h1v1h-1zM256 203h1v1h-1zM256 206h1v1h-1zM257 205h1v1h-1zM257 206h1v1h-1zM257 207h1v1h-1zM258 205h1v1h-1zM258 206h1v1h-1zM258 207h1v1h-1zM258 208h1v1h-1zM259 205h1v1h-1zM259 206h1v1h-1zM259 207h1v1h-1zM259 209h1v1h-1zM260 205h1v1h-1zM260 207h1v1h-1zM260 208h1v1h-1zM261 204h1v1h-1zM261 206h1v1h-1zM261 207h1v1h-1zM261 208h1v1h-1zM261 209h1v1h-1zM262 207h1v1h-1zM262 208h1v1h-1zM265 206h1v1h-1z" fill="#d84848" opacity="0.75"/>
<ellipse cx="286.8" cy="179.7" rx="11.8" ry="6.6" fill="none" stroke="#111" stroke-width="1.15" stroke-dasharray="0.9 1.15" transform="rotate(0 286.8 179.7)"/>
<path d="M341 186h1v1h-1zM342 180h1v1h-1zM342 189h1v1h-1zM342 193h1v1h-1zM343 179h1v1h-1zM343 182h1v1h-1zM343 195h1v1h-1zM343 198h1v1h-1zM343 200h1v1h-1zM343 209h1v1h-1zM344 183h1v1h-1zM344 191h1v1h-1zM344 193h1v1h-1zM344 194h1v1h-1zM344 198h1v1h-1zM345 175h1v1h-1zM345 178h1v1h-1zM345 179h1v1h-1zM345 182h1v1h-1zM345 194h1v1h-1zM345 195h1v1h-1zM346 173h1v1h-1zM346 177h1v1h-1zM346 181h1v1h-1zM346 183h1v1h-1zM346 188h1v1h-1zM346 200h1v1h-1zM346 203h1v1h-1zM347 179h1v1h-1zM347 187h1v1h-1zM347 190h1v1h-1zM347 207h1v1h-1zM347 216h1v1h-1zM348 177h1v1h-1zM348 187h1v1h-1zM348 188h1v1h-1zM348 194h1v1h-1zM348 195h1v1h-1zM348 199h1v1h-1zM349 179h1v1h-1zM349 181h1v1h-1zM349 184h1v1h-1zM349 185h1v1h-1zM350 177h1v1h-1zM350 178h1v1h-1zM350 183h1v1h-1zM350 185h1v1h-1zM350 190h1v1h-1zM350 192h1v1h-1zM350 193h1v1h-1zM350 195h1v1h-1zM350 199h1v1h-1zM350 203h1v1h-1zM351 191h1v1h-1zM351 192h1v1h-1zM351 198h1v1h-1zM352 186h1v1h-1zM352 187h1v1h-1zM352 191h1v1h-1zM352 193h1v1h-1zM352 195h1v1h-1zM352 199h1v1h-1zM352 209h1v1h-1zM353 181h1v1h-1zM353 183h1v1h-1zM353 186h1v1h-1zM353 187h1v1h-1zM353 191h1v1h-1zM353 193h1v1h-1zM353 194h1v1h-1zM353 195h1v1h-1zM353 199h1v1h-1zM353 202h1v1h-1zM353 204h1v1h-1zM354 179h1v1h-1zM354 185h1v1h-1zM354 187h1v1h-1zM354 193h1v1h-1zM354 194h1v1h-1zM354 195h1v1h-1zM354 197h1v1h-1zM354 199h1v1h-1zM354 204h1v1h-1zM355 177h1v1h-1zM355 181h1v1h-1zM355 184h1v1h-1zM355 187h1v1h-1zM355 195h1v1h-1zM355 201h1v1h-1zM355 203h1v1h-1zM355 215h1v1h-1zM356 174h1v1h-1zM356 178h1v1h-1zM356 183h1v1h-1zM356 186h1v1h-1zM356 190h1v1h-1zM356 192h1v1h-1zM356 193h1v1h-1zM356 194h1v1h-1zM356 195h1v1h-1zM356 199h1v1h-1zM356 202h1v1h-1zM357 165h1v1h-1zM357 172h1v1h-1zM357 175h1v1h-1zM357 178h1v1h-1zM357 183h1v1h-1zM357 190h1v1h-1zM357 191h1v1h-1zM357 195h1v1h-1zM357 196h1v1h-1zM357 199h1v1h-1zM357 202h1v1h-1zM357 205h1v1h-1zM357 206h1v1h-1zM357 214h1v1h-1zM358 181h1v1h-1zM358 183h1v1h-1zM358 184h1v1h-1zM358 185h1v1h-1zM358 189h1v1h-1zM358 191h1v1h-1zM358 193h1v1h-1zM358 198h1v1h-1zM358 203h1v1h-1zM359 170h1v1h-1zM359 172h1v1h-1zM359 182h1v1h-1zM359 184h1v1h-1zM359 185h1v1h-1zM359 186h1v1h-1zM359 187h1v1h-1zM359 188h1v1h-1zM359 190h1v1h-1zM359 194h1v1h-1zM359 196h1v1h-1zM359 199h1v1h-1zM359 200h1v1h-1zM360 161h1v1h-1zM360 172h1v1h-1zM360 175h1v1h-1zM360 177h1v1h-1zM360 179h1v1h-1zM360 180h1v1h-1zM360 181h1v1h-1zM360 186h1v1h-1zM360 189h1v1h-1zM360 193h1v1h-1zM360 198h1v1h-1zM360 204h1v1h-1zM361 169h1v1h-1zM361 170h1v1h-1zM361 174h1v1h-1zM361 182h1v1h-1zM361 184h1v1h-1zM361 185h1v1h-1zM361 187h1v1h-1zM361 188h1v1h-1zM361 189h1v1h-1zM361 190h1v1h-1zM361 193h1v1h-1zM361 194h1v1h-1zM361 195h1v1h-1zM361 199h1v1h-1zM361 204h1v1h-1zM361 205h1v1h-1zM362 171h1v1h-1zM362 174h1v1h-1zM362 176h1v1h-1zM362 184h1v1h-1zM362 185h1v1h-1zM362 186h1v1h-1zM362 188h1v1h-1zM362 190h1v1h-1zM362 194h1v1h-1zM362 196h1v1h-1zM362 198h1v1h-1zM362 202h1v1h-1zM362 204h1v1h-1zM363 181h1v1h-1zM363 185h1v1h-1zM363 188h1v1h-1zM363 190h1v1h-1zM363 191h1v1h-1zM363 195h1v1h-1zM363 198h1v1h-1zM363 214h1v1h-1zM364 177h1v1h-1zM364 179h1v1h-1zM364 190h1v1h-1zM364 191h1v1h-1zM364 194h1v1h-1zM364 196h1v1h-1zM364 199h1v1h-1zM364 200h1v1h-1zM364 203h1v1h-1zM364 205h1v1h-1zM365 173h1v1h-1zM365 180h1v1h-1zM365 183h1v1h-1zM365 184h1v1h-1zM365 186h1v1h-1zM365 188h1v1h-1zM365 190h1v1h-1zM365 191h1v1h-1zM365 193h1v1h-1zM365 198h1v1h-1zM365 201h1v1h-1zM365 202h1v1h-1zM366 174h1v1h-1zM366 175h1v1h-1zM366 178h1v1h-1zM366 183h1v1h-1zM366 187h1v1h-1zM366 188h1v1h-1zM366 193h1v1h-1zM366 200h1v1h-1zM366 202h1v1h-1zM367 173h1v1h-1zM367 176h1v1h-1zM367 179h1v1h-1zM367 180h1v1h-1zM367 181h1v1h-1zM367 183h1v1h-1zM367 184h1v1h-1zM367 186h1v1h-1zM367 187h1v1h-1zM367 189h1v1h-1zM367 192h1v1h-1zM367 193h1v1h-1zM367 198h1v1h-1zM367 201h1v1h-1zM368 164h1v1h-1zM368 171h1v1h-1zM368 174h1v1h-1zM368 180h1v1h-1zM368 181h1v1h-1zM368 184h1v1h-1zM368 189h1v1h-1zM368 190h1v1h-1zM368 192h1v1h-1zM368 194h1v1h-1zM368 196h1v1h-1zM368 198h1v1h-1zM369 184h1v1h-1zM369 185h1v1h-1zM369 187h1v1h-1zM369 191h1v1h-1zM369 195h1v1h-1zM369 199h1v1h-1zM369 203h1v1h-1zM370 175h1v1h-1zM370 180h1v1h-1zM370 186h1v1h-1zM370 189h1v1h-1zM370 192h1v1h-1zM370 198h1v1h-1zM370 202h1v1h-1zM370 208h1v1h-1zM371 179h1v1h-1zM371 181h1v1h-1zM371 183h1v1h-1zM371 187h1v1h-1zM371 194h1v1h-1zM371 198h1v1h-1zM371 201h1v1h-1zM371 205h1v1h-1zM371 211h1v1h-1zM372 173h1v1h-1zM372 175h1v1h-1zM372 180h1v1h-1zM372 184h1v1h-1zM372 186h1v1h-1zM372 187h1v1h-1zM372 188h1v1h-1zM372 189h1v1h-1zM372 192h1v1h-1zM373 173h1v1h-1zM373 174h1v1h-1zM373 178h1v1h-1zM373 180h1v1h-1zM373 189h1v1h-1zM373 191h1v1h-1zM373 192h1v1h-1zM373 193h1v1h-1zM373 200h1v1h-1zM373 201h1v1h-1zM374 169h1v1h-1zM374 170h1v1h-1zM374 180h1v1h-1zM374 181h1v1h-1zM374 185h1v1h-1zM374 186h1v1h-1zM374 211h1v1h-1zM375 183h1v1h-1zM375 184h1v1h-1zM375 185h1v1h-1zM375 198h1v1h-1zM376 169h1v1h-1zM376 180h1v1h-1zM376 186h1v1h-1zM376 189h1v1h-1zM376 190h1v1h-1zM376 191h1v1h-1zM376 196h1v1h-1zM377 191h1v1h-1zM377 194h1v1h-1zM377 198h1v1h-1zM377 199h1v1h-1zM378 181h1v1h-1zM378 192h1v1h-1zM378 194h1v1h-1zM378 195h1v1h-1zM378 200h1v1h-1zM379 184h1v1h-1zM379 189h1v1h-1zM379 192h1v1h-1zM379 199h1v1h-1zM380 176h1v1h-1zM380 195h1v1h-1zM380 199h1v1h-1zM381 192h1v1h-1zM381 197h1v1h-1zM381 205h1v1h-1zM383 176h1v1h-1zM383 180h1v1h-1zM383 182h1v1h-1zM383 189h1v1h-1zM385 183h1v1h-1zM385 203h1v1h-1zM386 182h1v1h-1zM386 194h1v1h-1zM386 196h1v1h-1zM387 200h1v1h-1zM388 186h1v1h-1zM389 206h1v1h-1zM390 193h1v1h-1zM394 207h1v1h-1zM400 163h1v1h-1z" fill="#d84848" opacity="0.3"/>
<path d="M348 204h1v1h-1zM348 207h1v1h-1zM349 205h1v1h-1zM349 209h1v1h-1zM350 203h1v1h-1zM350 204h1v1h-1zM350 205h1v1h-1zM350 206h1v1h-1zM350 207h1v1h-1zM350 211h1v1h-1zM351 204h1v1h-1zM351 206h1v1h-1zM351 209h1v1h-1zM352 201h1v1h-1zM352 204h1v1h-1zM352 206h1v1h-1zM352 207h1v1h-1zM352 208h1v1h-1zM353 203h1v1h-1zM353 204h1v1h-1zM353 205h1v1h-1zM353 210h1v1h-1zM353 212h1v1h-1zM354 206h1v1h-1zM354 207h1v1h-1zM355 206h1v1h-1zM355 207h1v1h-1z" fill="#d84848" opacity="0.5"/>
<ellipse cx="361.4" cy="176.5" rx="15.0" ry="6.0" fill="#d84848" opacity="0.3" transform="rotate(0 361.4 176.5)" filter="url(#b2)"/>
<path d="M342 176h1v1h-1zM342 177h1v1h-1zM343 176h1v1h-1zM344 176h1v1h-1zM345 175h1v1h-1zM345 177h1v1h-1zM346 173h1v1h-1zM346 174h1v1h-1zM346 175h1v1h-1zM346 177h1v1h-1zM346 178h1v1h-1zM346 180h1v1h-1zM347 173h1v1h-1zM347 174h1v1h-1zM347 175h1v1h-1zM347 176h1v1h-1zM347 177h1v1h-1zM347 178h1v1h-1zM347 181h1v1h-1zM348 173h1v1h-1zM348 175h1v1h-1zM348 176h1v1h-1zM348 178h1v1h-1zM348 179h1v1h-1zM349 171h1v1h-1zM349 172h1v1h-1zM349 173h1v1h-1zM349 174h1v1h-1zM349 175h1v1h-1zM349 176h1v1h-1zM349 177h1v1h-1zM349 178h1v1h-1zM349 179h1v1h-1zM349 181h1v1h-1zM350 172h1v1h-1zM350 175h1v1h-1zM350 176h1v1h-1zM350 177h1v1h-1zM350 178h1v1h-1zM350 179h1v1h-1zM351 171h1v1h-1zM351 172h1v1h-1zM351 173h1v1h-1zM351 174h1v1h-1zM351 175h1v1h-1zM351 176h1v1h-1zM351 178h1v1h-1zM351 179h1v1h-1zM352 171h1v1h-1zM352 172h1v1h-1zM352 173h1v1h-1zM352 175h1v1h-1zM352 176h1v1h-1zM352 178h1v1h-1zM352 179h1v1h-1zM352 180h1v1h-1zM352 181h1v1h-1zM353 170h1v1h-1zM353 171h1v1h-1zM353 172h1v1h-1zM353 173h1v1h-1zM353 174h1v1h-1zM353 176h1v1h-1zM353 177h1v1h-1zM353 178h1v1h-1zM353 181h1v1h-1zM353 182h1v1h-1zM354 170h1v1h-1zM354 171h1v1h-1zM354 172h1v1h-1zM354 174h1v1h-1zM354 175h1v1h-1zM354 176h1v1h-1zM354 177h1v1h-1zM354 178h1v1h-1zM354 179h1v1h-1zM354 181h1v1h-1zM354 182h1v1h-1zM355 170h1v1h-1zM355 171h1v1h-1zM355 172h1v1h-1zM355 175h1v1h-1zM355 177h1v1h-1zM355 178h1v1h-1zM355 179h1v1h-1zM355 180h1v1h-1zM355 181h1v1h-1zM356 172h1v1h-1zM356 173h1v1h-1zM356 174h1v1h-1zM356 175h1v1h-1zM356 176h1v1h-1zM356 177h1v1h-1zM356 179h1v1h-1zM356 180h1v1h-1zM356 181h1v1h-1zM357 170h1v1h-1zM357 171h1v1h-1zM357 173h1v1h-1zM357 175h1v1h-1zM357 178h1v1h-1zM357 179h1v1h-1zM357 180h1v1h-1zM357 182h1v1h-1zM358 171h1v1h-1zM358 172h1v1h-1zM358 173h1v1h-1zM358 174h1v1h-1zM358 176h1v1h-1zM358 177h1v1h-1zM358 178h1v1h-1zM358 179h1v1h-1zM358 180h1v1h-1zM358 181h1v1h-1zM358 182h1v1h-1zM359 170h1v1h-1zM359 171h1v1h-1zM359 174h1v1h-1zM359 175h1v1h-1zM359 176h1v1h-1zM359 177h1v1h-1zM359 178h1v1h-1zM359 179h1v1h-1zM359 180h1v1h-1zM359 181h1v1h-1zM359 182h1v1h-1zM360 172h1v1h-1zM360 173h1v1h-1zM360 174h1v1h-1zM360 175h1v1h-1zM360 176h1v1h-1zM360 177h1v1h-1zM360 178h1v1h-1zM360 179h1v1h-1zM360 181h1v1h-1zM360 182h1v1h-1zM360 183h1v1h-1zM361 170h1v1h-1zM361 171h1v1h-1zM361 173h1v1h-1zM361 175h1v1h-1zM361 176h1v1h-1zM361 177h1v1h-1zM361 180h1v1h-1zM361 181h1v1h-1zM361 183h1v1h-1zM362 170h1v1h-1zM362 174h1v1h-1zM362 176h1v1h-1zM362 179h1v1h-1zM362 180h1v1h-1zM362 181h1v1h-1zM362 182h1v1h-1zM363 170h1v1h-1zM363 171h1v1h-1zM363 172h1v1h-1zM363 174h1v1h-1zM363 175h1v1h-1zM363 176h1v1h-1zM363 177h1v1h-1zM363 178h1v1h-1zM363 181h1v1h-1zM363 183h1v1h-1zM364 170h1v1h-1zM364 171h1v1h-1zM364 173h1v1h-1zM364 174h1v1h-1zM364 175h1v1h-1zM364 178h1v1h-1zM364 179h1v1h-1zM364 180h1v1h-1zM364 181h1v1h-1zM364 182h1v1h-1zM365 170h1v1h-1zM365 171h1v1h-1zM365 173h1v1h-1zM365 174h1v1h-1zM365 175h1v1h-1zM365 176h1v1h-1zM365 178h1v1h-1zM365 179h1v1h-1zM365 180h1v1h-1zM365 181h1v1h-1zM365 182h1v1h-1zM366 171h1v1h-1zM366 172h1v1h-1zM366 173h1v1h-1zM366 175h1v1h-1zM366 176h1v1h-1zM366 177h1v1h-1zM366 178h1v1h-1zM366 179h1v1h-1zM366 180h1v1h-1zM366 181h1v1h-1zM366 182h1v1h-1zM367 171h1v1h-1zM367 172h1v1h-1zM367 173h1v1h-1zM367 175h1v1h-1zM367 176h1v1h-1zM367 178h1v1h-1zM367 179h1v1h-1zM367 180h1v1h-1zM367 181h1v1h-1zM368 169h1v1h-1zM368 171h1v1h-1zM368 172h1v1h-1zM368 173h1v1h-1zM368 174h1v1h-1zM368 175h1v1h-1zM368 176h1v1h-1zM368 177h1v1h-1zM368 178h1v1h-1zM368 179h1v1h-1zM368 180h1v1h-1zM368 181h1v1h-1zM368 182h1v1h-1zM369 171h1v1h-1zM369 172h1v1h-1zM369 173h1v1h-1zM369 174h1v1h-1zM369 175h1v1h-1zM369 176h1v1h-1zM369 177h1v1h-1zM369 178h1v1h-1zM369 179h1v1h-1zM369 181h1v1h-1zM369 182h1v1h-1zM370 171h1v1h-1zM370 172h1v1h-1zM370 173h1v1h-1zM370 174h1v1h-1zM370 175h1v1h-1zM370 176h1v1h-1zM370 179h1v1h-1zM370 180h1v1h-1zM370 183h1v1h-1zM371 171h1v1h-1zM371 173h1v1h-1zM371 174h1v1h-1zM371 175h1v1h-1zM371 178h1v1h-1zM371 179h1v1h-1zM371 180h1v1h-1zM372 172h1v1h-1zM372 173h1v1h-1zM372 174h1v1h-1zM372 175h1v1h-1zM372 177h1v1h-1zM372 178h1v1h-1zM372 180h1v1h-1zM373 170h1v1h-1zM373 172h1v1h-1zM373 173h1v1h-1zM373 174h1v1h-1zM373 175h1v1h-1zM373 176h1v1h-1zM373 177h1v1h-1zM373 178h1v1h-1zM373 179h1v1h-1zM373 181h1v1h-1zM374 173h1v1h-1zM374 174h1v1h-1zM374 175h1v1h-1zM374 176h1v1h-1zM374 178h1v1h-1zM374 179h1v1h-1zM374 180h1v1h-1zM375 174h1v1h-1zM375 175h1v1h-1zM375 176h1v1h-1zM375 178h1v1h-1zM377 175h1v1h-1zM377 176h1v1h-1zM377 178h1v1h-1zM378 176h1v1h-1zM378 179h1v1h-1zM378 180h1v1h-1zM379 174h1v1h-1z" fill="#d84848" opacity="0.8"/>
<ellipse cx="361.4" cy="176.5" rx="13.2" ry="5.3" fill="#d01a1a" opacity="1.0" transform="rotate(0 361.4 176.5)" filter="url(#b3)"/>
<ellipse cx="366.0" cy="186.0" rx="10.0" ry="8.5" fill="#d84848" opacity="0.3" transform="rotate(0 366.0 186.0)" filter="url(#b2)"/>
<path d="M353 189h1v1h-1zM354 185h1v1h-1zM354 186h1v1h-1zM355 181h1v1h-1zM355 183h1v1h-1zM355 185h1v1h-1zM355 186h1v1h-1zM355 187h1v1h-1zM355 188h1v1h-1zM355 189h1v1h-1zM356 182h1v1h-1zM356 185h1v1h-1zM356 186h1v1h-1zM356 192h1v1h-1zM357 180h1v1h-1zM357 183h1v1h-1zM357 184h1v1h-1zM357 185h1v1h-1zM357 187h1v1h-1zM357 188h1v1h-1zM357 189h1v1h-1zM357 190h1v1h-1zM357 192h1v1h-1zM357 193h1v1h-1zM358 176h1v1h-1zM358 179h1v1h-1zM358 180h1v1h-1zM358 183h1v1h-1zM358 184h1v1h-1zM358 185h1v1h-1zM358 186h1v1h-1zM358 187h1v1h-1zM358 189h1v1h-1zM358 190h1v1h-1zM358 193h1v1h-1zM359 179h1v1h-1zM359 181h1v1h-1zM359 182h1v1h-1zM359 183h1v1h-1zM359 184h1v1h-1zM359 186h1v1h-1zM359 187h1v1h-1zM359 189h1v1h-1zM359 190h1v1h-1zM359 194h1v1h-1zM360 179h1v1h-1zM360 180h1v1h-1zM360 181h1v1h-1zM360 182h1v1h-1zM360 183h1v1h-1zM360 185h1v1h-1zM360 186h1v1h-1zM360 187h1v1h-1zM360 188h1v1h-1zM360 190h1v1h-1zM360 191h1v1h-1zM360 192h1v1h-1zM360 194h1v1h-1zM361 177h1v1h-1zM361 178h1v1h-1zM361 180h1v1h-1zM361 181h1v1h-1zM361 184h1v1h-1zM361 185h1v1h-1zM361 186h1v1h-1zM361 187h1v1h-1zM361 188h1v1h-1zM361 189h1v1h-1zM361 190h1v1h-1zM361 191h1v1h-1zM361 192h1v1h-1zM361 193h1v1h-1zM362 178h1v1h-1zM362 179h1v1h-1zM362 180h1v1h-1zM362 182h1v1h-1zM362 183h1v1h-1zM362 184h1v1h-1zM362 185h1v1h-1zM362 186h1v1h-1zM362 188h1v1h-1zM362 189h1v1h-1zM362 190h1v1h-1zM362 192h1v1h-1zM362 193h1v1h-1zM362 194h1v1h-1zM363 176h1v1h-1zM363 177h1v1h-1zM363 179h1v1h-1zM363 182h1v1h-1zM363 183h1v1h-1zM363 184h1v1h-1zM363 186h1v1h-1zM363 187h1v1h-1zM363 188h1v1h-1zM363 189h1v1h-1zM363 191h1v1h-1zM363 193h1v1h-1zM364 177h1v1h-1zM364 179h1v1h-1zM364 181h1v1h-1zM364 183h1v1h-1zM364 184h1v1h-1zM364 188h1v1h-1zM364 189h1v1h-1zM364 193h1v1h-1zM364 194h1v1h-1zM364 196h1v1h-1zM365 177h1v1h-1zM365 178h1v1h-1zM365 179h1v1h-1zM365 180h1v1h-1zM365 181h1v1h-1zM365 182h1v1h-1zM365 183h1v1h-1zM365 184h1v1h-1zM365 187h1v1h-1zM365 189h1v1h-1zM365 190h1v1h-1zM365 191h1v1h-1zM365 192h1v1h-1zM366 177h1v1h-1zM366 178h1v1h-1zM366 180h1v1h-1zM366 181h1v1h-1zM366 183h1v1h-1zM366 185h1v1h-1zM366 187h1v1h-1zM366 188h1v1h-1zM366 189h1v1h-1zM366 190h1v1h-1zM366 191h1v1h-1zM366 192h1v1h-1zM366 193h1v1h-1zM366 194h1v1h-1zM367 177h1v1h-1zM367 178h1v1h-1zM367 179h1v1h-1zM367 180h1v1h-1zM367 181h1v1h-1zM367 183h1v1h-1zM367 184h1v1h-1zM367 185h1v1h-1zM367 186h1v1h-1zM367 188h1v1h-1zM367 190h1v1h-1zM367 191h1v1h-1zM367 192h1v1h-1zM367 194h1v1h-1zM368 175h1v1h-1zM368 177h1v1h-1zM368 178h1v1h-1zM368 180h1v1h-1zM368 181h1v1h-1zM368 182h1v1h-1zM368 183h1v1h-1zM368 184h1v1h-1zM368 185h1v1h-1zM368 187h1v1h-1zM368 189h1v1h-1zM368 190h1v1h-1zM368 191h1v1h-1zM368 192h1v1h-1zM368 193h1v1h-1zM368 194h1v1h-1zM368 195h1v1h-1zM369 177h1v1h-1zM369 180h1v1h-1zM369 181h1v1h-1zM369 182h1v1h-1zM369 183h1v1h-1zM369 184h1v1h-1zM369 185h1v1h-1zM369 186h1v1h-1zM369 188h1v1h-1zM369 190h1v1h-1zM369 191h1v1h-1zM369 192h1v1h-1zM369 193h1v1h-1zM370 175h1v1h-1zM370 178h1v1h-1zM370 179h1v1h-1zM370 182h1v1h-1zM370 184h1v1h-1zM370 185h1v1h-1zM370 187h1v1h-1zM370 189h1v1h-1zM370 190h1v1h-1zM370 191h1v1h-1zM370 192h1v1h-1zM370 193h1v1h-1zM370 194h1v1h-1zM371 178h1v1h-1zM371 179h1v1h-1zM371 181h1v1h-1zM371 182h1v1h-1zM371 183h1v1h-1zM371 184h1v1h-1zM371 185h1v1h-1zM371 186h1v1h-1zM371 187h1v1h-1zM371 188h1v1h-1zM371 189h1v1h-1zM371 190h1v1h-1zM371 191h1v1h-1zM371 192h1v1h-1zM371 193h1v1h-1zM372 177h1v1h-1zM372 178h1v1h-1zM372 180h1v1h-1zM372 181h1v1h-1zM372 182h1v1h-1zM372 183h1v1h-1zM372 184h1v1h-1zM372 185h1v1h-1zM372 186h1v1h-1zM372 187h1v1h-1zM372 188h1v1h-1zM372 189h1v1h-1zM373 179h1v1h-1zM373 180h1v1h-1zM373 185h1v1h-1zM373 187h1v1h-1zM373 188h1v1h-1zM373 190h1v1h-1zM373 191h1v1h-1zM373 192h1v1h-1zM374 182h1v1h-1zM374 183h1v1h-1zM374 184h1v1h-1zM374 186h1v1h-1zM374 187h1v1h-1zM374 188h1v1h-1zM374 189h1v1h-1zM374 192h1v1h-1zM375 181h1v1h-1zM375 183h1v1h-1zM375 186h1v1h-1zM375 188h1v1h-1zM375 189h1v1h-1zM375 191h1v1h-1zM375 192h1v1h-1zM376 182h1v1h-1zM376 184h1v1h-1zM376 187h1v1h-1zM376 188h1v1h-1zM376 191h1v1h-1zM377 181h1v1h-1zM377 182h1v1h-1zM377 184h1v1h-1zM377 185h1v1h-1zM378 183h1v1h-1z" fill="#d84848" opacity="0.8"/>
<ellipse cx="366.0" cy="186.0" rx="8.8" ry="7.5" fill="#d01a1a" opacity="0.9" transform="rotate(0 366.0 186.0)" filter="url(#b3)"/>
<ellipse cx="357.0" cy="177.0" rx="10.5" ry="5.0" fill="#6a75b8" opacity="0.3" transform="rotate(0 357.0 177.0)" filter="url(#b2)"/>
<path d="M344 176h1v1h-1zM344 177h1v1h-1zM345 174h1v1h-1zM345 177h1v1h-1zM346 174h1v1h-1zM346 175h1v1h-1zM346 176h1v1h-1zM346 177h1v1h-1zM346 178h1v1h-1zM347 172h1v1h-1zM347 174h1v1h-1zM347 175h1v1h-1zM347 176h1v1h-1zM347 177h1v1h-1zM347 178h1v1h-1zM347 179h1v1h-1zM347 180h1v1h-1zM348 173h1v1h-1zM348 174h1v1h-1zM348 175h1v1h-1zM348 177h1v1h-1zM348 178h1v1h-1zM348 180h1v1h-1zM348 181h1v1h-1zM349 174h1v1h-1zM349 175h1v1h-1zM349 177h1v1h-1zM349 178h1v1h-1zM349 179h1v1h-1zM350 172h1v1h-1zM350 174h1v1h-1zM350 175h1v1h-1zM350 177h1v1h-1zM350 178h1v1h-1zM350 179h1v1h-1zM350 180h1v1h-1zM351 172h1v1h-1zM351 173h1v1h-1zM351 174h1v1h-1zM351 175h1v1h-1zM351 176h1v1h-1zM351 177h1v1h-1zM351 178h1v1h-1zM351 179h1v1h-1zM351 181h1v1h-1zM352 173h1v1h-1zM352 174h1v1h-1zM352 175h1v1h-1zM352 177h1v1h-1zM352 178h1v1h-1zM352 179h1v1h-1zM352 180h1v1h-1zM352 181h1v1h-1zM353 172h1v1h-1zM353 173h1v1h-1zM353 174h1v1h-1zM353 175h1v1h-1zM353 176h1v1h-1zM353 177h1v1h-1zM353 178h1v1h-1zM353 179h1v1h-1zM354 171h1v1h-1zM354 174h1v1h-1zM354 175h1v1h-1zM354 176h1v1h-1zM354 177h1v1h-1zM354 178h1v1h-1zM355 171h1v1h-1zM355 173h1v1h-1zM355 174h1v1h-1zM355 175h1v1h-1zM355 176h1v1h-1zM355 177h1v1h-1zM355 179h1v1h-1zM355 180h1v1h-1zM355 181h1v1h-1zM356 173h1v1h-1zM356 174h1v1h-1zM356 175h1v1h-1zM356 176h1v1h-1zM356 177h1v1h-1zM356 178h1v1h-1zM356 180h1v1h-1zM356 181h1v1h-1zM356 182h1v1h-1zM357 172h1v1h-1zM357 173h1v1h-1zM357 174h1v1h-1zM357 175h1v1h-1zM357 176h1v1h-1zM357 177h1v1h-1zM357 181h1v1h-1zM358 172h1v1h-1zM358 173h1v1h-1zM358 174h1v1h-1zM358 175h1v1h-1zM358 177h1v1h-1zM358 179h1v1h-1zM358 180h1v1h-1zM358 182h1v1h-1zM359 171h1v1h-1zM359 172h1v1h-1zM359 173h1v1h-1zM359 175h1v1h-1zM359 176h1v1h-1zM359 178h1v1h-1zM359 180h1v1h-1zM359 181h1v1h-1zM359 182h1v1h-1zM360 174h1v1h-1zM360 175h1v1h-1zM360 176h1v1h-1zM360 177h1v1h-1zM360 179h1v1h-1zM360 181h1v1h-1zM361 172h1v1h-1zM361 173h1v1h-1zM361 174h1v1h-1zM361 175h1v1h-1zM361 177h1v1h-1zM361 178h1v1h-1zM361 180h1v1h-1zM361 181h1v1h-1zM362 172h1v1h-1zM362 173h1v1h-1zM362 174h1v1h-1zM362 175h1v1h-1zM362 176h1v1h-1zM362 177h1v1h-1zM362 178h1v1h-1zM362 180h1v1h-1zM362 182h1v1h-1zM363 173h1v1h-1zM363 174h1v1h-1zM363 175h1v1h-1zM363 177h1v1h-1zM363 178h1v1h-1zM363 179h1v1h-1zM363 180h1v1h-1zM364 173h1v1h-1zM364 176h1v1h-1zM364 177h1v1h-1zM364 178h1v1h-1zM364 179h1v1h-1zM364 180h1v1h-1zM365 173h1v1h-1zM365 177h1v1h-1zM365 178h1v1h-1zM365 179h1v1h-1zM366 173h1v1h-1zM366 174h1v1h-1zM366 176h1v1h-1zM367 175h1v1h-1zM367 177h1v1h-1zM367 180h1v1h-1zM368 174h1v1h-1zM368 178h1v1h-1zM369 175h1v1h-1zM369 177h1v1h-1z" fill="#6a75b8" opacity="0.8"/>
<ellipse cx="357.0" cy="177.0" rx="9.2" ry="4.4" fill="#3d4ba0" opacity="1.0" transform="rotate(0 357.0 177.0)" filter="url(#b3)"/>
<ellipse cx="353.0" cy="187.0" rx="6.0" ry="8.0" fill="#6a75b8" opacity="0.3" transform="rotate(10 353.0 187.0)" filter="url(#b2)"/>
<path d="M346 185h1v1h-1zM346 186h1v1h-1zM346 188h1v1h-1zM346 189h1v1h-1zM346 191h1v1h-1zM346 196h1v1h-1zM347 183h1v1h-1zM347 186h1v1h-1zM347 187h1v1h-1zM347 188h1v1h-1zM347 189h1v1h-1zM347 190h1v1h-1zM347 191h1v1h-1zM347 192h1v1h-1zM348 180h1v1h-1zM348 181h1v1h-1zM348 182h1v1h-1zM348 183h1v1h-1zM348 185h1v1h-1zM348 186h1v1h-1zM348 187h1v1h-1zM348 188h1v1h-1zM348 190h1v1h-1zM348 191h1v1h-1zM348 192h1v1h-1zM349 179h1v1h-1zM349 180h1v1h-1zM349 181h1v1h-1zM349 182h1v1h-1zM349 183h1v1h-1zM349 184h1v1h-1zM349 186h1v1h-1zM349 187h1v1h-1zM349 188h1v1h-1zM349 189h1v1h-1zM349 190h1v1h-1zM349 191h1v1h-1zM349 192h1v1h-1zM349 193h1v1h-1zM350 180h1v1h-1zM350 181h1v1h-1zM350 182h1v1h-1zM350 183h1v1h-1zM350 184h1v1h-1zM350 185h1v1h-1zM350 186h1v1h-1zM350 187h1v1h-1zM350 188h1v1h-1zM350 189h1v1h-1zM350 190h1v1h-1zM350 191h1v1h-1zM350 192h1v1h-1zM350 193h1v1h-1zM351 178h1v1h-1zM351 181h1v1h-1zM351 182h1v1h-1zM351 183h1v1h-1zM351 184h1v1h-1zM351 185h1v1h-1zM351 186h1v1h-1zM351 187h1v1h-1zM351 188h1v1h-1zM351 189h1v1h-1zM351 190h1v1h-1zM351 191h1v1h-1zM351 192h1v1h-1zM351 194h1v1h-1zM352 179h1v1h-1zM352 180h1v1h-1zM352 181h1v1h-1zM352 182h1v1h-1zM352 183h1v1h-1zM352 184h1v1h-1zM352 185h1v1h-1zM352 186h1v1h-1zM352 187h1v1h-1zM352 188h1v1h-1zM352 190h1v1h-1zM352 191h1v1h-1zM352 193h1v1h-1zM352 194h1v1h-1zM352 195h1v1h-1zM353 177h1v1h-1zM353 178h1v1h-1zM353 180h1v1h-1zM353 181h1v1h-1zM353 182h1v1h-1zM353 183h1v1h-1zM353 184h1v1h-1zM353 185h1v1h-1zM353 186h1v1h-1zM353 187h1v1h-1zM353 188h1v1h-1zM353 189h1v1h-1zM353 190h1v1h-1zM353 191h1v1h-1zM353 193h1v1h-1zM354 178h1v1h-1zM354 179h1v1h-1zM354 180h1v1h-1zM354 182h1v1h-1zM354 183h1v1h-1zM354 184h1v1h-1zM354 185h1v1h-1zM354 186h1v1h-1zM354 187h1v1h-1zM354 188h1v1h-1zM354 189h1v1h-1zM354 192h1v1h-1zM354 193h1v1h-1zM354 194h1v1h-1zM354 195h1v1h-1zM355 179h1v1h-1zM355 180h1v1h-1zM355 181h1v1h-1zM355 182h1v1h-1zM355 183h1v1h-1zM355 184h1v1h-1zM355 185h1v1h-1zM355 186h1v1h-1zM355 187h1v1h-1zM355 188h1v1h-1zM355 189h1v1h-1zM355 191h1v1h-1zM356 179h1v1h-1zM356 180h1v1h-1zM356 181h1v1h-1zM356 182h1v1h-1zM356 183h1v1h-1zM356 184h1v1h-1zM356 186h1v1h-1zM356 189h1v1h-1zM356 190h1v1h-1zM356 193h1v1h-1zM356 195h1v1h-1zM357 179h1v1h-1zM357 181h1v1h-1zM357 182h1v1h-1zM357 183h1v1h-1zM357 185h1v1h-1zM357 186h1v1h-1zM357 188h1v1h-1zM357 189h1v1h-1zM357 190h1v1h-1zM357 194h1v1h-1zM358 179h1v1h-1zM358 180h1v1h-1zM358 182h1v1h-1zM358 183h1v1h-1zM358 185h1v1h-1zM358 186h1v1h-1zM358 189h1v1h-1zM358 191h1v1h-1zM359 185h1v1h-1zM359 186h1v1h-1zM359 189h1v1h-1z" fill="#6a75b8" opacity="0.8"/>
<ellipse cx="353.0" cy="187.0" rx="5.3" ry="7.0" fill="#3d4ba0" opacity="0.9" transform="rotate(10 353.0 187.0)" filter="url(#b3)"/>
<ellipse cx="385.2" cy="184.8" rx="11.0" ry="6.5" fill="#d84848" opacity="0.3" transform="rotate(-20 385.2 184.8)" filter="url(#b2)"/>
<path d="M371 187h1v1h-1zM372 185h1v1h-1zM372 186h1v1h-1zM373 183h1v1h-1zM373 188h1v1h-1zM374 181h1v1h-1zM374 184h1v1h-1zM374 186h1v1h-1zM374 188h1v1h-1zM374 189h1v1h-1zM375 184h1v1h-1zM375 186h1v1h-1zM375 188h1v1h-1zM375 191h1v1h-1zM375 192h1v1h-1zM376 181h1v1h-1zM376 182h1v1h-1zM376 183h1v1h-1zM376 184h1v1h-1zM376 185h1v1h-1zM376 186h1v1h-1zM376 187h1v1h-1zM376 188h1v1h-1zM376 189h1v1h-1zM376 190h1v1h-1zM377 180h1v1h-1zM377 181h1v1h-1zM377 183h1v1h-1zM377 184h1v1h-1zM377 185h1v1h-1zM377 186h1v1h-1zM377 187h1v1h-1zM377 189h1v1h-1zM377 191h1v1h-1zM378 179h1v1h-1zM378 180h1v1h-1zM378 181h1v1h-1zM378 182h1v1h-1zM378 183h1v1h-1zM378 184h1v1h-1zM378 186h1v1h-1zM378 187h1v1h-1zM378 188h1v1h-1zM378 189h1v1h-1zM378 190h1v1h-1zM378 192h1v1h-1zM378 193h1v1h-1zM379 179h1v1h-1zM379 180h1v1h-1zM379 181h1v1h-1zM379 182h1v1h-1zM379 183h1v1h-1zM379 184h1v1h-1zM379 185h1v1h-1zM379 187h1v1h-1zM379 188h1v1h-1zM379 191h1v1h-1zM380 180h1v1h-1zM380 181h1v1h-1zM380 182h1v1h-1zM380 183h1v1h-1zM380 184h1v1h-1zM380 185h1v1h-1zM380 186h1v1h-1zM380 188h1v1h-1zM380 189h1v1h-1zM380 190h1v1h-1zM380 191h1v1h-1zM380 192h1v1h-1zM381 178h1v1h-1zM381 180h1v1h-1zM381 181h1v1h-1zM381 182h1v1h-1zM381 184h1v1h-1zM381 185h1v1h-1zM381 189h1v1h-1zM381 190h1v1h-1zM381 191h1v1h-1zM381 192h1v1h-1zM382 179h1v1h-1zM382 180h1v1h-1zM382 181h1v1h-1zM382 184h1v1h-1zM382 185h1v1h-1zM382 186h1v1h-1zM382 187h1v1h-1zM382 188h1v1h-1zM382 190h1v1h-1zM382 191h1v1h-1zM383 178h1v1h-1zM383 180h1v1h-1zM383 181h1v1h-1zM383 182h1v1h-1zM383 183h1v1h-1zM383 184h1v1h-1zM383 186h1v1h-1zM383 187h1v1h-1zM383 188h1v1h-1zM383 189h1v1h-1zM383 191h1v1h-1zM384 177h1v1h-1zM384 179h1v1h-1zM384 180h1v1h-1zM384 182h1v1h-1zM384 183h1v1h-1zM384 184h1v1h-1zM384 185h1v1h-1zM384 186h1v1h-1zM384 187h1v1h-1zM384 188h1v1h-1zM384 189h1v1h-1zM384 190h1v1h-1zM384 191h1v1h-1zM385 178h1v1h-1zM385 179h1v1h-1zM385 180h1v1h-1zM385 182h1v1h-1zM385 183h1v1h-1zM385 185h1v1h-1zM385 187h1v1h-1zM385 189h1v1h-1zM385 191h1v1h-1zM386 177h1v1h-1zM386 178h1v1h-1zM386 179h1v1h-1zM386 180h1v1h-1zM386 181h1v1h-1zM386 187h1v1h-1zM386 188h1v1h-1zM386 189h1v1h-1zM387 178h1v1h-1zM387 179h1v1h-1zM387 180h1v1h-1zM387 184h1v1h-1zM387 185h1v1h-1zM387 186h1v1h-1zM387 187h1v1h-1zM387 188h1v1h-1zM387 189h1v1h-1zM387 190h1v1h-1zM387 191h1v1h-1zM388 177h1v1h-1zM388 178h1v1h-1zM388 179h1v1h-1zM388 180h1v1h-1zM388 181h1v1h-1zM388 183h1v1h-1zM388 184h1v1h-1zM388 185h1v1h-1zM388 186h1v1h-1zM388 187h1v1h-1zM388 188h1v1h-1zM388 189h1v1h-1zM388 190h1v1h-1zM388 191h1v1h-1zM389 176h1v1h-1zM389 179h1v1h-1zM389 180h1v1h-1zM389 182h1v1h-1zM389 183h1v1h-1zM389 184h1v1h-1zM389 185h1v1h-1zM389 186h1v1h-1zM389 187h1v1h-1zM389 188h1v1h-1zM390 177h1v1h-1zM390 178h1v1h-1zM390 179h1v1h-1zM390 180h1v1h-1zM390 181h1v1h-1zM390 182h1v1h-1zM390 183h1v1h-1zM390 187h1v1h-1zM390 188h1v1h-1zM390 189h1v1h-1zM390 190h1v1h-1zM391 177h1v1h-1zM391 178h1v1h-1zM391 179h1v1h-1zM391 182h1v1h-1zM391 183h1v1h-1zM391 184h1v1h-1zM391 185h1v1h-1zM391 186h1v1h-1zM391 187h1v1h-1zM391 188h1v1h-1zM391 189h1v1h-1zM392 178h1v1h-1zM392 179h1v1h-1zM392 181h1v1h-1zM392 182h1v1h-1zM392 183h1v1h-1zM392 184h1v1h-1zM392 185h1v1h-1zM392 186h1v1h-1zM392 187h1v1h-1zM392 188h1v1h-1zM393 178h1v1h-1zM393 180h1v1h-1zM393 181h1v1h-1zM393 182h1v1h-1zM393 183h1v1h-1zM393 184h1v1h-1zM393 185h1v1h-1zM393 186h1v1h-1zM393 187h1v1h-1zM394 178h1v1h-1zM394 179h1v1h-1zM394 180h1v1h-1zM394 181h1v1h-1zM394 183h1v1h-1zM394 184h1v1h-1zM394 185h1v1h-1zM395 177h1v1h-1zM395 179h1v1h-1zM395 180h1v1h-1zM395 181h1v1h-1zM395 183h1v1h-1zM395 184h1v1h-1zM396 180h1v1h-1zM396 183h1v1h-1zM396 185h1v1h-1zM397 179h1v1h-1z" fill="#d84848" opacity="0.8"/>
<ellipse cx="385.2" cy="184.8" rx="9.7" ry="5.7" fill="#d01a1a" opacity="1.0" transform="rotate(-20 385.2 184.8)" filter="url(#b3)"/>
<ellipse cx="385.5" cy="184.6" rx="13.2" ry="8.2" fill="none" stroke="#111" stroke-width="1.15" stroke-dasharray="0.9 1.15" transform="rotate(-20 385.5 184.6)"/>
<path d="M442 176h1v1h-1zM442 189h1v1h-1zM442 194h1v1h-1zM443 179h1v1h-1zM443 183h1v1h-1zM443 187h1v1h-1zM443 191h1v1h-1zM444 163h1v1h-1zM444 181h1v1h-1zM444 186h1v1h-1zM445 186h1v1h-1zM445 188h1v1h-1zM445 189h1v1h-1zM446 182h1v1h-1zM446 195h1v1h-1zM446 202h1v1h-1zM447 177h1v1h-1zM447 178h1v1h-1zM447 183h1v1h-1zM447 184h1v1h-1zM447 191h1v1h-1zM447 194h1v1h-1zM448 181h1v1h-1zM448 188h1v1h-1zM449 172h1v1h-1zM449 180h1v1h-1zM449 182h1v1h-1zM449 188h1v1h-1zM449 193h1v1h-1zM449 199h1v1h-1zM449 202h1v1h-1zM450 175h1v1h-1zM450 182h1v1h-1zM450 185h1v1h-1zM450 187h1v1h-1zM450 194h1v1h-1zM451 179h1v1h-1zM451 184h1v1h-1zM451 186h1v1h-1zM451 188h1v1h-1zM451 194h1v1h-1zM451 198h1v1h-1zM451 202h1v1h-1zM451 207h1v1h-1zM452 177h1v1h-1zM452 180h1v1h-1zM452 185h1v1h-1zM452 188h1v1h-1zM452 192h1v1h-1zM452 194h1v1h-1zM453 173h1v1h-1zM453 176h1v1h-1zM453 182h1v1h-1zM453 189h1v1h-1zM453 196h1v1h-1zM454 173h1v1h-1zM454 174h1v1h-1zM454 177h1v1h-1zM454 178h1v1h-1zM454 181h1v1h-1zM454 184h1v1h-1zM454 187h1v1h-1zM454 192h1v1h-1zM454 193h1v1h-1zM454 194h1v1h-1zM454 197h1v1h-1zM454 202h1v1h-1zM455 173h1v1h-1zM455 175h1v1h-1zM455 179h1v1h-1zM455 180h1v1h-1zM455 182h1v1h-1zM455 185h1v1h-1zM455 189h1v1h-1zM455 194h1v1h-1zM455 199h1v1h-1zM456 173h1v1h-1zM456 174h1v1h-1zM456 175h1v1h-1zM456 178h1v1h-1zM456 181h1v1h-1zM456 188h1v1h-1zM456 189h1v1h-1zM456 202h1v1h-1zM456 206h1v1h-1zM457 174h1v1h-1zM457 176h1v1h-1zM457 177h1v1h-1zM457 180h1v1h-1zM457 187h1v1h-1zM457 195h1v1h-1zM458 168h1v1h-1zM458 173h1v1h-1zM458 176h1v1h-1zM458 177h1v1h-1zM458 178h1v1h-1zM458 179h1v1h-1zM458 181h1v1h-1zM458 183h1v1h-1zM458 184h1v1h-1zM458 186h1v1h-1zM458 188h1v1h-1zM458 195h1v1h-1zM458 199h1v1h-1zM459 170h1v1h-1zM459 188h1v1h-1zM459 190h1v1h-1zM459 193h1v1h-1zM460 171h1v1h-1zM460 175h1v1h-1zM460 180h1v1h-1zM460 181h1v1h-1zM460 184h1v1h-1zM460 185h1v1h-1zM460 186h1v1h-1zM460 188h1v1h-1zM460 189h1v1h-1zM460 197h1v1h-1zM461 172h1v1h-1zM461 176h1v1h-1zM461 177h1v1h-1zM461 178h1v1h-1zM461 182h1v1h-1zM461 183h1v1h-1zM461 185h1v1h-1zM461 186h1v1h-1zM461 192h1v1h-1zM461 195h1v1h-1zM461 196h1v1h-1zM461 202h1v1h-1zM462 178h1v1h-1zM462 179h1v1h-1zM462 180h1v1h-1zM462 182h1v1h-1zM462 183h1v1h-1zM462 184h1v1h-1zM462 185h1v1h-1zM462 186h1v1h-1zM462 189h1v1h-1zM462 190h1v1h-1zM462 192h1v1h-1zM462 193h1v1h-1zM462 205h1v1h-1zM462 209h1v1h-1zM463 170h1v1h-1zM463 171h1v1h-1zM463 175h1v1h-1zM463 180h1v1h-1zM463 185h1v1h-1zM463 187h1v1h-1zM463 193h1v1h-1zM463 199h1v1h-1zM464 173h1v1h-1zM464 175h1v1h-1zM464 177h1v1h-1zM464 178h1v1h-1zM464 181h1v1h-1zM464 183h1v1h-1zM464 185h1v1h-1zM464 186h1v1h-1zM464 192h1v1h-1zM464 194h1v1h-1zM464 196h1v1h-1zM464 198h1v1h-1zM465 172h1v1h-1zM465 174h1v1h-1zM465 178h1v1h-1zM465 180h1v1h-1zM465 182h1v1h-1zM465 185h1v1h-1zM465 186h1v1h-1zM465 187h1v1h-1zM465 189h1v1h-1zM465 195h1v1h-1zM465 197h1v1h-1zM466 178h1v1h-1zM466 179h1v1h-1zM466 181h1v1h-1zM466 182h1v1h-1zM466 185h1v1h-1zM466 186h1v1h-1zM466 187h1v1h-1zM466 188h1v1h-1zM466 189h1v1h-1zM466 190h1v1h-1zM466 191h1v1h-1zM466 193h1v1h-1zM466 198h1v1h-1zM466 199h1v1h-1zM466 204h1v1h-1zM467 170h1v1h-1zM467 177h1v1h-1zM467 178h1v1h-1zM467 179h1v1h-1zM467 180h1v1h-1zM467 182h1v1h-1zM467 183h1v1h-1zM467 185h1v1h-1zM467 187h1v1h-1zM467 188h1v1h-1zM467 192h1v1h-1zM467 196h1v1h-1zM467 198h1v1h-1zM467 200h1v1h-1zM467 201h1v1h-1zM468 180h1v1h-1zM468 181h1v1h-1zM468 182h1v1h-1zM468 188h1v1h-1zM468 189h1v1h-1zM468 192h1v1h-1zM468 202h1v1h-1zM469 175h1v1h-1zM469 180h1v1h-1zM469 183h1v1h-1zM469 184h1v1h-1zM469 185h1v1h-1zM469 186h1v1h-1zM470 166h1v1h-1zM470 173h1v1h-1zM470 174h1v1h-1zM470 175h1v1h-1zM470 177h1v1h-1zM470 178h1v1h-1zM470 183h1v1h-1zM470 188h1v1h-1zM470 192h1v1h-1zM470 193h1v1h-1zM471 170h1v1h-1zM471 175h1v1h-1zM471 179h1v1h-1zM471 181h1v1h-1zM471 184h1v1h-1zM471 186h1v1h-1zM471 190h1v1h-1zM471 191h1v1h-1zM471 193h1v1h-1zM471 202h1v1h-1zM472 162h1v1h-1zM472 174h1v1h-1zM472 179h1v1h-1zM472 182h1v1h-1zM472 197h1v1h-1zM472 198h1v1h-1zM473 166h1v1h-1zM473 173h1v1h-1zM473 174h1v1h-1zM473 184h1v1h-1zM473 185h1v1h-1zM473 189h1v1h-1zM473 193h1v1h-1zM473 195h1v1h-1zM473 198h1v1h-1zM473 200h1v1h-1zM474 169h1v1h-1zM474 180h1v1h-1zM474 182h1v1h-1zM474 183h1v1h-1zM474 185h1v1h-1zM474 188h1v1h-1zM474 189h1v1h-1zM474 191h1v1h-1zM474 192h1v1h-1zM474 198h1v1h-1zM475 166h1v1h-1zM475 180h1v1h-1zM475 183h1v1h-1zM475 186h1v1h-1zM475 187h1v1h-1zM475 192h1v1h-1zM475 193h1v1h-1zM475 199h1v1h-1zM475 207h1v1h-1zM476 173h1v1h-1zM476 180h1v1h-1zM476 190h1v1h-1zM476 193h1v1h-1zM477 172h1v1h-1zM477 173h1v1h-1zM477 176h1v1h-1zM477 182h1v1h-1zM477 186h1v1h-1zM477 187h1v1h-1zM477 189h1v1h-1zM477 191h1v1h-1zM477 192h1v1h-1zM478 182h1v1h-1zM478 187h1v1h-1zM478 191h1v1h-1zM478 192h1v1h-1zM478 201h1v1h-1zM479 186h1v1h-1zM479 192h1v1h-1zM479 195h1v1h-1zM480 177h1v1h-1zM480 179h1v1h-1zM480 190h1v1h-1zM480 197h1v1h-1zM481 175h1v1h-1zM481 179h1v1h-1zM481 180h1v1h-1zM481 187h1v1h-1zM481 193h1v1h-1zM481 197h1v1h-1zM481 207h1v1h-1zM482 181h1v1h-1zM482 186h1v1h-1zM482 199h1v1h-1zM483 175h1v1h-1zM483 176h1v1h-1zM483 181h1v1h-1zM483 183h1v1h-1zM483 193h1v1h-1zM483 195h1v1h-1zM484 169h1v1h-1zM484 182h1v1h-1zM484 194h1v1h-1zM486 177h1v1h-1zM487 170h1v1h-1zM488 196h1v1h-1zM489 188h1v1h-1zM489 194h1v1h-1zM491 181h1v1h-1zM492 189h1v1h-1zM493 191h1v1h-1zM494 193h1v1h-1zM495 199h1v1h-1z" fill="#d84848" opacity="0.3"/>
<ellipse cx="463.0" cy="176.0" rx="13.0" ry="7.5" fill="#d84848" opacity="0.3" transform="rotate(0 463.0 176.0)" filter="url(#b2)"/>
<path d="M446 175h1v1h-1zM446 176h1v1h-1zM446 177h1v1h-1zM447 176h1v1h-1zM448 175h1v1h-1zM448 176h1v1h-1zM448 178h1v1h-1zM448 179h1v1h-1zM449 174h1v1h-1zM449 175h1v1h-1zM449 176h1v1h-1zM449 177h1v1h-1zM450 171h1v1h-1zM450 173h1v1h-1zM450 176h1v1h-1zM450 177h1v1h-1zM450 178h1v1h-1zM451 171h1v1h-1zM451 172h1v1h-1zM451 174h1v1h-1zM451 175h1v1h-1zM451 176h1v1h-1zM451 177h1v1h-1zM451 178h1v1h-1zM451 180h1v1h-1zM452 167h1v1h-1zM452 172h1v1h-1zM452 173h1v1h-1zM452 174h1v1h-1zM452 175h1v1h-1zM452 176h1v1h-1zM452 177h1v1h-1zM452 178h1v1h-1zM452 179h1v1h-1zM452 180h1v1h-1zM452 183h1v1h-1zM453 170h1v1h-1zM453 171h1v1h-1zM453 172h1v1h-1zM453 173h1v1h-1zM453 174h1v1h-1zM453 175h1v1h-1zM453 176h1v1h-1zM453 177h1v1h-1zM453 178h1v1h-1zM453 179h1v1h-1zM454 168h1v1h-1zM454 169h1v1h-1zM454 170h1v1h-1zM454 171h1v1h-1zM454 172h1v1h-1zM454 173h1v1h-1zM454 174h1v1h-1zM454 175h1v1h-1zM454 176h1v1h-1zM454 177h1v1h-1zM454 178h1v1h-1zM454 179h1v1h-1zM454 181h1v1h-1zM455 170h1v1h-1zM455 171h1v1h-1zM455 172h1v1h-1zM455 175h1v1h-1zM455 176h1v1h-1zM455 178h1v1h-1zM455 179h1v1h-1zM455 180h1v1h-1zM455 181h1v1h-1zM456 167h1v1h-1zM456 168h1v1h-1zM456 169h1v1h-1zM456 170h1v1h-1zM456 172h1v1h-1zM456 173h1v1h-1zM456 174h1v1h-1zM456 176h1v1h-1zM456 179h1v1h-1zM456 180h1v1h-1zM456 181h1v1h-1zM457 168h1v1h-1zM457 169h1v1h-1zM457 170h1v1h-1zM457 172h1v1h-1zM457 173h1v1h-1zM457 174h1v1h-1zM457 175h1v1h-1zM457 176h1v1h-1zM457 177h1v1h-1zM457 178h1v1h-1zM457 179h1v1h-1zM457 181h1v1h-1zM457 182h1v1h-1zM457 184h1v1h-1zM458 169h1v1h-1zM458 170h1v1h-1zM458 171h1v1h-1zM458 172h1v1h-1zM458 173h1v1h-1zM458 176h1v1h-1zM458 177h1v1h-1zM458 178h1v1h-1zM458 179h1v1h-1zM458 181h1v1h-1zM458 182h1v1h-1zM458 183h1v1h-1zM459 169h1v1h-1zM459 170h1v1h-1zM459 172h1v1h-1zM459 173h1v1h-1zM459 174h1v1h-1zM459 175h1v1h-1zM459 176h1v1h-1zM459 177h1v1h-1zM459 178h1v1h-1zM459 180h1v1h-1zM459 181h1v1h-1zM459 182h1v1h-1zM459 184h1v1h-1zM460 170h1v1h-1zM460 171h1v1h-1zM460 172h1v1h-1zM460 173h1v1h-1zM460 175h1v1h-1zM460 176h1v1h-1zM460 177h1v1h-1zM460 178h1v1h-1zM460 179h1v1h-1zM460 180h1v1h-1zM460 181h1v1h-1zM460 182h1v1h-1zM460 183h1v1h-1zM460 184h1v1h-1zM461 169h1v1h-1zM461 171h1v1h-1zM461 174h1v1h-1zM461 175h1v1h-1zM461 176h1v1h-1zM461 177h1v1h-1zM461 178h1v1h-1zM461 179h1v1h-1zM461 181h1v1h-1zM461 182h1v1h-1zM462 168h1v1h-1zM462 170h1v1h-1zM462 171h1v1h-1zM462 172h1v1h-1zM462 173h1v1h-1zM462 174h1v1h-1zM462 176h1v1h-1zM462 177h1v1h-1zM462 178h1v1h-1zM462 179h1v1h-1zM462 180h1v1h-1zM462 181h1v1h-1zM462 183h1v1h-1zM462 184h1v1h-1zM463 167h1v1h-1zM463 168h1v1h-1zM463 169h1v1h-1zM463 170h1v1h-1zM463 172h1v1h-1zM463 173h1v1h-1zM463 174h1v1h-1zM463 176h1v1h-1zM463 177h1v1h-1zM463 178h1v1h-1zM463 179h1v1h-1zM463 180h1v1h-1zM463 181h1v1h-1zM463 182h1v1h-1zM463 185h1v1h-1zM464 167h1v1h-1zM464 169h1v1h-1zM464 170h1v1h-1zM464 171h1v1h-1zM464 173h1v1h-1zM464 174h1v1h-1zM464 175h1v1h-1zM464 176h1v1h-1zM464 178h1v1h-1zM464 180h1v1h-1zM464 181h1v1h-1zM464 183h1v1h-1zM465 167h1v1h-1zM465 169h1v1h-1zM465 170h1v1h-1zM465 172h1v1h-1zM465 173h1v1h-1zM465 174h1v1h-1zM465 175h1v1h-1zM465 176h1v1h-1zM465 178h1v1h-1zM465 179h1v1h-1zM465 180h1v1h-1zM465 182h1v1h-1zM465 183h1v1h-1zM466 168h1v1h-1zM466 169h1v1h-1zM466 170h1v1h-1zM466 172h1v1h-1zM466 173h1v1h-1zM466 176h1v1h-1zM466 177h1v1h-1zM466 178h1v1h-1zM466 179h1v1h-1zM466 180h1v1h-1zM466 181h1v1h-1zM466 182h1v1h-1zM467 167h1v1h-1zM467 168h1v1h-1zM467 169h1v1h-1zM467 171h1v1h-1zM467 173h1v1h-1zM467 174h1v1h-1zM467 175h1v1h-1zM467 176h1v1h-1zM467 177h1v1h-1zM467 179h1v1h-1zM467 180h1v1h-1zM467 181h1v1h-1zM467 182h1v1h-1zM467 183h1v1h-1zM468 172h1v1h-1zM468 173h1v1h-1zM468 174h1v1h-1zM468 175h1v1h-1zM468 176h1v1h-1zM468 177h1v1h-1zM468 178h1v1h-1zM468 180h1v1h-1zM468 182h1v1h-1zM468 183h1v1h-1zM468 184h1v1h-1zM469 167h1v1h-1zM469 170h1v1h-1zM469 171h1v1h-1zM469 172h1v1h-1zM469 174h1v1h-1zM469 175h1v1h-1zM469 176h1v1h-1zM469 177h1v1h-1zM469 178h1v1h-1zM469 179h1v1h-1zM469 180h1v1h-1zM469 181h1v1h-1zM470 170h1v1h-1zM470 171h1v1h-1zM470 172h1v1h-1zM470 173h1v1h-1zM470 174h1v1h-1zM470 176h1v1h-1zM470 177h1v1h-1zM470 178h1v1h-1zM470 179h1v1h-1zM470 180h1v1h-1zM470 181h1v1h-1zM470 182h1v1h-1zM471 168h1v1h-1zM471 169h1v1h-1zM471 171h1v1h-1zM471 172h1v1h-1zM471 173h1v1h-1zM471 174h1v1h-1zM471 175h1v1h-1zM471 176h1v1h-1zM471 177h1v1h-1zM471 181h1v1h-1zM472 169h1v1h-1zM472 170h1v1h-1zM472 171h1v1h-1zM472 172h1v1h-1zM472 173h1v1h-1zM472 174h1v1h-1zM472 175h1v1h-1zM472 176h1v1h-1zM472 177h1v1h-1zM472 179h1v1h-1zM472 180h1v1h-1zM472 181h1v1h-1zM473 171h1v1h-1zM473 172h1v1h-1zM473 173h1v1h-1zM473 174h1v1h-1zM473 175h1v1h-1zM473 176h1v1h-1zM473 177h1v1h-1zM473 178h1v1h-1zM473 179h1v1h-1zM473 180h1v1h-1zM474 170h1v1h-1zM474 172h1v1h-1zM474 174h1v1h-1zM474 175h1v1h-1zM474 176h1v1h-1zM475 172h1v1h-1zM475 174h1v1h-1zM475 175h1v1h-1zM475 178h1v1h-1zM475 179h1v1h-1zM476 170h1v1h-1zM476 174h1v1h-1zM476 175h1v1h-1zM476 177h1v1h-1zM476 178h1v1h-1zM476 179h1v1h-1zM477 178h1v1h-1zM478 173h1v1h-1zM478 182h1v1h-1zM479 175h1v1h-1zM479 178h1v1h-1z" fill="#d84848" opacity="0.8"/>
<ellipse cx="463.0" cy="176.0" rx="11.4" ry="6.6" fill="#d01a1a" opacity="1.0" transform="rotate(0 463.0 176.0)" filter="url(#b3)"/>
<ellipse cx="457.0" cy="175.5" rx="9.0" ry="5.5" fill="#6a75b8" opacity="0.3" transform="rotate(0 457.0 175.5)" filter="url(#b2)"/>
<path d="M446 174h1v1h-1zM447 170h1v1h-1zM447 175h1v1h-1zM447 179h1v1h-1zM448 172h1v1h-1zM448 173h1v1h-1zM448 175h1v1h-1zM448 176h1v1h-1zM448 177h1v1h-1zM448 178h1v1h-1zM449 171h1v1h-1zM449 173h1v1h-1zM449 175h1v1h-1zM449 176h1v1h-1zM449 178h1v1h-1zM450 171h1v1h-1zM450 173h1v1h-1zM450 174h1v1h-1zM450 175h1v1h-1zM450 176h1v1h-1zM450 177h1v1h-1zM450 178h1v1h-1zM450 179h1v1h-1zM451 171h1v1h-1zM451 172h1v1h-1zM451 173h1v1h-1zM451 174h1v1h-1zM451 175h1v1h-1zM451 176h1v1h-1zM451 177h1v1h-1zM451 178h1v1h-1zM451 179h1v1h-1zM452 169h1v1h-1zM452 170h1v1h-1zM452 171h1v1h-1zM452 172h1v1h-1zM452 173h1v1h-1zM452 175h1v1h-1zM452 176h1v1h-1zM452 177h1v1h-1zM452 178h1v1h-1zM452 179h1v1h-1zM452 180h1v1h-1zM453 170h1v1h-1zM453 171h1v1h-1zM453 172h1v1h-1zM453 173h1v1h-1zM453 174h1v1h-1zM453 175h1v1h-1zM453 176h1v1h-1zM453 179h1v1h-1zM454 169h1v1h-1zM454 171h1v1h-1zM454 173h1v1h-1zM454 174h1v1h-1zM454 175h1v1h-1zM454 177h1v1h-1zM454 178h1v1h-1zM454 181h1v1h-1zM455 169h1v1h-1zM455 171h1v1h-1zM455 174h1v1h-1zM455 176h1v1h-1zM455 177h1v1h-1zM455 178h1v1h-1zM455 180h1v1h-1zM455 181h1v1h-1zM456 169h1v1h-1zM456 170h1v1h-1zM456 171h1v1h-1zM456 173h1v1h-1zM456 174h1v1h-1zM456 175h1v1h-1zM456 176h1v1h-1zM456 178h1v1h-1zM456 179h1v1h-1zM456 180h1v1h-1zM457 169h1v1h-1zM457 170h1v1h-1zM457 171h1v1h-1zM457 173h1v1h-1zM457 174h1v1h-1zM457 175h1v1h-1zM457 176h1v1h-1zM457 177h1v1h-1zM457 178h1v1h-1zM457 179h1v1h-1zM457 180h1v1h-1zM457 181h1v1h-1zM458 169h1v1h-1zM458 170h1v1h-1zM458 171h1v1h-1zM458 172h1v1h-1zM458 173h1v1h-1zM458 174h1v1h-1zM458 175h1v1h-1zM458 176h1v1h-1zM458 177h1v1h-1zM458 178h1v1h-1zM459 170h1v1h-1zM459 172h1v1h-1zM459 173h1v1h-1zM459 175h1v1h-1zM459 176h1v1h-1zM459 177h1v1h-1zM459 178h1v1h-1zM459 179h1v1h-1zM459 180h1v1h-1zM459 182h1v1h-1zM460 170h1v1h-1zM460 171h1v1h-1zM460 172h1v1h-1zM460 174h1v1h-1zM460 175h1v1h-1zM460 177h1v1h-1zM460 178h1v1h-1zM460 179h1v1h-1zM460 180h1v1h-1zM461 171h1v1h-1zM461 173h1v1h-1zM461 175h1v1h-1zM461 177h1v1h-1zM461 178h1v1h-1zM461 179h1v1h-1zM461 180h1v1h-1zM462 170h1v1h-1zM462 172h1v1h-1zM462 173h1v1h-1zM462 175h1v1h-1zM462 176h1v1h-1zM462 177h1v1h-1zM462 179h1v1h-1zM463 172h1v1h-1zM463 173h1v1h-1zM463 174h1v1h-1zM463 176h1v1h-1zM463 177h1v1h-1zM463 178h1v1h-1zM463 179h1v1h-1zM463 180h1v1h-1zM464 176h1v1h-1zM464 177h1v1h-1zM464 178h1v1h-1zM465 173h1v1h-1zM465 174h1v1h-1zM465 176h1v1h-1zM466 174h1v1h-1zM466 175h1v1h-1zM467 176h1v1h-1zM467 178h1v1h-1zM468 173h1v1h-1z" fill="#6a75b8" opacity="0.8"/>
<ellipse cx="457.0" cy="175.5" rx="7.9" ry="4.8" fill="#3d4ba0" opacity="0.85" transform="rotate(0 457.0 175.5)" filter="url(#b3)"/>
<ellipse cx="456.0" cy="190.0" rx="9.0" ry="6.0" fill="#6a75b8" opacity="0.3" transform="rotate(0 456.0 190.0)" filter="url(#b2)"/>
<path d="M445 190h1v1h-1zM445 191h1v1h-1zM446 186h1v1h-1zM446 188h1v1h-1zM446 191h1v1h-1zM446 192h1v1h-1zM447 186h1v1h-1zM447 188h1v1h-1zM447 190h1v1h-1zM447 191h1v1h-1zM448 186h1v1h-1zM448 187h1v1h-1zM448 188h1v1h-1zM448 190h1v1h-1zM448 191h1v1h-1zM448 192h1v1h-1zM449 185h1v1h-1zM449 186h1v1h-1zM449 187h1v1h-1zM449 188h1v1h-1zM449 189h1v1h-1zM449 190h1v1h-1zM449 191h1v1h-1zM449 192h1v1h-1zM450 184h1v1h-1zM450 185h1v1h-1zM450 188h1v1h-1zM450 189h1v1h-1zM450 190h1v1h-1zM450 191h1v1h-1zM450 192h1v1h-1zM450 193h1v1h-1zM450 194h1v1h-1zM451 184h1v1h-1zM451 185h1v1h-1zM451 187h1v1h-1zM451 188h1v1h-1zM451 189h1v1h-1zM451 190h1v1h-1zM451 191h1v1h-1zM451 192h1v1h-1zM451 194h1v1h-1zM452 184h1v1h-1zM452 185h1v1h-1zM452 186h1v1h-1zM452 189h1v1h-1zM452 192h1v1h-1zM452 193h1v1h-1zM452 194h1v1h-1zM453 184h1v1h-1zM453 185h1v1h-1zM453 186h1v1h-1zM453 187h1v1h-1zM453 188h1v1h-1zM453 189h1v1h-1zM453 190h1v1h-1zM453 191h1v1h-1zM453 193h1v1h-1zM453 194h1v1h-1zM454 183h1v1h-1zM454 184h1v1h-1zM454 186h1v1h-1zM454 187h1v1h-1zM454 188h1v1h-1zM454 189h1v1h-1zM454 190h1v1h-1zM454 192h1v1h-1zM454 193h1v1h-1zM454 194h1v1h-1zM454 195h1v1h-1zM454 196h1v1h-1zM455 184h1v1h-1zM455 185h1v1h-1zM455 187h1v1h-1zM455 188h1v1h-1zM455 189h1v1h-1zM455 190h1v1h-1zM455 192h1v1h-1zM455 193h1v1h-1zM455 195h1v1h-1zM456 184h1v1h-1zM456 185h1v1h-1zM456 186h1v1h-1zM456 187h1v1h-1zM456 188h1v1h-1zM456 189h1v1h-1zM456 190h1v1h-1zM456 191h1v1h-1zM456 194h1v1h-1zM456 195h1v1h-1zM456 196h1v1h-1zM457 183h1v1h-1zM457 184h1v1h-1zM457 185h1v1h-1zM457 186h1v1h-1zM457 187h1v1h-1zM457 188h1v1h-1zM457 190h1v1h-1zM457 191h1v1h-1zM457 192h1v1h-1zM457 194h1v1h-1zM457 195h1v1h-1zM457 196h1v1h-1zM458 184h1v1h-1zM458 186h1v1h-1zM458 187h1v1h-1zM458 189h1v1h-1zM458 190h1v1h-1zM458 191h1v1h-1zM458 195h1v1h-1zM458 196h1v1h-1zM459 185h1v1h-1zM459 186h1v1h-1zM459 187h1v1h-1zM459 188h1v1h-1zM459 189h1v1h-1zM459 190h1v1h-1zM459 191h1v1h-1zM459 192h1v1h-1zM459 193h1v1h-1zM459 194h1v1h-1zM459 195h1v1h-1zM460 185h1v1h-1zM460 186h1v1h-1zM460 187h1v1h-1zM460 188h1v1h-1zM460 189h1v1h-1zM460 190h1v1h-1zM460 191h1v1h-1zM460 193h1v1h-1zM460 194h1v1h-1zM461 185h1v1h-1zM461 186h1v1h-1zM461 189h1v1h-1zM461 190h1v1h-1zM461 191h1v1h-1zM461 193h1v1h-1zM461 194h1v1h-1zM462 186h1v1h-1zM462 187h1v1h-1zM462 190h1v1h-1zM462 192h1v1h-1zM462 193h1v1h-1zM463 185h1v1h-1zM463 187h1v1h-1zM463 188h1v1h-1zM463 189h1v1h-1zM463 190h1v1h-1zM463 191h1v1h-1zM463 193h1v1h-1zM464 188h1v1h-1zM464 189h1v1h-1zM464 190h1v1h-1zM464 192h1v1h-1zM465 186h1v1h-1zM465 191h1v1h-1zM465 192h1v1h-1zM465 193h1v1h-1zM467 189h1v1h-1z" fill="#6a75b8" opacity="0.8"/>
<ellipse cx="456.0" cy="190.0" rx="7.9" ry="5.3" fill="#3d4ba0" opacity="1.0" transform="rotate(0 456.0 190.0)" filter="url(#b3)"/>
<ellipse cx="476.8" cy="187.8" rx="11.0" ry="8.0" fill="#d84848" opacity="0.3" transform="rotate(-25 476.8 187.8)" filter="url(#b2)"/>
<path d="M462 192h1v1h-1zM464 185h1v1h-1zM465 190h1v1h-1zM465 195h1v1h-1zM466 185h1v1h-1zM466 186h1v1h-1zM466 187h1v1h-1zM466 188h1v1h-1zM466 189h1v1h-1zM466 190h1v1h-1zM466 191h1v1h-1zM466 192h1v1h-1zM467 184h1v1h-1zM467 185h1v1h-1zM467 186h1v1h-1zM467 187h1v1h-1zM467 188h1v1h-1zM467 189h1v1h-1zM467 190h1v1h-1zM467 192h1v1h-1zM467 194h1v1h-1zM467 196h1v1h-1zM468 182h1v1h-1zM468 183h1v1h-1zM468 184h1v1h-1zM468 185h1v1h-1zM468 186h1v1h-1zM468 187h1v1h-1zM468 188h1v1h-1zM468 190h1v1h-1zM468 191h1v1h-1zM468 193h1v1h-1zM468 194h1v1h-1zM468 196h1v1h-1zM469 182h1v1h-1zM469 185h1v1h-1zM469 186h1v1h-1zM469 188h1v1h-1zM469 191h1v1h-1zM469 192h1v1h-1zM469 193h1v1h-1zM469 194h1v1h-1zM469 196h1v1h-1zM470 180h1v1h-1zM470 181h1v1h-1zM470 182h1v1h-1zM470 183h1v1h-1zM470 184h1v1h-1zM470 185h1v1h-1zM470 186h1v1h-1zM470 187h1v1h-1zM470 190h1v1h-1zM470 191h1v1h-1zM470 192h1v1h-1zM470 193h1v1h-1zM471 181h1v1h-1zM471 182h1v1h-1zM471 183h1v1h-1zM471 186h1v1h-1zM471 188h1v1h-1zM471 189h1v1h-1zM471 191h1v1h-1zM471 192h1v1h-1zM471 194h1v1h-1zM471 195h1v1h-1zM472 179h1v1h-1zM472 180h1v1h-1zM472 181h1v1h-1zM472 182h1v1h-1zM472 184h1v1h-1zM472 185h1v1h-1zM472 186h1v1h-1zM472 187h1v1h-1zM472 188h1v1h-1zM472 189h1v1h-1zM472 190h1v1h-1zM472 192h1v1h-1zM472 193h1v1h-1zM472 194h1v1h-1zM472 198h1v1h-1zM473 178h1v1h-1zM473 179h1v1h-1zM473 180h1v1h-1zM473 181h1v1h-1zM473 182h1v1h-1zM473 183h1v1h-1zM473 184h1v1h-1zM473 185h1v1h-1zM473 188h1v1h-1zM473 189h1v1h-1zM473 191h1v1h-1zM473 192h1v1h-1zM473 193h1v1h-1zM473 194h1v1h-1zM473 195h1v1h-1zM474 178h1v1h-1zM474 179h1v1h-1zM474 180h1v1h-1zM474 181h1v1h-1zM474 182h1v1h-1zM474 183h1v1h-1zM474 185h1v1h-1zM474 186h1v1h-1zM474 187h1v1h-1zM474 189h1v1h-1zM474 190h1v1h-1zM474 192h1v1h-1zM474 193h1v1h-1zM474 194h1v1h-1zM474 196h1v1h-1zM475 178h1v1h-1zM475 179h1v1h-1zM475 180h1v1h-1zM475 182h1v1h-1zM475 183h1v1h-1zM475 184h1v1h-1zM475 185h1v1h-1zM475 186h1v1h-1zM475 187h1v1h-1zM475 188h1v1h-1zM475 189h1v1h-1zM475 190h1v1h-1zM475 191h1v1h-1zM475 192h1v1h-1zM475 193h1v1h-1zM475 194h1v1h-1zM475 195h1v1h-1zM476 180h1v1h-1zM476 181h1v1h-1zM476 182h1v1h-1zM476 185h1v1h-1zM476 186h1v1h-1zM476 187h1v1h-1zM476 188h1v1h-1zM476 189h1v1h-1zM476 190h1v1h-1zM476 194h1v1h-1zM476 195h1v1h-1zM476 196h1v1h-1zM476 197h1v1h-1zM477 177h1v1h-1zM477 178h1v1h-1zM477 179h1v1h-1zM477 180h1v1h-1zM477 181h1v1h-1zM477 183h1v1h-1zM477 184h1v1h-1zM477 185h1v1h-1zM477 186h1v1h-1zM477 187h1v1h-1zM477 189h1v1h-1zM477 190h1v1h-1zM477 193h1v1h-1zM477 194h1v1h-1zM477 196h1v1h-1zM477 197h1v1h-1zM478 175h1v1h-1zM478 178h1v1h-1zM478 179h1v1h-1zM478 180h1v1h-1zM478 182h1v1h-1zM478 183h1v1h-1zM478 185h1v1h-1zM478 186h1v1h-1zM478 188h1v1h-1zM478 189h1v1h-1zM478 190h1v1h-1zM478 193h1v1h-1zM478 194h1v1h-1zM479 176h1v1h-1zM479 180h1v1h-1zM479 181h1v1h-1zM479 182h1v1h-1zM479 183h1v1h-1zM479 184h1v1h-1zM479 185h1v1h-1zM479 186h1v1h-1zM479 187h1v1h-1zM479 188h1v1h-1zM479 189h1v1h-1zM479 190h1v1h-1zM479 191h1v1h-1zM479 192h1v1h-1zM479 193h1v1h-1zM479 197h1v1h-1zM480 178h1v1h-1zM480 179h1v1h-1zM480 180h1v1h-1zM480 182h1v1h-1zM480 183h1v1h-1zM480 184h1v1h-1zM480 186h1v1h-1zM480 187h1v1h-1zM480 189h1v1h-1zM480 190h1v1h-1zM480 191h1v1h-1zM480 192h1v1h-1zM480 193h1v1h-1zM480 195h1v1h-1zM481 177h1v1h-1zM481 178h1v1h-1zM481 180h1v1h-1zM481 181h1v1h-1zM481 182h1v1h-1zM481 184h1v1h-1zM481 185h1v1h-1zM481 186h1v1h-1zM481 187h1v1h-1zM481 188h1v1h-1zM481 189h1v1h-1zM481 190h1v1h-1zM481 191h1v1h-1zM481 192h1v1h-1zM481 193h1v1h-1zM482 179h1v1h-1zM482 180h1v1h-1zM482 181h1v1h-1zM482 182h1v1h-1zM482 183h1v1h-1zM482 184h1v1h-1zM482 185h1v1h-1zM482 186h1v1h-1zM482 187h1v1h-1zM482 188h1v1h-1zM482 192h1v1h-1zM482 193h1v1h-1zM482 194h1v1h-1zM482 197h1v1h-1zM483 179h1v1h-1zM483 180h1v1h-1zM483 181h1v1h-1zM483 182h1v1h-1zM483 183h1v1h-1zM483 184h1v1h-1zM483 185h1v1h-1zM483 186h1v1h-1zM483 187h1v1h-1zM483 188h1v1h-1zM483 189h1v1h-1zM483 190h1v1h-1zM483 192h1v1h-1zM483 194h1v1h-1zM484 178h1v1h-1zM484 179h1v1h-1zM484 181h1v1h-1zM484 182h1v1h-1zM484 183h1v1h-1zM484 185h1v1h-1zM484 188h1v1h-1zM484 189h1v1h-1zM484 190h1v1h-1zM484 191h1v1h-1zM484 193h1v1h-1zM485 179h1v1h-1zM485 180h1v1h-1zM485 183h1v1h-1zM485 184h1v1h-1zM485 187h1v1h-1zM485 188h1v1h-1zM485 190h1v1h-1zM485 191h1v1h-1zM486 179h1v1h-1zM486 180h1v1h-1zM486 181h1v1h-1zM486 182h1v1h-1zM486 183h1v1h-1zM486 184h1v1h-1zM486 185h1v1h-1zM486 186h1v1h-1zM486 187h1v1h-1zM486 188h1v1h-1zM486 189h1v1h-1zM486 191h1v1h-1zM487 182h1v1h-1zM487 183h1v1h-1zM487 184h1v1h-1zM487 185h1v1h-1zM487 187h1v1h-1zM488 184h1v1h-1zM488 189h1v1h-1zM489 185h1v1h-1zM489 186h1v1h-1z" fill="#d84848" opacity="0.8"/>
<ellipse cx="476.8" cy="187.8" rx="9.7" ry="7.0" fill="#d01a1a" opacity="1.0" transform="rotate(-25 476.8 187.8)" filter="url(#b3)"/>
<ellipse cx="477.5" cy="187.2" rx="13.0" ry="9.5" fill="none" stroke="#111" stroke-width="1.15" stroke-dasharray="0.9 1.15" transform="rotate(-30 477.5 187.2)"/>
<path d="M241 286h1v1h-1zM244 300h1v1h-1zM245 295h1v1h-1zM246 295h1v1h-1zM246 299h1v1h-1zM246 300h1v1h-1zM247 286h1v1h-1zM247 290h1v1h-1zM247 299h1v1h-1zM247 303h1v1h-1zM248 285h1v1h-1zM248 301h1v1h-1zM249 288h1v1h-1zM249 291h1v1h-1zM249 305h1v1h-1zM250 286h1v1h-1zM250 289h1v1h-1zM250 291h1v1h-1zM250 294h1v1h-1zM250 295h1v1h-1zM250 297h1v1h-1zM251 282h1v1h-1zM251 291h1v1h-1zM251 298h1v1h-1zM251 309h1v1h-1zM251 311h1v1h-1zM252 286h1v1h-1zM252 292h1v1h-1zM252 301h1v1h-1zM252 306h1v1h-1zM253 289h1v1h-1zM253 290h1v1h-1zM253 293h1v1h-1zM253 294h1v1h-1zM253 297h1v1h-1zM253 302h1v1h-1zM253 311h1v1h-1zM254 288h1v1h-1zM254 293h1v1h-1zM254 294h1v1h-1zM254 297h1v1h-1zM254 305h1v1h-1zM254 309h1v1h-1zM255 291h1v1h-1zM255 294h1v1h-1zM255 297h1v1h-1zM255 298h1v1h-1zM255 300h1v1h-1zM255 301h1v1h-1zM255 304h1v1h-1zM256 281h1v1h-1zM256 285h1v1h-1zM256 287h1v1h-1zM256 288h1v1h-1zM256 290h1v1h-1zM256 295h1v1h-1zM256 296h1v1h-1zM256 301h1v1h-1zM256 302h1v1h-1zM256 303h1v1h-1zM256 306h1v1h-1zM256 308h1v1h-1zM257 284h1v1h-1zM257 289h1v1h-1zM257 292h1v1h-1zM257 295h1v1h-1zM257 296h1v1h-1zM257 298h1v1h-1zM257 299h1v1h-1zM257 300h1v1h-1zM257 301h1v1h-1zM257 303h1v1h-1zM257 305h1v1h-1zM257 306h1v1h-1zM257 307h1v1h-1zM258 279h1v1h-1zM258 280h1v1h-1zM258 292h1v1h-1zM258 293h1v1h-1zM258 295h1v1h-1zM258 297h1v1h-1zM258 300h1v1h-1zM258 310h1v1h-1zM258 312h1v1h-1zM259 282h1v1h-1zM259 292h1v1h-1zM259 293h1v1h-1zM259 297h1v1h-1zM259 304h1v1h-1zM259 305h1v1h-1zM260 285h1v1h-1zM260 286h1v1h-1zM260 289h1v1h-1zM260 292h1v1h-1zM260 293h1v1h-1zM260 295h1v1h-1zM260 296h1v1h-1zM260 297h1v1h-1zM260 299h1v1h-1zM260 302h1v1h-1zM260 308h1v1h-1zM261 284h1v1h-1zM261 287h1v1h-1zM261 290h1v1h-1zM261 295h1v1h-1zM261 297h1v1h-1zM261 298h1v1h-1zM261 301h1v1h-1zM262 286h1v1h-1zM262 287h1v1h-1zM262 288h1v1h-1zM262 292h1v1h-1zM262 295h1v1h-1zM262 298h1v1h-1zM262 301h1v1h-1zM262 305h1v1h-1zM263 274h1v1h-1zM263 284h1v1h-1zM263 285h1v1h-1zM263 292h1v1h-1zM263 293h1v1h-1zM263 296h1v1h-1zM263 297h1v1h-1zM263 299h1v1h-1zM263 301h1v1h-1zM263 303h1v1h-1zM263 306h1v1h-1zM263 312h1v1h-1zM264 280h1v1h-1zM264 284h1v1h-1zM264 286h1v1h-1zM264 288h1v1h-1zM264 290h1v1h-1zM264 291h1v1h-1zM264 293h1v1h-1zM264 294h1v1h-1zM264 298h1v1h-1zM264 299h1v1h-1zM264 300h1v1h-1zM264 309h1v1h-1zM265 290h1v1h-1zM265 294h1v1h-1zM265 296h1v1h-1zM265 300h1v1h-1zM265 301h1v1h-1zM265 302h1v1h-1zM265 307h1v1h-1zM265 309h1v1h-1zM266 280h1v1h-1zM266 288h1v1h-1zM266 292h1v1h-1zM266 293h1v1h-1zM266 296h1v1h-1zM266 298h1v1h-1zM266 299h1v1h-1zM266 300h1v1h-1zM266 304h1v1h-1zM266 309h1v1h-1zM267 277h1v1h-1zM267 287h1v1h-1zM267 293h1v1h-1zM267 297h1v1h-1zM267 298h1v1h-1zM267 299h1v1h-1zM267 300h1v1h-1zM267 301h1v1h-1zM267 302h1v1h-1zM267 303h1v1h-1zM267 307h1v1h-1zM267 309h1v1h-1zM268 286h1v1h-1zM268 294h1v1h-1zM268 296h1v1h-1zM268 297h1v1h-1zM268 300h1v1h-1zM268 301h1v1h-1zM268 302h1v1h-1zM269 284h1v1h-1zM269 285h1v1h-1zM269 286h1v1h-1zM269 290h1v1h-1zM269 292h1v1h-1zM269 295h1v1h-1zM269 296h1v1h-1zM269 297h1v1h-1zM269 302h1v1h-1zM269 303h1v1h-1zM269 311h1v1h-1zM270 282h1v1h-1zM270 287h1v1h-1zM270 289h1v1h-1zM270 298h1v1h-1zM270 299h1v1h-1zM270 300h1v1h-1zM271 285h1v1h-1zM271 287h1v1h-1zM271 289h1v1h-1zM271 290h1v1h-1zM271 291h1v1h-1zM271 293h1v1h-1zM271 295h1v1h-1zM271 296h1v1h-1zM271 299h1v1h-1zM271 305h1v1h-1zM272 283h1v1h-1zM272 293h1v1h-1zM272 294h1v1h-1zM272 296h1v1h-1zM272 298h1v1h-1zM272 300h1v1h-1zM272 301h1v1h-1zM272 302h1v1h-1zM272 303h1v1h-1zM272 305h1v1h-1zM273 288h1v1h-1zM273 291h1v1h-1zM273 292h1v1h-1zM273 294h1v1h-1zM273 304h1v1h-1zM273 305h1v1h-1zM273 306h1v1h-1zM273 307h1v1h-1zM273 309h1v1h-1zM274 283h1v1h-1zM274 290h1v1h-1zM274 292h1v1h-1zM274 293h1v1h-1zM274 295h1v1h-1zM274 298h1v1h-1zM274 300h1v1h-1zM274 305h1v1h-1zM274 310h1v1h-1zM275 293h1v1h-1zM275 299h1v1h-1zM275 303h1v1h-1zM276 281h1v1h-1zM276 288h1v1h-1zM276 299h1v1h-1zM276 301h1v1h-1zM276 304h1v1h-1zM277 294h1v1h-1zM277 296h1v1h-1zM277 300h1v1h-1zM277 301h1v1h-1zM277 304h1v1h-1zM278 298h1v1h-1zM278 304h1v1h-1zM279 286h1v1h-1zM279 288h1v1h-1zM279 297h1v1h-1zM279 299h1v1h-1zM280 287h1v1h-1zM280 303h1v1h-1zM282 296h1v1h-1zM283 282h1v1h-1zM285 291h1v1h-1zM285 306h1v1h-1zM286 295h1v1h-1zM287 288h1v1h-1z" fill="#d84848" opacity="0.3"/>
<path d="M251 308h1v1h-1zM252 310h1v1h-1zM253 298h1v1h-1zM253 303h1v1h-1zM253 304h1v1h-1zM254 299h1v1h-1zM254 303h1v1h-1zM254 304h1v1h-1zM254 306h1v1h-1zM254 307h1v1h-1zM254 309h1v1h-1zM255 298h1v1h-1zM255 300h1v1h-1zM255 302h1v1h-1zM255 303h1v1h-1zM255 305h1v1h-1zM255 308h1v1h-1zM255 309h1v1h-1zM255 310h1v1h-1zM255 311h1v1h-1zM256 301h1v1h-1zM256 303h1v1h-1zM256 304h1v1h-1zM256 306h1v1h-1zM256 307h1v1h-1zM257 296h1v1h-1zM257 303h1v1h-1zM257 306h1v1h-1zM258 307h1v1h-1z" fill="#d84848" opacity="0.7"/>
<ellipse cx="256.5" cy="286.0" rx="11.5" ry="7.5" fill="#d84848" opacity="0.3" transform="rotate(-10 256.5 286.0)" filter="url(#b2)"/>
<path d="M243 282h1v1h-1zM243 285h1v1h-1zM243 287h1v1h-1zM243 291h1v1h-1zM244 285h1v1h-1zM244 286h1v1h-1zM244 290h1v1h-1zM245 283h1v1h-1zM245 284h1v1h-1zM245 286h1v1h-1zM245 287h1v1h-1zM245 288h1v1h-1zM245 289h1v1h-1zM245 292h1v1h-1zM245 293h1v1h-1zM246 282h1v1h-1zM246 283h1v1h-1zM246 284h1v1h-1zM246 286h1v1h-1zM246 287h1v1h-1zM246 288h1v1h-1zM246 289h1v1h-1zM246 291h1v1h-1zM246 292h1v1h-1zM246 293h1v1h-1zM247 280h1v1h-1zM247 283h1v1h-1zM247 284h1v1h-1zM247 285h1v1h-1zM247 286h1v1h-1zM247 288h1v1h-1zM247 289h1v1h-1zM247 293h1v1h-1zM248 281h1v1h-1zM248 282h1v1h-1zM248 285h1v1h-1zM248 286h1v1h-1zM248 288h1v1h-1zM248 289h1v1h-1zM248 290h1v1h-1zM248 291h1v1h-1zM248 292h1v1h-1zM249 281h1v1h-1zM249 282h1v1h-1zM249 283h1v1h-1zM249 284h1v1h-1zM249 285h1v1h-1zM249 286h1v1h-1zM249 287h1v1h-1zM249 288h1v1h-1zM249 289h1v1h-1zM249 290h1v1h-1zM250 279h1v1h-1zM250 280h1v1h-1zM250 281h1v1h-1zM250 282h1v1h-1zM250 283h1v1h-1zM250 284h1v1h-1zM250 286h1v1h-1zM250 287h1v1h-1zM250 288h1v1h-1zM250 289h1v1h-1zM250 290h1v1h-1zM250 292h1v1h-1zM251 279h1v1h-1zM251 280h1v1h-1zM251 281h1v1h-1zM251 283h1v1h-1zM251 285h1v1h-1zM251 287h1v1h-1zM251 288h1v1h-1zM251 289h1v1h-1zM251 291h1v1h-1zM251 292h1v1h-1zM252 277h1v1h-1zM252 278h1v1h-1zM252 279h1v1h-1zM252 280h1v1h-1zM252 281h1v1h-1zM252 282h1v1h-1zM252 283h1v1h-1zM252 284h1v1h-1zM252 285h1v1h-1zM252 288h1v1h-1zM252 289h1v1h-1zM252 291h1v1h-1zM252 292h1v1h-1zM252 294h1v1h-1zM253 276h1v1h-1zM253 277h1v1h-1zM253 281h1v1h-1zM253 282h1v1h-1zM253 284h1v1h-1zM253 285h1v1h-1zM253 287h1v1h-1zM253 288h1v1h-1zM253 289h1v1h-1zM253 290h1v1h-1zM253 293h1v1h-1zM253 294h1v1h-1zM254 279h1v1h-1zM254 280h1v1h-1zM254 281h1v1h-1zM254 282h1v1h-1zM254 283h1v1h-1zM254 284h1v1h-1zM254 285h1v1h-1zM254 287h1v1h-1zM254 288h1v1h-1zM254 289h1v1h-1zM254 290h1v1h-1zM254 291h1v1h-1zM254 292h1v1h-1zM255 277h1v1h-1zM255 278h1v1h-1zM255 281h1v1h-1zM255 282h1v1h-1zM255 283h1v1h-1zM255 284h1v1h-1zM255 286h1v1h-1zM255 287h1v1h-1zM255 288h1v1h-1zM255 289h1v1h-1zM255 293h1v1h-1zM255 294h1v1h-1zM256 278h1v1h-1zM256 279h1v1h-1zM256 280h1v1h-1zM256 281h1v1h-1zM256 282h1v1h-1zM256 283h1v1h-1zM256 284h1v1h-1zM256 285h1v1h-1zM256 287h1v1h-1zM256 288h1v1h-1zM256 289h1v1h-1zM256 290h1v1h-1zM256 291h1v1h-1zM256 292h1v1h-1zM256 294h1v1h-1zM257 277h1v1h-1zM257 278h1v1h-1zM257 279h1v1h-1zM257 281h1v1h-1zM257 282h1v1h-1zM257 283h1v1h-1zM257 284h1v1h-1zM257 285h1v1h-1zM257 286h1v1h-1zM257 287h1v1h-1zM257 288h1v1h-1zM257 289h1v1h-1zM257 290h1v1h-1zM257 291h1v1h-1zM257 294h1v1h-1zM257 295h1v1h-1zM258 276h1v1h-1zM258 277h1v1h-1zM258 281h1v1h-1zM258 282h1v1h-1zM258 283h1v1h-1zM258 286h1v1h-1zM258 287h1v1h-1zM258 288h1v1h-1zM258 289h1v1h-1zM258 290h1v1h-1zM258 291h1v1h-1zM258 292h1v1h-1zM258 293h1v1h-1zM259 278h1v1h-1zM259 279h1v1h-1zM259 280h1v1h-1zM259 282h1v1h-1zM259 283h1v1h-1zM259 285h1v1h-1zM259 286h1v1h-1zM259 287h1v1h-1zM259 288h1v1h-1zM259 289h1v1h-1zM259 290h1v1h-1zM259 294h1v1h-1zM260 279h1v1h-1zM260 280h1v1h-1zM260 282h1v1h-1zM260 283h1v1h-1zM260 284h1v1h-1zM260 285h1v1h-1zM260 286h1v1h-1zM260 289h1v1h-1zM260 290h1v1h-1zM260 291h1v1h-1zM260 292h1v1h-1zM260 293h1v1h-1zM260 294h1v1h-1zM261 278h1v1h-1zM261 280h1v1h-1zM261 281h1v1h-1zM261 282h1v1h-1zM261 285h1v1h-1zM261 287h1v1h-1zM261 288h1v1h-1zM261 289h1v1h-1zM261 291h1v1h-1zM261 292h1v1h-1zM262 277h1v1h-1zM262 279h1v1h-1zM262 280h1v1h-1zM262 281h1v1h-1zM262 282h1v1h-1zM262 284h1v1h-1zM262 285h1v1h-1zM262 286h1v1h-1zM262 287h1v1h-1zM262 288h1v1h-1zM262 289h1v1h-1zM262 290h1v1h-1zM262 291h1v1h-1zM263 279h1v1h-1zM263 280h1v1h-1zM263 281h1v1h-1zM263 282h1v1h-1zM263 283h1v1h-1zM263 284h1v1h-1zM263 285h1v1h-1zM263 286h1v1h-1zM263 288h1v1h-1zM263 289h1v1h-1zM263 290h1v1h-1zM263 294h1v1h-1zM264 279h1v1h-1zM264 280h1v1h-1zM264 281h1v1h-1zM264 284h1v1h-1zM264 285h1v1h-1zM264 286h1v1h-1zM264 287h1v1h-1zM264 288h1v1h-1zM264 290h1v1h-1zM264 291h1v1h-1zM265 280h1v1h-1zM265 283h1v1h-1zM265 284h1v1h-1zM265 285h1v1h-1zM265 287h1v1h-1zM265 288h1v1h-1zM265 289h1v1h-1zM265 291h1v1h-1zM265 292h1v1h-1zM266 278h1v1h-1zM266 280h1v1h-1zM266 281h1v1h-1zM266 282h1v1h-1zM266 283h1v1h-1zM266 284h1v1h-1zM266 285h1v1h-1zM266 286h1v1h-1zM266 287h1v1h-1zM266 288h1v1h-1zM266 289h1v1h-1zM266 290h1v1h-1zM267 281h1v1h-1zM267 284h1v1h-1zM267 286h1v1h-1zM267 288h1v1h-1zM267 289h1v1h-1zM268 281h1v1h-1zM268 284h1v1h-1zM268 285h1v1h-1zM268 286h1v1h-1zM269 282h1v1h-1zM269 283h1v1h-1zM269 284h1v1h-1zM270 284h1v1h-1zM270 286h1v1h-1zM271 283h1v1h-1z" fill="#d84848" opacity="0.8"/>
<ellipse cx="256.5" cy="286.0" rx="10.1" ry="6.6" fill="#8a1a38" opacity="1.0" transform="rotate(-10 256.5 286.0)" filter="url(#b3)"/>
<ellipse cx="256.5" cy="286.3" rx="9.8" ry="6.0" fill="#3d4ba0" opacity="1.0" transform="rotate(-10 256.5 286.3)" filter="url(#b3)"/>
<path d="M274 299h1v1h-1zM275 298h1v1h-1zM276 295h1v1h-1zM277 292h1v1h-1zM277 293h1v1h-1zM277 295h1v1h-1zM277 296h1v1h-1zM277 297h1v1h-1zM277 298h1v1h-1zM278 293h1v1h-1zM278 294h1v1h-1zM278 295h1v1h-1zM278 298h1v1h-1zM278 300h1v1h-1zM278 301h1v1h-1zM278 302h1v1h-1zM279 294h1v1h-1zM279 299h1v1h-1zM280 293h1v1h-1zM280 294h1v1h-1zM280 295h1v1h-1zM280 296h1v1h-1zM280 297h1v1h-1zM280 299h1v1h-1zM281 294h1v1h-1zM281 295h1v1h-1zM281 297h1v1h-1zM281 299h1v1h-1zM281 300h1v1h-1zM282 292h1v1h-1zM282 296h1v1h-1zM282 297h1v1h-1zM282 298h1v1h-1zM282 299h1v1h-1zM282 301h1v1h-1zM283 294h1v1h-1zM283 297h1v1h-1zM283 298h1v1h-1zM283 299h1v1h-1zM283 300h1v1h-1zM284 293h1v1h-1zM284 294h1v1h-1zM284 295h1v1h-1zM284 296h1v1h-1zM284 297h1v1h-1zM284 298h1v1h-1zM284 299h1v1h-1zM285 293h1v1h-1zM285 295h1v1h-1zM285 296h1v1h-1zM285 299h1v1h-1zM285 300h1v1h-1zM286 294h1v1h-1zM286 296h1v1h-1zM286 298h1v1h-1zM286 299h1v1h-1zM287 293h1v1h-1zM287 296h1v1h-1zM287 298h1v1h-1zM288 296h1v1h-1zM288 297h1v1h-1zM288 298h1v1h-1zM288 300h1v1h-1zM289 294h1v1h-1zM289 296h1v1h-1zM289 297h1v1h-1zM289 298h1v1h-1zM291 296h1v1h-1z" fill="#d84848" opacity="0.75"/>
<ellipse cx="283.2" cy="296.8" rx="8.6" ry="6.0" fill="none" stroke="#111" stroke-width="1.15" stroke-dasharray="0.9 1.15" transform="rotate(0 283.2 296.8)"/>
<path d="M342 301h1v1h-1zM343 288h1v1h-1zM344 292h1v1h-1zM344 294h1v1h-1zM344 296h1v1h-1zM344 298h1v1h-1zM345 291h1v1h-1zM345 292h1v1h-1zM345 318h1v1h-1zM346 293h1v1h-1zM346 296h1v1h-1zM346 297h1v1h-1zM346 305h1v1h-1zM346 310h1v1h-1zM346 311h1v1h-1zM347 281h1v1h-1zM347 292h1v1h-1zM347 293h1v1h-1zM347 304h1v1h-1zM348 290h1v1h-1zM348 299h1v1h-1zM348 302h1v1h-1zM348 305h1v1h-1zM349 291h1v1h-1zM349 299h1v1h-1zM349 300h1v1h-1zM349 306h1v1h-1zM350 290h1v1h-1zM350 291h1v1h-1zM350 294h1v1h-1zM350 299h1v1h-1zM350 300h1v1h-1zM350 304h1v1h-1zM350 305h1v1h-1zM350 308h1v1h-1zM350 312h1v1h-1zM350 313h1v1h-1zM351 293h1v1h-1zM351 295h1v1h-1zM351 298h1v1h-1zM351 299h1v1h-1zM351 300h1v1h-1zM351 302h1v1h-1zM351 303h1v1h-1zM351 315h1v1h-1zM352 292h1v1h-1zM352 296h1v1h-1zM352 297h1v1h-1zM352 298h1v1h-1zM352 321h1v1h-1zM353 296h1v1h-1zM353 297h1v1h-1zM353 299h1v1h-1zM353 302h1v1h-1zM353 304h1v1h-1zM353 310h1v1h-1zM353 311h1v1h-1zM354 291h1v1h-1zM354 296h1v1h-1zM354 298h1v1h-1zM354 299h1v1h-1zM354 300h1v1h-1zM354 302h1v1h-1zM354 303h1v1h-1zM354 304h1v1h-1zM354 306h1v1h-1zM354 308h1v1h-1zM355 278h1v1h-1zM355 292h1v1h-1zM355 297h1v1h-1zM355 300h1v1h-1zM355 301h1v1h-1zM355 303h1v1h-1zM355 312h1v1h-1zM356 285h1v1h-1zM356 288h1v1h-1zM356 289h1v1h-1zM356 294h1v1h-1zM356 297h1v1h-1zM356 299h1v1h-1zM356 301h1v1h-1zM356 303h1v1h-1zM356 308h1v1h-1zM356 309h1v1h-1zM356 310h1v1h-1zM356 311h1v1h-1zM356 315h1v1h-1zM356 319h1v1h-1zM357 288h1v1h-1zM357 290h1v1h-1zM357 294h1v1h-1zM357 298h1v1h-1zM357 302h1v1h-1zM357 306h1v1h-1zM357 307h1v1h-1zM357 315h1v1h-1zM358 291h1v1h-1zM358 292h1v1h-1zM358 293h1v1h-1zM358 294h1v1h-1zM358 299h1v1h-1zM358 300h1v1h-1zM358 301h1v1h-1zM358 302h1v1h-1zM358 304h1v1h-1zM358 305h1v1h-1zM358 306h1v1h-1zM358 307h1v1h-1zM358 308h1v1h-1zM358 309h1v1h-1zM358 319h1v1h-1zM359 282h1v1h-1zM359 283h1v1h-1zM359 290h1v1h-1zM359 293h1v1h-1zM359 294h1v1h-1zM359 295h1v1h-1zM359 297h1v1h-1zM359 299h1v1h-1zM359 303h1v1h-1zM359 306h1v1h-1zM359 308h1v1h-1zM359 311h1v1h-1zM359 316h1v1h-1zM359 321h1v1h-1zM360 287h1v1h-1zM360 289h1v1h-1zM360 297h1v1h-1zM360 298h1v1h-1zM360 301h1v1h-1zM360 302h1v1h-1zM360 303h1v1h-1zM360 306h1v1h-1zM360 307h1v1h-1zM360 308h1v1h-1zM360 321h1v1h-1zM361 280h1v1h-1zM361 291h1v1h-1zM361 293h1v1h-1zM361 294h1v1h-1zM361 295h1v1h-1zM361 296h1v1h-1zM361 297h1v1h-1zM361 302h1v1h-1zM361 304h1v1h-1zM361 306h1v1h-1zM361 310h1v1h-1zM361 313h1v1h-1zM362 284h1v1h-1zM362 287h1v1h-1zM362 292h1v1h-1zM362 294h1v1h-1zM362 296h1v1h-1zM362 302h1v1h-1zM362 304h1v1h-1zM362 306h1v1h-1zM362 312h1v1h-1zM362 318h1v1h-1zM363 285h1v1h-1zM363 287h1v1h-1zM363 292h1v1h-1zM363 297h1v1h-1zM363 299h1v1h-1zM363 300h1v1h-1zM363 301h1v1h-1zM363 302h1v1h-1zM363 306h1v1h-1zM363 309h1v1h-1zM363 312h1v1h-1zM364 288h1v1h-1zM364 291h1v1h-1zM364 292h1v1h-1zM364 294h1v1h-1zM364 295h1v1h-1zM364 298h1v1h-1zM364 300h1v1h-1zM364 302h1v1h-1zM364 303h1v1h-1zM364 308h1v1h-1zM364 312h1v1h-1zM364 315h1v1h-1zM364 321h1v1h-1zM365 277h1v1h-1zM365 296h1v1h-1zM365 298h1v1h-1zM365 300h1v1h-1zM365 301h1v1h-1zM365 304h1v1h-1zM365 311h1v1h-1zM365 313h1v1h-1zM365 314h1v1h-1zM365 315h1v1h-1zM365 316h1v1h-1zM366 286h1v1h-1zM366 288h1v1h-1zM366 289h1v1h-1zM366 291h1v1h-1zM366 292h1v1h-1zM366 294h1v1h-1zM366 295h1v1h-1zM366 297h1v1h-1zM366 299h1v1h-1zM366 301h1v1h-1zM366 302h1v1h-1zM366 303h1v1h-1zM366 304h1v1h-1zM366 307h1v1h-1zM366 309h1v1h-1zM366 313h1v1h-1zM366 320h1v1h-1zM367 277h1v1h-1zM367 288h1v1h-1zM367 290h1v1h-1zM367 293h1v1h-1zM367 294h1v1h-1zM367 295h1v1h-1zM367 296h1v1h-1zM367 297h1v1h-1zM367 303h1v1h-1zM367 306h1v1h-1zM367 310h1v1h-1zM367 313h1v1h-1zM367 318h1v1h-1zM367 322h1v1h-1zM368 279h1v1h-1zM368 283h1v1h-1zM368 289h1v1h-1zM368 290h1v1h-1zM368 291h1v1h-1zM368 293h1v1h-1zM368 294h1v1h-1zM368 295h1v1h-1zM368 298h1v1h-1zM368 299h1v1h-1zM368 300h1v1h-1zM368 303h1v1h-1zM368 307h1v1h-1zM368 310h1v1h-1zM368 311h1v1h-1zM368 315h1v1h-1zM369 283h1v1h-1zM369 284h1v1h-1zM369 288h1v1h-1zM369 291h1v1h-1zM369 293h1v1h-1zM369 294h1v1h-1zM369 295h1v1h-1zM369 297h1v1h-1zM369 298h1v1h-1zM369 302h1v1h-1zM369 305h1v1h-1zM369 308h1v1h-1zM369 309h1v1h-1zM369 310h1v1h-1zM369 313h1v1h-1zM369 318h1v1h-1zM369 321h1v1h-1zM370 282h1v1h-1zM370 293h1v1h-1zM370 294h1v1h-1zM370 298h1v1h-1zM370 299h1v1h-1zM370 302h1v1h-1zM370 303h1v1h-1zM370 305h1v1h-1zM370 307h1v1h-1zM370 308h1v1h-1zM370 311h1v1h-1zM370 312h1v1h-1zM371 286h1v1h-1zM371 287h1v1h-1zM371 288h1v1h-1zM371 294h1v1h-1zM371 295h1v1h-1zM371 296h1v1h-1zM371 297h1v1h-1zM371 298h1v1h-1zM371 301h1v1h-1zM371 305h1v1h-1zM371 308h1v1h-1zM371 309h1v1h-1zM372 278h1v1h-1zM372 290h1v1h-1zM372 293h1v1h-1zM372 298h1v1h-1zM372 300h1v1h-1zM372 301h1v1h-1zM372 305h1v1h-1zM372 306h1v1h-1zM372 307h1v1h-1zM372 313h1v1h-1zM373 284h1v1h-1zM373 285h1v1h-1zM373 286h1v1h-1zM373 289h1v1h-1zM373 293h1v1h-1zM373 294h1v1h-1zM373 295h1v1h-1zM373 296h1v1h-1zM373 297h1v1h-1zM373 300h1v1h-1zM373 302h1v1h-1zM373 303h1v1h-1zM373 304h1v1h-1zM374 284h1v1h-1zM374 289h1v1h-1zM374 290h1v1h-1zM374 293h1v1h-1zM374 294h1v1h-1zM374 295h1v1h-1zM374 296h1v1h-1zM374 297h1v1h-1zM374 299h1v1h-1zM374 300h1v1h-1zM374 305h1v1h-1zM374 306h1v1h-1zM374 310h1v1h-1zM375 285h1v1h-1zM375 289h1v1h-1zM375 292h1v1h-1zM375 301h1v1h-1zM375 307h1v1h-1zM375 308h1v1h-1zM375 309h1v1h-1zM375 311h1v1h-1zM375 319h1v1h-1zM376 282h1v1h-1zM376 285h1v1h-1zM376 288h1v1h-1zM376 289h1v1h-1zM376 290h1v1h-1zM376 294h1v1h-1zM376 297h1v1h-1zM376 300h1v1h-1zM376 302h1v1h-1zM376 306h1v1h-1zM377 285h1v1h-1zM377 287h1v1h-1zM377 290h1v1h-1zM377 291h1v1h-1zM377 295h1v1h-1zM377 300h1v1h-1zM377 305h1v1h-1zM377 323h1v1h-1zM378 286h1v1h-1zM378 287h1v1h-1zM378 293h1v1h-1zM378 296h1v1h-1zM378 306h1v1h-1zM378 309h1v1h-1zM378 310h1v1h-1zM378 311h1v1h-1zM378 315h1v1h-1zM378 316h1v1h-1zM379 288h1v1h-1zM379 298h1v1h-1zM379 303h1v1h-1zM379 304h1v1h-1zM379 307h1v1h-1zM379 310h1v1h-1zM379 312h1v1h-1zM379 315h1v1h-1zM380 280h1v1h-1zM380 293h1v1h-1zM380 301h1v1h-1zM380 306h1v1h-1zM380 308h1v1h-1zM381 286h1v1h-1zM381 288h1v1h-1zM381 290h1v1h-1zM381 294h1v1h-1zM381 299h1v1h-1zM381 303h1v1h-1zM382 286h1v1h-1zM382 290h1v1h-1zM382 305h1v1h-1zM383 278h1v1h-1zM383 290h1v1h-1zM383 292h1v1h-1zM383 294h1v1h-1zM384 291h1v1h-1zM384 293h1v1h-1zM384 301h1v1h-1zM384 303h1v1h-1zM384 307h1v1h-1zM385 289h1v1h-1zM385 291h1v1h-1zM385 305h1v1h-1zM385 311h1v1h-1zM386 301h1v1h-1zM386 306h1v1h-1zM386 308h1v1h-1zM387 287h1v1h-1zM388 298h1v1h-1zM388 301h1v1h-1zM388 307h1v1h-1zM388 309h1v1h-1zM388 312h1v1h-1zM390 289h1v1h-1zM390 294h1v1h-1zM390 310h1v1h-1zM391 296h1v1h-1zM392 293h1v1h-1zM392 301h1v1h-1zM392 315h1v1h-1zM392 318h1v1h-1zM395 292h1v1h-1zM395 302h1v1h-1zM397 304h1v1h-1zM398 297h1v1h-1zM399 297h1v1h-1zM400 311h1v1h-1zM401 293h1v1h-1zM406 307h1v1h-1z" fill="#d84848" opacity="0.3"/>
<ellipse cx="368.5" cy="290.5" rx="22.0" ry="9.5" fill="#6a75b8" opacity="0.3" transform="rotate(-2 368.5 290.5)" filter="url(#b2)"/>
<path d="M341 289h1v1h-1zM341 291h1v1h-1zM341 292h1v1h-1zM342 282h1v1h-1zM342 288h1v1h-1zM343 287h1v1h-1zM343 288h1v1h-1zM343 289h1v1h-1zM343 295h1v1h-1zM344 286h1v1h-1zM344 291h1v1h-1zM344 292h1v1h-1zM345 285h1v1h-1zM345 286h1v1h-1zM345 288h1v1h-1zM345 291h1v1h-1zM345 292h1v1h-1zM345 293h1v1h-1zM345 294h1v1h-1zM345 296h1v1h-1zM346 287h1v1h-1zM346 289h1v1h-1zM346 290h1v1h-1zM346 291h1v1h-1zM346 292h1v1h-1zM346 294h1v1h-1zM346 296h1v1h-1zM346 299h1v1h-1zM346 300h1v1h-1zM346 301h1v1h-1zM347 287h1v1h-1zM347 288h1v1h-1zM347 289h1v1h-1zM347 290h1v1h-1zM347 291h1v1h-1zM347 292h1v1h-1zM347 293h1v1h-1zM347 295h1v1h-1zM347 296h1v1h-1zM348 282h1v1h-1zM348 284h1v1h-1zM348 285h1v1h-1zM348 286h1v1h-1zM348 289h1v1h-1zM348 290h1v1h-1zM348 291h1v1h-1zM348 292h1v1h-1zM348 293h1v1h-1zM348 294h1v1h-1zM348 295h1v1h-1zM348 298h1v1h-1zM349 285h1v1h-1zM349 286h1v1h-1zM349 287h1v1h-1zM349 289h1v1h-1zM349 290h1v1h-1zM349 291h1v1h-1zM349 292h1v1h-1zM349 293h1v1h-1zM349 294h1v1h-1zM349 295h1v1h-1zM350 283h1v1h-1zM350 284h1v1h-1zM350 285h1v1h-1zM350 286h1v1h-1zM350 287h1v1h-1zM350 288h1v1h-1zM350 289h1v1h-1zM350 290h1v1h-1zM350 291h1v1h-1zM350 293h1v1h-1zM350 294h1v1h-1zM350 296h1v1h-1zM350 297h1v1h-1zM350 298h1v1h-1zM351 284h1v1h-1zM351 285h1v1h-1zM351 286h1v1h-1zM351 289h1v1h-1zM351 290h1v1h-1zM351 291h1v1h-1zM351 292h1v1h-1zM351 293h1v1h-1zM351 294h1v1h-1zM351 295h1v1h-1zM351 296h1v1h-1zM351 297h1v1h-1zM351 299h1v1h-1zM352 284h1v1h-1zM352 285h1v1h-1zM352 286h1v1h-1zM352 287h1v1h-1zM352 288h1v1h-1zM352 289h1v1h-1zM352 290h1v1h-1zM352 292h1v1h-1zM352 293h1v1h-1zM352 295h1v1h-1zM352 296h1v1h-1zM352 297h1v1h-1zM352 299h1v1h-1zM352 300h1v1h-1zM353 281h1v1h-1zM353 282h1v1h-1zM353 283h1v1h-1zM353 284h1v1h-1zM353 286h1v1h-1zM353 288h1v1h-1zM353 289h1v1h-1zM353 290h1v1h-1zM353 291h1v1h-1zM353 292h1v1h-1zM353 293h1v1h-1zM353 294h1v1h-1zM353 295h1v1h-1zM353 296h1v1h-1zM354 281h1v1h-1zM354 282h1v1h-1zM354 283h1v1h-1zM354 284h1v1h-1zM354 285h1v1h-1zM354 286h1v1h-1zM354 287h1v1h-1zM354 288h1v1h-1zM354 290h1v1h-1zM354 291h1v1h-1zM354 293h1v1h-1zM354 295h1v1h-1zM354 297h1v1h-1zM354 299h1v1h-1zM354 300h1v1h-1zM355 282h1v1h-1zM355 283h1v1h-1zM355 284h1v1h-1zM355 285h1v1h-1zM355 286h1v1h-1zM355 287h1v1h-1zM355 288h1v1h-1zM355 289h1v1h-1zM355 292h1v1h-1zM355 293h1v1h-1zM355 295h1v1h-1zM355 296h1v1h-1zM355 297h1v1h-1zM355 299h1v1h-1zM356 280h1v1h-1zM356 282h1v1h-1zM356 283h1v1h-1zM356 284h1v1h-1zM356 285h1v1h-1zM356 286h1v1h-1zM356 288h1v1h-1zM356 289h1v1h-1zM356 290h1v1h-1zM356 291h1v1h-1zM356 294h1v1h-1zM356 296h1v1h-1zM356 297h1v1h-1zM357 280h1v1h-1zM357 281h1v1h-1zM357 283h1v1h-1zM357 284h1v1h-1zM357 285h1v1h-1zM357 286h1v1h-1zM357 287h1v1h-1zM357 288h1v1h-1zM357 290h1v1h-1zM357 291h1v1h-1zM357 292h1v1h-1zM357 293h1v1h-1zM357 294h1v1h-1zM357 295h1v1h-1zM357 296h1v1h-1zM357 298h1v1h-1zM357 299h1v1h-1zM357 300h1v1h-1zM358 279h1v1h-1zM358 281h1v1h-1zM358 283h1v1h-1zM358 284h1v1h-1zM358 285h1v1h-1zM358 286h1v1h-1zM358 287h1v1h-1zM358 288h1v1h-1zM358 289h1v1h-1zM358 290h1v1h-1zM358 291h1v1h-1zM358 292h1v1h-1zM358 293h1v1h-1zM358 294h1v1h-1zM358 296h1v1h-1zM358 297h1v1h-1zM358 298h1v1h-1zM358 300h1v1h-1zM359 281h1v1h-1zM359 282h1v1h-1zM359 283h1v1h-1zM359 284h1v1h-1zM359 285h1v1h-1zM359 286h1v1h-1zM359 288h1v1h-1zM359 289h1v1h-1zM359 290h1v1h-1zM359 291h1v1h-1zM359 293h1v1h-1zM359 294h1v1h-1zM359 295h1v1h-1zM359 296h1v1h-1zM359 297h1v1h-1zM359 298h1v1h-1zM360 279h1v1h-1zM360 281h1v1h-1zM360 284h1v1h-1zM360 286h1v1h-1zM360 287h1v1h-1zM360 288h1v1h-1zM360 289h1v1h-1zM360 290h1v1h-1zM360 291h1v1h-1zM360 294h1v1h-1zM360 295h1v1h-1zM360 296h1v1h-1zM360 298h1v1h-1zM360 299h1v1h-1zM361 280h1v1h-1zM361 282h1v1h-1zM361 283h1v1h-1zM361 284h1v1h-1zM361 285h1v1h-1zM361 286h1v1h-1zM361 287h1v1h-1zM361 288h1v1h-1zM361 289h1v1h-1zM361 291h1v1h-1zM361 292h1v1h-1zM361 293h1v1h-1zM361 294h1v1h-1zM361 295h1v1h-1zM361 297h1v1h-1zM361 298h1v1h-1zM361 299h1v1h-1zM361 300h1v1h-1zM362 282h1v1h-1zM362 283h1v1h-1zM362 284h1v1h-1zM362 285h1v1h-1zM362 286h1v1h-1zM362 287h1v1h-1zM362 288h1v1h-1zM362 289h1v1h-1zM362 290h1v1h-1zM362 292h1v1h-1zM362 293h1v1h-1zM362 294h1v1h-1zM362 296h1v1h-1zM362 297h1v1h-1zM362 298h1v1h-1zM362 299h1v1h-1zM362 301h1v1h-1zM363 282h1v1h-1zM363 283h1v1h-1zM363 284h1v1h-1zM363 287h1v1h-1zM363 289h1v1h-1zM363 290h1v1h-1zM363 291h1v1h-1zM363 292h1v1h-1zM363 293h1v1h-1zM363 294h1v1h-1zM363 296h1v1h-1zM363 297h1v1h-1zM363 298h1v1h-1zM363 300h1v1h-1zM364 280h1v1h-1zM364 281h1v1h-1zM364 282h1v1h-1zM364 284h1v1h-1zM364 285h1v1h-1zM364 286h1v1h-1zM364 287h1v1h-1zM364 288h1v1h-1zM364 292h1v1h-1zM364 293h1v1h-1zM364 294h1v1h-1zM364 295h1v1h-1zM364 298h1v1h-1zM364 299h1v1h-1zM364 300h1v1h-1zM365 279h1v1h-1zM365 280h1v1h-1zM365 281h1v1h-1zM365 282h1v1h-1zM365 284h1v1h-1zM365 285h1v1h-1zM365 286h1v1h-1zM365 287h1v1h-1zM365 288h1v1h-1zM365 289h1v1h-1zM365 290h1v1h-1zM365 291h1v1h-1zM365 294h1v1h-1zM365 295h1v1h-1zM365 296h1v1h-1zM365 298h1v1h-1zM365 299h1v1h-1zM365 300h1v1h-1zM366 281h1v1h-1zM366 283h1v1h-1zM366 284h1v1h-1zM366 285h1v1h-1zM366 286h1v1h-1zM366 288h1v1h-1zM366 289h1v1h-1zM366 290h1v1h-1zM366 291h1v1h-1zM366 292h1v1h-1zM366 293h1v1h-1zM366 294h1v1h-1zM366 295h1v1h-1zM366 296h1v1h-1zM366 297h1v1h-1zM366 300h1v1h-1zM366 301h1v1h-1zM367 280h1v1h-1zM367 281h1v1h-1zM367 282h1v1h-1zM367 283h1v1h-1zM367 285h1v1h-1zM367 286h1v1h-1zM367 287h1v1h-1zM367 289h1v1h-1zM367 290h1v1h-1zM367 291h1v1h-1zM367 292h1v1h-1zM367 293h1v1h-1zM367 294h1v1h-1zM367 297h1v1h-1zM367 299h1v1h-1zM367 300h1v1h-1zM368 281h1v1h-1zM368 282h1v1h-1zM368 283h1v1h-1zM368 284h1v1h-1zM368 285h1v1h-1zM368 286h1v1h-1zM368 287h1v1h-1zM368 288h1v1h-1zM368 289h1v1h-1zM368 290h1v1h-1zM368 291h1v1h-1zM368 292h1v1h-1zM368 293h1v1h-1zM368 294h1v1h-1zM368 296h1v1h-1zM368 297h1v1h-1zM368 298h1v1h-1zM368 299h1v1h-1zM369 281h1v1h-1zM369 282h1v1h-1zM369 283h1v1h-1zM369 284h1v1h-1zM369 286h1v1h-1zM369 287h1v1h-1zM369 288h1v1h-1zM369 289h1v1h-1zM369 290h1v1h-1zM369 293h1v1h-1zM369 294h1v1h-1zM369 295h1v1h-1zM369 296h1v1h-1zM369 297h1v1h-1zM369 298h1v1h-1zM369 299h1v1h-1zM369 300h1v1h-1zM369 302h1v1h-1zM370 278h1v1h-1zM370 280h1v1h-1zM370 281h1v1h-1zM370 282h1v1h-1zM370 283h1v1h-1zM370 284h1v1h-1zM370 285h1v1h-1zM370 286h1v1h-1zM370 289h1v1h-1zM370 290h1v1h-1zM370 291h1v1h-1zM370 293h1v1h-1zM370 294h1v1h-1zM370 295h1v1h-1zM370 296h1v1h-1zM370 297h1v1h-1zM370 298h1v1h-1zM370 301h1v1h-1zM371 279h1v1h-1zM371 280h1v1h-1zM371 281h1v1h-1zM371 282h1v1h-1zM371 283h1v1h-1zM371 285h1v1h-1zM371 286h1v1h-1zM371 287h1v1h-1zM371 289h1v1h-1zM371 291h1v1h-1zM371 292h1v1h-1zM371 293h1v1h-1zM371 294h1v1h-1zM371 295h1v1h-1zM371 296h1v1h-1zM371 297h1v1h-1zM371 298h1v1h-1zM371 299h1v1h-1zM371 300h1v1h-1zM371 301h1v1h-1zM372 281h1v1h-1zM372 282h1v1h-1zM372 284h1v1h-1zM372 285h1v1h-1zM372 286h1v1h-1zM372 287h1v1h-1zM372 288h1v1h-1zM372 289h1v1h-1zM372 290h1v1h-1zM372 291h1v1h-1zM372 292h1v1h-1zM372 293h1v1h-1zM372 294h1v1h-1zM372 295h1v1h-1zM372 296h1v1h-1zM372 297h1v1h-1zM372 298h1v1h-1zM372 301h1v1h-1zM373 279h1v1h-1zM373 280h1v1h-1zM373 281h1v1h-1zM373 283h1v1h-1zM373 284h1v1h-1zM373 285h1v1h-1zM373 286h1v1h-1zM373 287h1v1h-1zM373 288h1v1h-1zM373 289h1v1h-1zM373 291h1v1h-1zM373 292h1v1h-1zM373 293h1v1h-1zM373 295h1v1h-1zM373 296h1v1h-1zM373 297h1v1h-1zM373 298h1v1h-1zM373 299h1v1h-1zM373 301h1v1h-1zM374 279h1v1h-1zM374 281h1v1h-1zM374 282h1v1h-1zM374 283h1v1h-1zM374 284h1v1h-1zM374 287h1v1h-1zM374 288h1v1h-1zM374 289h1v1h-1zM374 293h1v1h-1zM374 294h1v1h-1zM374 297h1v1h-1zM374 298h1v1h-1zM374 300h1v1h-1zM375 280h1v1h-1zM375 281h1v1h-1zM375 282h1v1h-1zM375 283h1v1h-1zM375 284h1v1h-1zM375 285h1v1h-1zM375 286h1v1h-1zM375 288h1v1h-1zM375 289h1v1h-1zM375 290h1v1h-1zM375 291h1v1h-1zM375 293h1v1h-1zM375 294h1v1h-1zM375 295h1v1h-1zM375 298h1v1h-1zM375 299h1v1h-1zM376 285h1v1h-1zM376 286h1v1h-1zM376 287h1v1h-1zM376 288h1v1h-1zM376 289h1v1h-1zM376 290h1v1h-1zM376 291h1v1h-1zM376 292h1v1h-1zM376 293h1v1h-1zM376 294h1v1h-1zM376 295h1v1h-1zM376 296h1v1h-1zM376 298h1v1h-1zM376 299h1v1h-1zM376 300h1v1h-1zM377 281h1v1h-1zM377 282h1v1h-1zM377 283h1v1h-1zM377 285h1v1h-1zM377 286h1v1h-1zM377 287h1v1h-1zM377 289h1v1h-1zM377 290h1v1h-1zM377 291h1v1h-1zM377 292h1v1h-1zM377 293h1v1h-1zM377 294h1v1h-1zM377 295h1v1h-1zM377 296h1v1h-1zM377 297h1v1h-1zM377 298h1v1h-1zM377 299h1v1h-1zM378 281h1v1h-1zM378 285h1v1h-1zM378 286h1v1h-1zM378 287h1v1h-1zM378 288h1v1h-1zM378 289h1v1h-1zM378 290h1v1h-1zM378 292h1v1h-1zM378 294h1v1h-1zM378 296h1v1h-1zM378 297h1v1h-1zM378 298h1v1h-1zM378 300h1v1h-1zM379 282h1v1h-1zM379 286h1v1h-1zM379 287h1v1h-1zM379 288h1v1h-1zM379 289h1v1h-1zM379 290h1v1h-1zM379 292h1v1h-1zM379 293h1v1h-1zM379 294h1v1h-1zM379 295h1v1h-1zM379 296h1v1h-1zM380 282h1v1h-1zM380 284h1v1h-1zM380 285h1v1h-1zM380 286h1v1h-1zM380 288h1v1h-1zM380 289h1v1h-1zM380 290h1v1h-1zM380 291h1v1h-1zM380 292h1v1h-1zM380 293h1v1h-1zM380 294h1v1h-1zM380 296h1v1h-1zM380 297h1v1h-1zM380 298h1v1h-1zM381 280h1v1h-1zM381 282h1v1h-1zM381 283h1v1h-1zM381 284h1v1h-1zM381 285h1v1h-1zM381 286h1v1h-1zM381 288h1v1h-1zM381 289h1v1h-1zM381 290h1v1h-1zM381 292h1v1h-1zM381 293h1v1h-1zM381 294h1v1h-1zM381 295h1v1h-1zM381 296h1v1h-1zM381 297h1v1h-1zM381 298h1v1h-1zM382 281h1v1h-1zM382 282h1v1h-1zM382 284h1v1h-1zM382 285h1v1h-1zM382 287h1v1h-1zM382 288h1v1h-1zM382 289h1v1h-1zM382 290h1v1h-1zM382 291h1v1h-1zM382 292h1v1h-1zM382 293h1v1h-1zM382 294h1v1h-1zM382 295h1v1h-1zM383 281h1v1h-1zM383 282h1v1h-1zM383 284h1v1h-1zM383 285h1v1h-1zM383 286h1v1h-1zM383 287h1v1h-1zM383 288h1v1h-1zM383 289h1v1h-1zM383 290h1v1h-1zM383 291h1v1h-1zM383 292h1v1h-1zM383 294h1v1h-1zM383 295h1v1h-1zM383 297h1v1h-1zM384 282h1v1h-1zM384 283h1v1h-1zM384 285h1v1h-1zM384 286h1v1h-1zM384 287h1v1h-1zM384 288h1v1h-1zM384 289h1v1h-1zM384 290h1v1h-1zM384 291h1v1h-1zM384 292h1v1h-1zM384 293h1v1h-1zM384 294h1v1h-1zM384 296h1v1h-1zM385 278h1v1h-1zM385 283h1v1h-1zM385 285h1v1h-1zM385 288h1v1h-1zM385 289h1v1h-1zM385 290h1v1h-1zM385 291h1v1h-1zM385 292h1v1h-1zM385 294h1v1h-1zM385 298h1v1h-1zM386 282h1v1h-1zM386 284h1v1h-1zM386 285h1v1h-1zM386 286h1v1h-1zM386 287h1v1h-1zM386 288h1v1h-1zM386 289h1v1h-1zM386 290h1v1h-1zM386 291h1v1h-1zM386 292h1v1h-1zM386 293h1v1h-1zM386 294h1v1h-1zM386 295h1v1h-1zM386 297h1v1h-1zM386 298h1v1h-1zM387 281h1v1h-1zM387 284h1v1h-1zM387 285h1v1h-1zM387 286h1v1h-1zM387 287h1v1h-1zM387 288h1v1h-1zM387 289h1v1h-1zM387 290h1v1h-1zM387 291h1v1h-1zM387 292h1v1h-1zM388 285h1v1h-1zM388 286h1v1h-1zM388 289h1v1h-1zM388 290h1v1h-1zM388 291h1v1h-1zM388 293h1v1h-1zM388 294h1v1h-1zM388 295h1v1h-1zM389 283h1v1h-1zM389 284h1v1h-1zM389 285h1v1h-1zM389 286h1v1h-1zM389 287h1v1h-1zM389 288h1v1h-1zM389 289h1v1h-1zM389 290h1v1h-1zM389 291h1v1h-1zM389 292h1v1h-1zM389 293h1v1h-1zM389 295h1v1h-1zM389 296h1v1h-1zM389 297h1v1h-1zM390 285h1v1h-1zM390 288h1v1h-1zM390 289h1v1h-1zM390 290h1v1h-1zM390 291h1v1h-1zM390 293h1v1h-1zM390 298h1v1h-1zM391 284h1v1h-1zM391 285h1v1h-1zM391 286h1v1h-1zM391 287h1v1h-1zM391 288h1v1h-1zM391 290h1v1h-1zM391 291h1v1h-1zM391 292h1v1h-1zM391 293h1v1h-1zM392 286h1v1h-1zM392 288h1v1h-1zM392 289h1v1h-1zM392 291h1v1h-1zM392 292h1v1h-1zM393 287h1v1h-1zM393 292h1v1h-1zM393 293h1v1h-1zM396 285h1v1h-1z" fill="#6a75b8" opacity="0.8"/>
<ellipse cx="368.5" cy="290.5" rx="19.4" ry="8.4" fill="#6a2a68" opacity="1.0" transform="rotate(-2 368.5 290.5)" filter="url(#b3)"/>
<ellipse cx="369.5" cy="291.2" rx="19.5" ry="8.2" fill="#3d4ba0" opacity="1.0" transform="rotate(-2 369.5 291.2)" filter="url(#b3)"/>
<ellipse cx="356.0" cy="299.0" rx="9.0" ry="6.0" fill="#6a75b8" opacity="0.3" transform="rotate(20 356.0 299.0)" filter="url(#b2)"/>
<path d="M345 297h1v1h-1zM346 294h1v1h-1zM346 295h1v1h-1zM346 296h1v1h-1zM346 298h1v1h-1zM346 299h1v1h-1zM347 295h1v1h-1zM347 296h1v1h-1zM347 297h1v1h-1zM347 298h1v1h-1zM347 299h1v1h-1zM347 301h1v1h-1zM348 293h1v1h-1zM348 294h1v1h-1zM348 295h1v1h-1zM348 296h1v1h-1zM348 297h1v1h-1zM348 298h1v1h-1zM348 299h1v1h-1zM349 293h1v1h-1zM349 294h1v1h-1zM349 295h1v1h-1zM349 296h1v1h-1zM349 297h1v1h-1zM349 299h1v1h-1zM349 300h1v1h-1zM349 301h1v1h-1zM349 302h1v1h-1zM350 291h1v1h-1zM350 293h1v1h-1zM350 295h1v1h-1zM350 296h1v1h-1zM350 297h1v1h-1zM350 300h1v1h-1zM350 301h1v1h-1zM350 303h1v1h-1zM351 292h1v1h-1zM351 293h1v1h-1zM351 294h1v1h-1zM351 295h1v1h-1zM351 297h1v1h-1zM351 300h1v1h-1zM351 301h1v1h-1zM351 302h1v1h-1zM351 304h1v1h-1zM352 291h1v1h-1zM352 292h1v1h-1zM352 293h1v1h-1zM352 294h1v1h-1zM352 295h1v1h-1zM352 296h1v1h-1zM352 297h1v1h-1zM352 298h1v1h-1zM352 300h1v1h-1zM352 301h1v1h-1zM352 302h1v1h-1zM352 304h1v1h-1zM353 292h1v1h-1zM353 294h1v1h-1zM353 295h1v1h-1zM353 296h1v1h-1zM353 297h1v1h-1zM353 298h1v1h-1zM353 300h1v1h-1zM353 301h1v1h-1zM353 302h1v1h-1zM353 303h1v1h-1zM353 304h1v1h-1zM354 292h1v1h-1zM354 293h1v1h-1zM354 294h1v1h-1zM354 297h1v1h-1zM354 298h1v1h-1zM354 302h1v1h-1zM354 303h1v1h-1zM354 305h1v1h-1zM355 292h1v1h-1zM355 293h1v1h-1zM355 295h1v1h-1zM355 296h1v1h-1zM355 298h1v1h-1zM355 299h1v1h-1zM355 300h1v1h-1zM355 301h1v1h-1zM355 302h1v1h-1zM355 303h1v1h-1zM355 304h1v1h-1zM355 305h1v1h-1zM355 306h1v1h-1zM356 293h1v1h-1zM356 294h1v1h-1zM356 296h1v1h-1zM356 297h1v1h-1zM356 299h1v1h-1zM356 300h1v1h-1zM356 301h1v1h-1zM356 302h1v1h-1zM356 303h1v1h-1zM356 304h1v1h-1zM357 293h1v1h-1zM357 298h1v1h-1zM357 299h1v1h-1zM357 300h1v1h-1zM357 301h1v1h-1zM357 302h1v1h-1zM357 303h1v1h-1zM357 304h1v1h-1zM357 305h1v1h-1zM358 294h1v1h-1zM358 295h1v1h-1zM358 297h1v1h-1zM358 298h1v1h-1zM358 299h1v1h-1zM358 300h1v1h-1zM358 301h1v1h-1zM358 302h1v1h-1zM358 305h1v1h-1zM358 306h1v1h-1zM359 293h1v1h-1zM359 294h1v1h-1zM359 297h1v1h-1zM359 298h1v1h-1zM359 299h1v1h-1zM359 302h1v1h-1zM359 304h1v1h-1zM360 294h1v1h-1zM360 295h1v1h-1zM360 297h1v1h-1zM360 298h1v1h-1zM360 300h1v1h-1zM360 301h1v1h-1zM360 302h1v1h-1zM360 303h1v1h-1zM360 304h1v1h-1zM360 305h1v1h-1zM360 307h1v1h-1zM361 294h1v1h-1zM361 295h1v1h-1zM361 296h1v1h-1zM361 297h1v1h-1zM361 298h1v1h-1zM361 299h1v1h-1zM361 300h1v1h-1zM361 301h1v1h-1zM361 302h1v1h-1zM361 303h1v1h-1zM361 304h1v1h-1zM361 305h1v1h-1zM362 294h1v1h-1zM362 297h1v1h-1zM362 298h1v1h-1zM362 299h1v1h-1zM362 300h1v1h-1zM362 301h1v1h-1zM362 302h1v1h-1zM362 304h1v1h-1zM363 294h1v1h-1zM363 296h1v1h-1zM363 299h1v1h-1zM363 300h1v1h-1zM363 301h1v1h-1zM363 303h1v1h-1zM363 304h1v1h-1zM363 306h1v1h-1zM364 296h1v1h-1zM364 299h1v1h-1zM364 301h1v1h-1zM364 302h1v1h-1zM365 299h1v1h-1zM365 300h1v1h-1zM365 301h1v1h-1zM365 302h1v1h-1z" fill="#6a75b8" opacity="0.8"/>
<ellipse cx="356.0" cy="299.0" rx="7.9" ry="5.3" fill="#3d4ba0" opacity="0.85" transform="rotate(20 356.0 299.0)" filter="url(#b3)"/>
<ellipse cx="384.5" cy="298.0" rx="8.0" ry="5.0" fill="#d84848" opacity="0.3" transform="rotate(-20 384.5 298.0)" filter="url(#b2)"/>
<path d="M376 298h1v1h-1zM376 301h1v1h-1zM377 296h1v1h-1zM377 298h1v1h-1zM377 299h1v1h-1zM377 300h1v1h-1zM378 294h1v1h-1zM378 295h1v1h-1zM378 296h1v1h-1zM378 298h1v1h-1zM378 299h1v1h-1zM378 301h1v1h-1zM378 302h1v1h-1zM379 296h1v1h-1zM379 298h1v1h-1zM379 299h1v1h-1zM379 301h1v1h-1zM379 302h1v1h-1zM380 294h1v1h-1zM380 295h1v1h-1zM380 297h1v1h-1zM380 299h1v1h-1zM380 301h1v1h-1zM380 302h1v1h-1zM380 303h1v1h-1zM381 294h1v1h-1zM381 295h1v1h-1zM381 296h1v1h-1zM381 297h1v1h-1zM381 298h1v1h-1zM381 299h1v1h-1zM381 300h1v1h-1zM381 301h1v1h-1zM381 303h1v1h-1zM382 293h1v1h-1zM382 295h1v1h-1zM382 297h1v1h-1zM382 298h1v1h-1zM382 299h1v1h-1zM382 301h1v1h-1zM382 303h1v1h-1zM383 292h1v1h-1zM383 293h1v1h-1zM383 294h1v1h-1zM383 295h1v1h-1zM383 296h1v1h-1zM383 297h1v1h-1zM383 299h1v1h-1zM383 300h1v1h-1zM383 301h1v1h-1zM383 302h1v1h-1zM383 304h1v1h-1zM384 292h1v1h-1zM384 295h1v1h-1zM384 296h1v1h-1zM384 297h1v1h-1zM384 298h1v1h-1zM384 299h1v1h-1zM384 300h1v1h-1zM384 302h1v1h-1zM384 304h1v1h-1zM385 292h1v1h-1zM385 293h1v1h-1zM385 294h1v1h-1zM385 295h1v1h-1zM385 296h1v1h-1zM385 297h1v1h-1zM385 298h1v1h-1zM385 299h1v1h-1zM385 300h1v1h-1zM385 301h1v1h-1zM386 291h1v1h-1zM386 292h1v1h-1zM386 294h1v1h-1zM386 296h1v1h-1zM386 297h1v1h-1zM386 298h1v1h-1zM386 299h1v1h-1zM386 301h1v1h-1zM387 291h1v1h-1zM387 292h1v1h-1zM387 294h1v1h-1zM387 295h1v1h-1zM387 296h1v1h-1zM387 297h1v1h-1zM387 298h1v1h-1zM387 300h1v1h-1zM388 293h1v1h-1zM388 294h1v1h-1zM388 296h1v1h-1zM388 297h1v1h-1zM388 298h1v1h-1zM388 299h1v1h-1zM388 300h1v1h-1zM388 301h1v1h-1zM388 302h1v1h-1zM389 291h1v1h-1zM389 292h1v1h-1zM389 293h1v1h-1zM389 294h1v1h-1zM389 296h1v1h-1zM389 297h1v1h-1zM389 298h1v1h-1zM389 299h1v1h-1zM389 301h1v1h-1zM390 291h1v1h-1zM390 292h1v1h-1zM390 294h1v1h-1zM390 295h1v1h-1zM390 297h1v1h-1zM391 292h1v1h-1zM391 293h1v1h-1zM391 295h1v1h-1zM391 296h1v1h-1zM391 297h1v1h-1zM391 298h1v1h-1zM392 292h1v1h-1zM392 295h1v1h-1zM392 296h1v1h-1zM392 298h1v1h-1zM393 296h1v1h-1z" fill="#d84848" opacity="0.8"/>
<ellipse cx="384.5" cy="298.0" rx="7.0" ry="4.4" fill="#d01a1a" opacity="0.7" transform="rotate(-20 384.5 298.0)" filter="url(#b3)"/>
<ellipse cx="385.3" cy="298.0" rx="9.6" ry="6.6" fill="none" stroke="#111" stroke-width="1.15" stroke-dasharray="0.9 1.15" transform="rotate(-20 385.3 298.0)"/>
<path d="M442 286h1v1h-1zM444 284h1v1h-1zM448 287h1v1h-1zM448 293h1v1h-1zM448 312h1v1h-1zM449 293h1v1h-1zM449 298h1v1h-1zM449 299h1v1h-1zM449 302h1v1h-1zM449 304h1v1h-1zM450 285h1v1h-1zM451 288h1v1h-1zM451 297h1v1h-1zM451 299h1v1h-1zM451 307h1v1h-1zM452 290h1v1h-1zM452 303h1v1h-1zM452 304h1v1h-1zM453 286h1v1h-1zM453 294h1v1h-1zM453 297h1v1h-1zM453 304h1v1h-1zM455 278h1v1h-1zM455 294h1v1h-1zM456 280h1v1h-1zM456 281h1v1h-1zM456 285h1v1h-1zM456 292h1v1h-1zM456 294h1v1h-1zM456 303h1v1h-1zM456 311h1v1h-1zM456 312h1v1h-1zM457 282h1v1h-1zM457 285h1v1h-1zM457 294h1v1h-1zM457 298h1v1h-1zM457 299h1v1h-1zM457 310h1v1h-1zM458 288h1v1h-1zM458 291h1v1h-1zM458 292h1v1h-1zM458 302h1v1h-1zM458 304h1v1h-1zM459 287h1v1h-1zM459 293h1v1h-1zM459 297h1v1h-1zM459 300h1v1h-1zM459 307h1v1h-1zM460 283h1v1h-1zM460 286h1v1h-1zM460 291h1v1h-1zM460 293h1v1h-1zM460 294h1v1h-1zM460 300h1v1h-1zM460 306h1v1h-1zM460 310h1v1h-1zM461 285h1v1h-1zM461 288h1v1h-1zM461 289h1v1h-1zM461 292h1v1h-1zM461 295h1v1h-1zM461 299h1v1h-1zM461 303h1v1h-1zM461 307h1v1h-1zM462 277h1v1h-1zM462 281h1v1h-1zM462 284h1v1h-1zM462 286h1v1h-1zM462 288h1v1h-1zM462 289h1v1h-1zM462 291h1v1h-1zM462 298h1v1h-1zM462 300h1v1h-1zM462 301h1v1h-1zM463 284h1v1h-1zM463 285h1v1h-1zM463 290h1v1h-1zM463 292h1v1h-1zM463 294h1v1h-1zM463 297h1v1h-1zM463 301h1v1h-1zM463 304h1v1h-1zM464 285h1v1h-1zM464 286h1v1h-1zM464 291h1v1h-1zM464 293h1v1h-1zM464 294h1v1h-1zM464 295h1v1h-1zM464 296h1v1h-1zM464 297h1v1h-1zM464 298h1v1h-1zM464 303h1v1h-1zM465 284h1v1h-1zM465 289h1v1h-1zM465 298h1v1h-1zM465 306h1v1h-1zM466 269h1v1h-1zM466 280h1v1h-1zM466 282h1v1h-1zM466 284h1v1h-1zM466 285h1v1h-1zM466 289h1v1h-1zM466 291h1v1h-1zM466 292h1v1h-1zM466 297h1v1h-1zM466 298h1v1h-1zM466 301h1v1h-1zM466 303h1v1h-1zM467 282h1v1h-1zM467 285h1v1h-1zM467 287h1v1h-1zM467 288h1v1h-1zM467 290h1v1h-1zM467 291h1v1h-1zM467 301h1v1h-1zM467 302h1v1h-1zM467 304h1v1h-1zM468 285h1v1h-1zM468 286h1v1h-1zM468 289h1v1h-1zM468 291h1v1h-1zM468 292h1v1h-1zM468 293h1v1h-1zM468 294h1v1h-1zM468 296h1v1h-1zM468 298h1v1h-1zM468 301h1v1h-1zM468 303h1v1h-1zM468 308h1v1h-1zM469 278h1v1h-1zM469 286h1v1h-1zM469 287h1v1h-1zM469 291h1v1h-1zM469 293h1v1h-1zM469 294h1v1h-1zM469 295h1v1h-1zM469 299h1v1h-1zM469 300h1v1h-1zM469 302h1v1h-1zM470 285h1v1h-1zM470 286h1v1h-1zM470 290h1v1h-1zM470 295h1v1h-1zM470 298h1v1h-1zM470 300h1v1h-1zM470 310h1v1h-1zM471 268h1v1h-1zM471 281h1v1h-1zM471 282h1v1h-1zM471 285h1v1h-1zM471 287h1v1h-1zM471 288h1v1h-1zM471 290h1v1h-1zM471 292h1v1h-1zM471 294h1v1h-1zM471 296h1v1h-1zM471 297h1v1h-1zM471 298h1v1h-1zM471 301h1v1h-1zM471 305h1v1h-1zM471 306h1v1h-1zM471 318h1v1h-1zM472 287h1v1h-1zM472 291h1v1h-1zM472 294h1v1h-1zM472 296h1v1h-1zM472 297h1v1h-1zM472 298h1v1h-1zM472 304h1v1h-1zM472 305h1v1h-1zM472 306h1v1h-1zM473 286h1v1h-1zM473 287h1v1h-1zM473 291h1v1h-1zM473 293h1v1h-1zM473 294h1v1h-1zM473 297h1v1h-1zM473 298h1v1h-1zM473 300h1v1h-1zM473 305h1v1h-1zM474 275h1v1h-1zM474 277h1v1h-1zM474 280h1v1h-1zM474 282h1v1h-1zM474 285h1v1h-1zM474 289h1v1h-1zM474 293h1v1h-1zM474 294h1v1h-1zM474 295h1v1h-1zM474 298h1v1h-1zM475 287h1v1h-1zM475 290h1v1h-1zM475 292h1v1h-1zM475 294h1v1h-1zM475 298h1v1h-1zM475 301h1v1h-1zM476 281h1v1h-1zM476 290h1v1h-1zM476 293h1v1h-1zM476 302h1v1h-1zM477 280h1v1h-1zM477 290h1v1h-1zM477 292h1v1h-1zM477 293h1v1h-1zM477 295h1v1h-1zM477 298h1v1h-1zM477 300h1v1h-1zM477 312h1v1h-1zM478 273h1v1h-1zM478 281h1v1h-1zM478 284h1v1h-1zM478 287h1v1h-1zM478 290h1v1h-1zM478 295h1v1h-1zM478 298h1v1h-1zM478 301h1v1h-1zM478 302h1v1h-1zM478 303h1v1h-1zM479 281h1v1h-1zM479 290h1v1h-1zM479 292h1v1h-1zM479 293h1v1h-1zM479 298h1v1h-1zM479 303h1v1h-1zM479 305h1v1h-1zM479 315h1v1h-1zM480 287h1v1h-1zM480 289h1v1h-1zM480 291h1v1h-1zM480 293h1v1h-1zM480 299h1v1h-1zM480 300h1v1h-1zM480 302h1v1h-1zM480 305h1v1h-1zM480 308h1v1h-1zM480 310h1v1h-1zM481 279h1v1h-1zM481 280h1v1h-1zM481 286h1v1h-1zM481 294h1v1h-1zM481 295h1v1h-1zM481 298h1v1h-1zM481 311h1v1h-1zM482 283h1v1h-1zM482 288h1v1h-1zM482 290h1v1h-1zM482 291h1v1h-1zM482 297h1v1h-1zM482 298h1v1h-1zM482 308h1v1h-1zM483 273h1v1h-1zM483 294h1v1h-1zM483 297h1v1h-1zM484 286h1v1h-1zM484 295h1v1h-1zM484 300h1v1h-1zM484 304h1v1h-1zM485 286h1v1h-1zM485 290h1v1h-1zM485 294h1v1h-1zM485 300h1v1h-1zM486 288h1v1h-1zM486 289h1v1h-1zM486 292h1v1h-1zM486 295h1v1h-1zM486 298h1v1h-1zM487 278h1v1h-1zM487 286h1v1h-1zM487 293h1v1h-1zM487 294h1v1h-1zM487 298h1v1h-1zM487 304h1v1h-1zM488 275h1v1h-1zM488 287h1v1h-1zM488 288h1v1h-1zM488 291h1v1h-1zM489 293h1v1h-1zM490 312h1v1h-1zM490 317h1v1h-1zM491 292h1v1h-1zM492 291h1v1h-1zM493 304h1v1h-1zM494 291h1v1h-1zM495 279h1v1h-1zM496 287h1v1h-1zM496 289h1v1h-1zM496 304h1v1h-1zM498 290h1v1h-1zM499 291h1v1h-1z" fill="#d84848" opacity="0.3"/>
<path d="M453 286h1v1h-1zM453 287h1v1h-1zM453 288h1v1h-1zM453 289h1v1h-1zM453 290h1v1h-1zM453 292h1v1h-1zM454 281h1v1h-1zM454 286h1v1h-1zM454 289h1v1h-1zM454 290h1v1h-1zM454 291h1v1h-1zM455 284h1v1h-1zM455 286h1v1h-1zM455 288h1v1h-1zM455 289h1v1h-1zM455 290h1v1h-1zM456 288h1v1h-1zM456 290h1v1h-1zM456 296h1v1h-1zM456 297h1v1h-1zM457 283h1v1h-1zM457 284h1v1h-1zM457 288h1v1h-1zM457 290h1v1h-1zM457 292h1v1h-1zM458 283h1v1h-1zM458 284h1v1h-1zM458 285h1v1h-1zM458 288h1v1h-1zM458 290h1v1h-1zM458 291h1v1h-1zM458 292h1v1h-1zM458 293h1v1h-1zM458 294h1v1h-1zM458 296h1v1h-1zM459 287h1v1h-1zM459 288h1v1h-1zM459 289h1v1h-1zM459 291h1v1h-1zM459 295h1v1h-1zM459 296h1v1h-1zM460 286h1v1h-1zM460 287h1v1h-1zM460 289h1v1h-1zM460 290h1v1h-1zM460 291h1v1h-1zM460 293h1v1h-1zM460 294h1v1h-1zM461 286h1v1h-1zM461 288h1v1h-1zM461 289h1v1h-1zM461 290h1v1h-1zM461 291h1v1h-1zM461 292h1v1h-1zM461 293h1v1h-1zM461 296h1v1h-1zM461 300h1v1h-1zM462 279h1v1h-1zM462 281h1v1h-1zM462 283h1v1h-1zM462 284h1v1h-1zM462 286h1v1h-1zM462 287h1v1h-1zM462 290h1v1h-1zM462 293h1v1h-1zM462 295h1v1h-1zM463 282h1v1h-1zM463 283h1v1h-1zM463 284h1v1h-1zM463 285h1v1h-1zM463 286h1v1h-1zM463 287h1v1h-1zM463 288h1v1h-1zM463 289h1v1h-1zM463 290h1v1h-1zM463 291h1v1h-1zM463 292h1v1h-1zM463 293h1v1h-1zM463 294h1v1h-1zM463 295h1v1h-1zM463 297h1v1h-1zM464 283h1v1h-1zM464 287h1v1h-1zM464 289h1v1h-1zM464 293h1v1h-1zM464 294h1v1h-1zM464 295h1v1h-1zM464 296h1v1h-1zM465 282h1v1h-1zM465 283h1v1h-1zM465 286h1v1h-1zM465 288h1v1h-1zM465 289h1v1h-1zM465 290h1v1h-1zM465 291h1v1h-1zM465 292h1v1h-1zM465 293h1v1h-1zM465 295h1v1h-1zM466 282h1v1h-1zM466 283h1v1h-1zM466 285h1v1h-1zM466 286h1v1h-1zM466 288h1v1h-1zM466 290h1v1h-1zM466 292h1v1h-1zM466 293h1v1h-1zM466 294h1v1h-1zM466 295h1v1h-1zM466 298h1v1h-1zM466 299h1v1h-1zM466 300h1v1h-1zM467 280h1v1h-1zM467 283h1v1h-1zM467 285h1v1h-1zM467 286h1v1h-1zM467 288h1v1h-1zM467 289h1v1h-1zM467 290h1v1h-1zM467 291h1v1h-1zM467 294h1v1h-1zM467 296h1v1h-1zM467 298h1v1h-1zM468 284h1v1h-1zM468 286h1v1h-1zM468 287h1v1h-1zM468 290h1v1h-1zM468 293h1v1h-1zM468 294h1v1h-1zM468 296h1v1h-1zM468 299h1v1h-1zM469 283h1v1h-1zM469 284h1v1h-1zM469 285h1v1h-1zM469 289h1v1h-1zM469 291h1v1h-1zM469 292h1v1h-1zM469 293h1v1h-1zM469 294h1v1h-1zM469 297h1v1h-1zM469 298h1v1h-1zM469 301h1v1h-1zM470 285h1v1h-1zM470 286h1v1h-1zM470 289h1v1h-1zM470 291h1v1h-1zM470 293h1v1h-1zM470 296h1v1h-1zM470 297h1v1h-1zM470 298h1v1h-1zM470 299h1v1h-1zM471 285h1v1h-1zM471 288h1v1h-1zM471 289h1v1h-1zM471 291h1v1h-1zM471 292h1v1h-1zM471 294h1v1h-1zM471 295h1v1h-1zM471 296h1v1h-1zM471 297h1v1h-1zM472 285h1v1h-1zM472 287h1v1h-1zM472 288h1v1h-1zM472 290h1v1h-1zM472 291h1v1h-1zM472 292h1v1h-1zM472 293h1v1h-1zM472 294h1v1h-1zM472 295h1v1h-1zM472 296h1v1h-1zM473 282h1v1h-1zM473 283h1v1h-1zM473 284h1v1h-1zM473 286h1v1h-1zM473 287h1v1h-1zM473 288h1v1h-1zM473 289h1v1h-1zM473 290h1v1h-1zM473 291h1v1h-1zM473 292h1v1h-1zM473 293h1v1h-1zM473 294h1v1h-1zM473 296h1v1h-1zM473 298h1v1h-1zM474 282h1v1h-1zM474 291h1v1h-1zM474 293h1v1h-1zM474 294h1v1h-1zM474 295h1v1h-1zM474 296h1v1h-1zM474 297h1v1h-1zM475 287h1v1h-1zM475 290h1v1h-1zM475 291h1v1h-1zM475 292h1v1h-1zM475 293h1v1h-1zM475 295h1v1h-1zM475 296h1v1h-1zM475 297h1v1h-1zM475 298h1v1h-1zM475 299h1v1h-1zM476 283h1v1h-1zM476 285h1v1h-1zM476 291h1v1h-1zM476 293h1v1h-1zM476 294h1v1h-1zM476 299h1v1h-1zM477 285h1v1h-1zM477 289h1v1h-1zM477 290h1v1h-1zM477 291h1v1h-1zM477 292h1v1h-1zM477 293h1v1h-1zM477 294h1v1h-1zM477 296h1v1h-1zM477 297h1v1h-1zM477 300h1v1h-1zM478 288h1v1h-1zM478 292h1v1h-1zM478 293h1v1h-1zM478 294h1v1h-1zM479 284h1v1h-1zM479 288h1v1h-1zM479 289h1v1h-1zM479 291h1v1h-1zM479 292h1v1h-1zM479 294h1v1h-1zM479 295h1v1h-1zM479 296h1v1h-1zM479 298h1v1h-1zM479 299h1v1h-1zM480 287h1v1h-1zM480 288h1v1h-1zM480 289h1v1h-1zM480 293h1v1h-1zM480 297h1v1h-1zM481 290h1v1h-1zM481 294h1v1h-1zM481 295h1v1h-1zM482 284h1v1h-1zM482 290h1v1h-1zM482 292h1v1h-1zM482 297h1v1h-1zM484 288h1v1h-1zM484 296h1v1h-1zM484 298h1v1h-1zM487 295h1v1h-1z" fill="#d84848" opacity="0.75"/>
<ellipse cx="456.0" cy="288.0" rx="10.0" ry="7.0" fill="#6a75b8" opacity="0.3" transform="rotate(0 456.0 288.0)" filter="url(#b2)"/>
<path d="M444 285h1v1h-1zM444 292h1v1h-1zM445 285h1v1h-1zM445 286h1v1h-1zM445 287h1v1h-1zM445 289h1v1h-1zM445 290h1v1h-1zM445 292h1v1h-1zM445 293h1v1h-1zM446 283h1v1h-1zM446 284h1v1h-1zM446 285h1v1h-1zM446 286h1v1h-1zM446 287h1v1h-1zM446 288h1v1h-1zM446 289h1v1h-1zM447 283h1v1h-1zM447 285h1v1h-1zM447 286h1v1h-1zM447 287h1v1h-1zM447 288h1v1h-1zM447 289h1v1h-1zM447 291h1v1h-1zM447 292h1v1h-1zM447 294h1v1h-1zM448 284h1v1h-1zM448 285h1v1h-1zM448 286h1v1h-1zM448 287h1v1h-1zM448 289h1v1h-1zM448 290h1v1h-1zM448 291h1v1h-1zM448 292h1v1h-1zM448 293h1v1h-1zM449 282h1v1h-1zM449 283h1v1h-1zM449 285h1v1h-1zM449 286h1v1h-1zM449 288h1v1h-1zM449 289h1v1h-1zM449 290h1v1h-1zM449 291h1v1h-1zM449 292h1v1h-1zM449 293h1v1h-1zM450 280h1v1h-1zM450 283h1v1h-1zM450 284h1v1h-1zM450 286h1v1h-1zM450 287h1v1h-1zM450 288h1v1h-1zM450 289h1v1h-1zM450 290h1v1h-1zM450 291h1v1h-1zM450 293h1v1h-1zM450 294h1v1h-1zM451 281h1v1h-1zM451 282h1v1h-1zM451 283h1v1h-1zM451 284h1v1h-1zM451 285h1v1h-1zM451 286h1v1h-1zM451 287h1v1h-1zM451 288h1v1h-1zM451 289h1v1h-1zM451 290h1v1h-1zM451 291h1v1h-1zM451 292h1v1h-1zM452 281h1v1h-1zM452 284h1v1h-1zM452 285h1v1h-1zM452 286h1v1h-1zM452 287h1v1h-1zM452 288h1v1h-1zM452 289h1v1h-1zM452 290h1v1h-1zM452 291h1v1h-1zM452 292h1v1h-1zM452 293h1v1h-1zM452 294h1v1h-1zM453 281h1v1h-1zM453 282h1v1h-1zM453 283h1v1h-1zM453 285h1v1h-1zM453 287h1v1h-1zM453 289h1v1h-1zM453 292h1v1h-1zM453 293h1v1h-1zM453 294h1v1h-1zM454 280h1v1h-1zM454 281h1v1h-1zM454 282h1v1h-1zM454 283h1v1h-1zM454 284h1v1h-1zM454 285h1v1h-1zM454 286h1v1h-1zM454 288h1v1h-1zM454 289h1v1h-1zM454 290h1v1h-1zM454 291h1v1h-1zM454 292h1v1h-1zM454 293h1v1h-1zM454 295h1v1h-1zM455 278h1v1h-1zM455 280h1v1h-1zM455 281h1v1h-1zM455 282h1v1h-1zM455 283h1v1h-1zM455 284h1v1h-1zM455 285h1v1h-1zM455 287h1v1h-1zM455 288h1v1h-1zM455 289h1v1h-1zM455 291h1v1h-1zM455 292h1v1h-1zM455 293h1v1h-1zM456 283h1v1h-1zM456 284h1v1h-1zM456 286h1v1h-1zM456 287h1v1h-1zM456 288h1v1h-1zM456 289h1v1h-1zM456 290h1v1h-1zM456 291h1v1h-1zM456 292h1v1h-1zM456 293h1v1h-1zM456 294h1v1h-1zM456 295h1v1h-1zM457 282h1v1h-1zM457 283h1v1h-1zM457 284h1v1h-1zM457 288h1v1h-1zM457 289h1v1h-1zM457 290h1v1h-1zM457 291h1v1h-1zM457 292h1v1h-1zM457 294h1v1h-1zM457 295h1v1h-1zM458 280h1v1h-1zM458 281h1v1h-1zM458 282h1v1h-1zM458 283h1v1h-1zM458 284h1v1h-1zM458 285h1v1h-1zM458 286h1v1h-1zM458 287h1v1h-1zM458 288h1v1h-1zM458 289h1v1h-1zM458 290h1v1h-1zM458 292h1v1h-1zM458 293h1v1h-1zM458 294h1v1h-1zM459 279h1v1h-1zM459 281h1v1h-1zM459 282h1v1h-1zM459 283h1v1h-1zM459 284h1v1h-1zM459 285h1v1h-1zM459 289h1v1h-1zM459 290h1v1h-1zM459 292h1v1h-1zM459 294h1v1h-1zM459 295h1v1h-1zM460 282h1v1h-1zM460 283h1v1h-1zM460 284h1v1h-1zM460 285h1v1h-1zM460 287h1v1h-1zM460 288h1v1h-1zM460 289h1v1h-1zM460 291h1v1h-1zM460 292h1v1h-1zM460 294h1v1h-1zM460 295h1v1h-1zM461 283h1v1h-1zM461 284h1v1h-1zM461 285h1v1h-1zM461 286h1v1h-1zM461 287h1v1h-1zM461 288h1v1h-1zM461 289h1v1h-1zM461 290h1v1h-1zM461 291h1v1h-1zM461 292h1v1h-1zM461 293h1v1h-1zM461 295h1v1h-1zM462 283h1v1h-1zM462 284h1v1h-1zM462 285h1v1h-1zM462 286h1v1h-1zM462 287h1v1h-1zM462 288h1v1h-1zM462 289h1v1h-1zM462 290h1v1h-1zM462 291h1v1h-1zM462 292h1v1h-1zM462 294h1v1h-1zM463 282h1v1h-1zM463 283h1v1h-1zM463 284h1v1h-1zM463 285h1v1h-1zM463 286h1v1h-1zM463 288h1v1h-1zM463 291h1v1h-1zM463 293h1v1h-1zM464 284h1v1h-1zM464 285h1v1h-1zM464 286h1v1h-1zM464 287h1v1h-1zM464 288h1v1h-1zM464 289h1v1h-1zM464 291h1v1h-1zM464 293h1v1h-1zM465 282h1v1h-1zM465 283h1v1h-1zM465 284h1v1h-1zM465 285h1v1h-1zM465 287h1v1h-1zM465 290h1v1h-1zM465 291h1v1h-1zM466 285h1v1h-1zM466 286h1v1h-1zM466 287h1v1h-1zM466 288h1v1h-1zM467 283h1v1h-1zM467 285h1v1h-1zM467 286h1v1h-1zM467 290h1v1h-1z" fill="#6a75b8" opacity="0.8"/>
<ellipse cx="456.0" cy="288.0" rx="8.8" ry="6.2" fill="#3d4ba0" opacity="1.0" transform="rotate(0 456.0 288.0)" filter="url(#b3)"/>
<ellipse cx="480.6" cy="297.4" rx="9.0" ry="5.5" fill="#d84848" opacity="0.3" transform="rotate(-25 480.6 297.4)" filter="url(#b2)"/>
<path d="M469 299h1v1h-1zM469 302h1v1h-1zM471 297h1v1h-1zM471 299h1v1h-1zM471 300h1v1h-1zM471 302h1v1h-1zM472 297h1v1h-1zM472 298h1v1h-1zM472 299h1v1h-1zM472 300h1v1h-1zM472 302h1v1h-1zM472 303h1v1h-1zM473 295h1v1h-1zM473 297h1v1h-1zM473 298h1v1h-1zM473 300h1v1h-1zM473 301h1v1h-1zM473 302h1v1h-1zM473 303h1v1h-1zM474 295h1v1h-1zM474 296h1v1h-1zM474 297h1v1h-1zM474 298h1v1h-1zM474 299h1v1h-1zM474 301h1v1h-1zM474 302h1v1h-1zM475 295h1v1h-1zM475 296h1v1h-1zM475 297h1v1h-1zM475 298h1v1h-1zM475 300h1v1h-1zM475 301h1v1h-1zM475 302h1v1h-1zM475 303h1v1h-1zM476 294h1v1h-1zM476 295h1v1h-1zM476 296h1v1h-1zM476 298h1v1h-1zM476 299h1v1h-1zM476 302h1v1h-1zM476 303h1v1h-1zM477 292h1v1h-1zM477 293h1v1h-1zM477 294h1v1h-1zM477 295h1v1h-1zM477 296h1v1h-1zM477 297h1v1h-1zM477 298h1v1h-1zM477 299h1v1h-1zM477 300h1v1h-1zM477 301h1v1h-1zM477 303h1v1h-1zM477 304h1v1h-1zM478 292h1v1h-1zM478 293h1v1h-1zM478 294h1v1h-1zM478 295h1v1h-1zM478 296h1v1h-1zM478 297h1v1h-1zM478 299h1v1h-1zM478 300h1v1h-1zM478 301h1v1h-1zM479 292h1v1h-1zM479 293h1v1h-1zM479 295h1v1h-1zM479 297h1v1h-1zM479 300h1v1h-1zM479 301h1v1h-1zM479 302h1v1h-1zM479 303h1v1h-1zM480 291h1v1h-1zM480 292h1v1h-1zM480 293h1v1h-1zM480 294h1v1h-1zM480 295h1v1h-1zM480 296h1v1h-1zM480 298h1v1h-1zM480 300h1v1h-1zM480 301h1v1h-1zM480 302h1v1h-1zM481 291h1v1h-1zM481 292h1v1h-1zM481 293h1v1h-1zM481 294h1v1h-1zM481 295h1v1h-1zM481 296h1v1h-1zM481 297h1v1h-1zM481 298h1v1h-1zM481 299h1v1h-1zM481 300h1v1h-1zM481 301h1v1h-1zM481 302h1v1h-1zM481 303h1v1h-1zM482 291h1v1h-1zM482 292h1v1h-1zM482 293h1v1h-1zM482 295h1v1h-1zM482 296h1v1h-1zM482 297h1v1h-1zM482 298h1v1h-1zM482 300h1v1h-1zM482 301h1v1h-1zM482 302h1v1h-1zM483 290h1v1h-1zM483 291h1v1h-1zM483 292h1v1h-1zM483 293h1v1h-1zM483 294h1v1h-1zM483 295h1v1h-1zM483 298h1v1h-1zM483 299h1v1h-1zM483 302h1v1h-1zM483 303h1v1h-1zM484 290h1v1h-1zM484 291h1v1h-1zM484 293h1v1h-1zM484 294h1v1h-1zM484 296h1v1h-1zM484 297h1v1h-1zM484 299h1v1h-1zM484 300h1v1h-1zM485 290h1v1h-1zM485 292h1v1h-1zM485 293h1v1h-1zM485 294h1v1h-1zM485 295h1v1h-1zM485 296h1v1h-1zM485 297h1v1h-1zM485 299h1v1h-1zM485 300h1v1h-1zM486 292h1v1h-1zM486 293h1v1h-1zM486 294h1v1h-1zM486 295h1v1h-1zM486 296h1v1h-1zM486 297h1v1h-1zM486 299h1v1h-1zM487 291h1v1h-1zM487 293h1v1h-1zM487 294h1v1h-1zM487 295h1v1h-1zM487 296h1v1h-1zM487 297h1v1h-1zM487 298h1v1h-1zM487 301h1v1h-1zM488 291h1v1h-1zM488 295h1v1h-1zM488 296h1v1h-1zM488 297h1v1h-1zM488 298h1v1h-1zM489 294h1v1h-1zM489 295h1v1h-1zM490 294h1v1h-1z" fill="#d84848" opacity="0.8"/>
<ellipse cx="480.6" cy="297.4" rx="7.9" ry="4.8" fill="#d01a1a" opacity="0.8" transform="rotate(-25 480.6 297.4)" filter="url(#b3)"/>
<ellipse cx="481.0" cy="296.5" rx="11.8" ry="7.2" fill="none" stroke="#111" stroke-width="1.15" stroke-dasharray="0.9 1.15" transform="rotate(-25 481.0 296.5)"/>
<line x1="65.60" y1="422.00" x2="65.60" y2="588.00" stroke="#000" stroke-width="1.4" />
<line x1="65.00" y1="587.30" x2="231.00" y2="587.30" stroke="#000" stroke-width="1.4" />
<line x1="62.10" y1="572.50" x2="65.60" y2="572.50" stroke="#000" stroke-width="1.1" />
<text x="59.20" y="575.80" font-size="8.8" text-anchor="end" >0</text>
<line x1="80.40" y1="587.30" x2="80.40" y2="590.60" stroke="#000" stroke-width="1" />
<text x="80.40" y="601.80" font-size="8.8" text-anchor="middle" >0</text>
<line x1="62.10" y1="543.50" x2="65.60" y2="543.50" stroke="#000" stroke-width="1.1" />
<text x="59.20" y="546.14" font-size="8.8" text-anchor="end" >20</text>
<line x1="110.40" y1="587.30" x2="110.40" y2="590.60" stroke="#000" stroke-width="1" />
<text x="110.40" y="601.80" font-size="8.8" text-anchor="middle" >20</text>
<line x1="62.10" y1="513.50" x2="65.60" y2="513.50" stroke="#000" stroke-width="1.1" />
<text x="59.20" y="516.48" font-size="8.8" text-anchor="end" >40</text>
<line x1="140.40" y1="587.30" x2="140.40" y2="590.60" stroke="#000" stroke-width="1" />
<text x="140.40" y="601.80" font-size="8.8" text-anchor="middle" >40</text>
<line x1="62.10" y1="483.50" x2="65.60" y2="483.50" stroke="#000" stroke-width="1.1" />
<text x="59.20" y="486.82" font-size="8.8" text-anchor="end" >60</text>
<line x1="170.40" y1="587.30" x2="170.40" y2="590.60" stroke="#000" stroke-width="1" />
<text x="170.40" y="601.80" font-size="8.8" text-anchor="middle" >60</text>
<line x1="62.10" y1="454.50" x2="65.60" y2="454.50" stroke="#000" stroke-width="1.1" />
<text x="59.20" y="457.16" font-size="8.8" text-anchor="end" >80</text>
<line x1="200.40" y1="587.30" x2="200.40" y2="590.60" stroke="#000" stroke-width="1" />
<text x="200.40" y="601.80" font-size="8.8" text-anchor="middle" >80</text>
<line x1="62.10" y1="424.50" x2="65.60" y2="424.50" stroke="#000" stroke-width="1.1" />
<text x="59.20" y="427.50" font-size="8.8" text-anchor="end" >100</text>
<line x1="230.40" y1="587.30" x2="230.40" y2="590.60" stroke="#000" stroke-width="1" />
<text x="230.40" y="601.80" font-size="8.8" text-anchor="middle" >100</text>
<text transform="translate(37.6,556.5) rotate(-90)" font-size="11" textLength="99.5" lengthAdjust="spacingAndGlyphs" stroke="#000" stroke-width="0.25">CD34 expression on blasts (%)</text>
<text x="95.6" y="616.3" font-size="11.2" textLength="103" lengthAdjust="spacingAndGlyphs" stroke="#000" stroke-width="0.25">CD200 expression on blasts (%)</text>
<line x1="66.00" y1="543.50" x2="229.00" y2="543.50" stroke="#000" stroke-width="1.0" stroke-dasharray="1 1"/>
<line x1="65.40" y1="587.63" x2="230.40" y2="424.50" stroke="#33405c" stroke-width="1.1" stroke-dasharray="3 2"/>
<path d="M83.45 425.24a1.75 1.75 0 1 0 3.5 0a1.75 1.75 0 1 0 -3.5 0zM78.65 440.22a1.75 1.75 0 1 0 3.5 0a1.75 1.75 0 1 0 -3.5 0zM84.50 515.85a1.75 1.75 0 1 0 3.5 0a1.75 1.75 0 1 0 -3.5 0zM81.95 539.88a1.75 1.75 0 1 0 3.5 0a1.75 1.75 0 1 0 -3.5 0zM83.90 559.30a1.75 1.75 0 1 0 3.5 0a1.75 1.75 0 1 0 -3.5 0zM84.95 565.83a1.75 1.75 0 1 0 3.5 0a1.75 1.75 0 1 0 -3.5 0zM78.65 572.80a1.75 1.75 0 1 0 3.5 0a1.75 1.75 0 1 0 -3.5 0zM80.15 572.06a1.75 1.75 0 1 0 3.5 0a1.75 1.75 0 1 0 -3.5 0zM81.65 572.36a1.75 1.75 0 1 0 3.5 0a1.75 1.75 0 1 0 -3.5 0zM83.15 571.32a1.75 1.75 0 1 0 3.5 0a1.75 1.75 0 1 0 -3.5 0zM84.95 570.87a1.75 1.75 0 1 0 3.5 0a1.75 1.75 0 1 0 -3.5 0zM80.90 572.80a1.75 1.75 0 1 0 3.5 0a1.75 1.75 0 1 0 -3.5 0zM92.30 557.53a1.75 1.75 0 1 0 3.5 0a1.75 1.75 0 1 0 -3.5 0zM94.85 561.08a1.75 1.75 0 1 0 3.5 0a1.75 1.75 0 1 0 -3.5 0zM97.40 566.57a1.75 1.75 0 1 0 3.5 0a1.75 1.75 0 1 0 -3.5 0zM91.10 572.80a1.75 1.75 0 1 0 3.5 0a1.75 1.75 0 1 0 -3.5 0zM95.90 572.80a1.75 1.75 0 1 0 3.5 0a1.75 1.75 0 1 0 -3.5 0zM98.45 572.80a1.75 1.75 0 1 0 3.5 0a1.75 1.75 0 1 0 -3.5 0zM103.55 551.59a1.75 1.75 0 1 0 3.5 0a1.75 1.75 0 1 0 -3.5 0zM107.15 550.55a1.75 1.75 0 1 0 3.5 0a1.75 1.75 0 1 0 -3.5 0zM112.70 561.83a1.75 1.75 0 1 0 3.5 0a1.75 1.75 0 1 0 -3.5 0zM114.50 568.80a1.75 1.75 0 1 0 3.5 0a1.75 1.75 0 1 0 -3.5 0zM130.25 572.80a1.75 1.75 0 1 0 3.5 0a1.75 1.75 0 1 0 -3.5 0zM141.65 564.79a1.75 1.75 0 1 0 3.5 0a1.75 1.75 0 1 0 -3.5 0zM149.30 569.54a1.75 1.75 0 1 0 3.5 0a1.75 1.75 0 1 0 -3.5 0zM155.15 557.53a1.75 1.75 0 1 0 3.5 0a1.75 1.75 0 1 0 -3.5 0zM159.95 512.59a1.75 1.75 0 1 0 3.5 0a1.75 1.75 0 1 0 -3.5 0zM169.85 551.30a1.75 1.75 0 1 0 3.5 0a1.75 1.75 0 1 0 -3.5 0zM178.55 469.73a1.75 1.75 0 1 0 3.5 0a1.75 1.75 0 1 0 -3.5 0zM177.20 572.50a1.75 1.75 0 1 0 3.5 0a1.75 1.75 0 1 0 -3.5 0zM182.60 491.38a1.75 1.75 0 1 0 3.5 0a1.75 1.75 0 1 0 -3.5 0zM182.30 541.81a1.75 1.75 0 1 0 3.5 0a1.75 1.75 0 1 0 -3.5 0zM184.10 564.79a1.75 1.75 0 1 0 3.5 0a1.75 1.75 0 1 0 -3.5 0zM188.90 472.40a1.75 1.75 0 1 0 3.5 0a1.75 1.75 0 1 0 -3.5 0zM192.50 441.26a1.75 1.75 0 1 0 3.5 0a1.75 1.75 0 1 0 -3.5 0zM195.05 434.44a1.75 1.75 0 1 0 3.5 0a1.75 1.75 0 1 0 -3.5 0zM197.90 444.52a1.75 1.75 0 1 0 3.5 0a1.75 1.75 0 1 0 -3.5 0zM197.60 476.40a1.75 1.75 0 1 0 3.5 0a1.75 1.75 0 1 0 -3.5 0zM192.50 521.64a1.75 1.75 0 1 0 3.5 0a1.75 1.75 0 1 0 -3.5 0zM194.30 571.02a1.75 1.75 0 1 0 3.5 0a1.75 1.75 0 1 0 -3.5 0zM197.15 569.09a1.75 1.75 0 1 0 3.5 0a1.75 1.75 0 1 0 -3.5 0zM203.75 461.43a1.75 1.75 0 1 0 3.5 0a1.75 1.75 0 1 0 -3.5 0zM203.75 472.70a1.75 1.75 0 1 0 3.5 0a1.75 1.75 0 1 0 -3.5 0zM205.85 440.52a1.75 1.75 0 1 0 3.5 0a1.75 1.75 0 1 0 -3.5 0zM203.75 512.15a1.75 1.75 0 1 0 3.5 0a1.75 1.75 0 1 0 -3.5 0zM207.50 545.81a1.75 1.75 0 1 0 3.5 0a1.75 1.75 0 1 0 -3.5 0zM212.90 484.41a1.75 1.75 0 1 0 3.5 0a1.75 1.75 0 1 0 -3.5 0zM215.90 425.24a1.75 1.75 0 1 0 3.5 0a1.75 1.75 0 1 0 -3.5 0zM220.55 433.69a1.75 1.75 0 1 0 3.5 0a1.75 1.75 0 1 0 -3.5 0zM222.50 426.28a1.75 1.75 0 1 0 3.5 0a1.75 1.75 0 1 0 -3.5 0zM224.30 427.02a1.75 1.75 0 1 0 3.5 0a1.75 1.75 0 1 0 -3.5 0zM226.55 425.24a1.75 1.75 0 1 0 3.5 0a1.75 1.75 0 1 0 -3.5 0zM223.85 432.95a1.75 1.75 0 1 0 3.5 0a1.75 1.75 0 1 0 -3.5 0zM222.50 442.00a1.75 1.75 0 1 0 3.5 0a1.75 1.75 0 1 0 -3.5 0zM226.55 442.44a1.75 1.75 0 1 0 3.5 0a1.75 1.75 0 1 0 -3.5 0zM220.25 448.67a1.75 1.75 0 1 0 3.5 0a1.75 1.75 0 1 0 -3.5 0zM225.05 448.67a1.75 1.75 0 1 0 3.5 0a1.75 1.75 0 1 0 -3.5 0zM226.85 447.19a1.75 1.75 0 1 0 3.5 0a1.75 1.75 0 1 0 -3.5 0zM224.60 509.18a1.75 1.75 0 1 0 3.5 0a1.75 1.75 0 1 0 -3.5 0z" fill="none" stroke="#b8234a" stroke-width="1.2"/>
<line x1="246.00" y1="565.60" x2="304.00" y2="565.60" stroke="#000" stroke-width="1.1" />
<path d="M308.5 565.6L302.5 563.3L302.5 567.9z" fill="#000"/>
<text x="253.0" y="560.2" font-size="9.4" textLength="49" lengthAdjust="spacingAndGlyphs">CD34 ≤20%</text>
<text x="264.4" y="577.2" font-size="8.4" textLength="25.6" lengthAdjust="spacingAndGlyphs">(n=31)</text>
<line x1="356.00" y1="484.40" x2="356.00" y2="588.30" stroke="#000" stroke-width="1.4" />
<line x1="355.40" y1="587.60" x2="421.60" y2="587.60" stroke="#000" stroke-width="1.4" />
<line x1="352.60" y1="582.50" x2="356.00" y2="582.50" stroke="#000" stroke-width="1.1" />
<text x="349.20" y="585.70" font-size="8.6" text-anchor="end" >0</text>
<line x1="352.60" y1="563.50" x2="356.00" y2="563.50" stroke="#000" stroke-width="1.1" />
<text x="349.20" y="566.55" font-size="8.6" text-anchor="end" >20</text>
<line x1="352.60" y1="544.50" x2="356.00" y2="544.50" stroke="#000" stroke-width="1.1" />
<text x="349.20" y="547.40" font-size="8.6" text-anchor="end" >40</text>
<line x1="352.60" y1="525.50" x2="356.00" y2="525.50" stroke="#000" stroke-width="1.1" />
<text x="349.20" y="528.25" font-size="8.6" text-anchor="end" >60</text>
<line x1="352.60" y1="506.50" x2="356.00" y2="506.50" stroke="#000" stroke-width="1.1" />
<text x="349.20" y="509.10" font-size="8.6" text-anchor="end" >80</text>
<line x1="352.60" y1="486.50" x2="356.00" y2="486.50" stroke="#000" stroke-width="1.1" />
<text x="349.20" y="489.95" font-size="8.6" text-anchor="end" >100</text>
<line x1="372.40" y1="587.60" x2="372.40" y2="590.60" stroke="#000" stroke-width="1" />
<line x1="406.00" y1="587.60" x2="406.00" y2="590.60" stroke="#000" stroke-width="1" />
<text x="372.40" y="602.30" font-size="8.8" text-anchor="middle" >CD34</text>
<text x="406.00" y="602.30" font-size="8.8" text-anchor="middle" >CD200</text>
<text transform="translate(327.6,572.1) rotate(-90)" font-size="10.5" textLength="69.3" lengthAdjust="spacingAndGlyphs" stroke="#000" stroke-width="0.25">Blast percentage (%)</text>
<path d="M370.9 481.6V478.5H404.7V481.6" fill="none" stroke="#000" stroke-width="1.05"/>
<text x="387.80" y="477.40" font-size="7.5" text-anchor="middle" >****</text>
<line x1="357.00" y1="565.50" x2="421.60" y2="565.50" stroke="#000" stroke-width="1.0" stroke-dasharray="1 1"/>
<path d="M372.4 580.8L406 499.4M372.4 580.8L406 506.1M372.4 581.7L406 507.5M372.4 582.2L406 514.7M372.4 582.2L406 519.0M372.4 566.9L406 524.3M372.4 575.0L406 533.4M372.4 572.2L406 537.2M372.4 581.9L406 542.0M372.4 581.6L406 549.2M372.4 582.7L406 559.7M372.4 582.7L406 561.6M372.4 581.7L406 564.5M372.4 580.3L406 565.5M372.4 582.7L406 566.4M372.4 576.5L406 570.5M372.4 578.4L406 571.2M372.4 579.3L406 572.2M372.4 577.4L406 573.1M372.4 564.5L406 575.0M372.4 576.0L406 575.0M372.4 569.3L406 577.0M372.4 580.6L406 578.6M372.4 582.7L406 578.9M372.4 581.3L406 579.8M372.4 582.4L406 580.8M372.4 582.7L406 581.1M372.4 573.6L406 581.7M372.4 579.8L406 582.2M372.4 578.9L406 582.4M372.4 577.9L406 582.7" fill="none" stroke="#3a4560" stroke-width="1.0"/>
<path d="M371.1 563.2h2.6v2.6h-2.6zM371.1 565.6h2.6v2.6h-2.6zM371.1 568.0h2.6v2.6h-2.6zM371.1 570.9h2.6v2.6h-2.6zM371.1 572.3h2.6v2.6h-2.6zM371.1 573.7h2.6v2.6h-2.6zM371.1 575.2h2.6v2.6h-2.6zM371.1 576.6h2.6v2.6h-2.6zM371.1 578.0h2.6v2.6h-2.6zM371.1 579.5h2.6v2.6h-2.6zM371.1 580.9h2.6v2.6h-2.6zM371.1 581.4h2.6v2.6h-2.6zM371.1 581.4h2.6v2.6h-2.6zM371.1 581.4h2.6v2.6h-2.6zM371.1 580.4h2.6v2.6h-2.6zM371.1 580.0h2.6v2.6h-2.6zM371.1 579.0h2.6v2.6h-2.6zM371.1 578.5h2.6v2.6h-2.6zM371.1 577.6h2.6v2.6h-2.6zM371.1 581.1h2.6v2.6h-2.6zM371.1 581.4h2.6v2.6h-2.6zM371.1 580.6h2.6v2.6h-2.6zM371.1 580.3h2.6v2.6h-2.6zM371.1 579.5h2.6v2.6h-2.6zM371.1 576.1h2.6v2.6h-2.6zM371.1 574.7h2.6v2.6h-2.6zM371.1 581.4h2.6v2.6h-2.6zM371.1 580.9h2.6v2.6h-2.6zM371.1 580.4h2.6v2.6h-2.6zM371.1 579.3h2.6v2.6h-2.6zM371.1 577.1h2.6v2.6h-2.6zM404.7 498.1h2.6v2.6h-2.6zM404.7 504.8h2.6v2.6h-2.6zM404.7 506.2h2.6v2.6h-2.6zM404.7 513.4h2.6v2.6h-2.6zM404.7 517.7h2.6v2.6h-2.6zM404.7 523.0h2.6v2.6h-2.6zM404.7 532.1h2.6v2.6h-2.6zM404.7 535.9h2.6v2.6h-2.6zM404.7 540.7h2.6v2.6h-2.6zM404.7 547.9h2.6v2.6h-2.6zM404.7 558.4h2.6v2.6h-2.6zM404.7 560.3h2.6v2.6h-2.6zM404.7 563.2h2.6v2.6h-2.6zM404.7 564.2h2.6v2.6h-2.6zM404.7 565.1h2.6v2.6h-2.6zM404.7 569.2h2.6v2.6h-2.6zM404.7 569.9h2.6v2.6h-2.6zM404.7 570.9h2.6v2.6h-2.6zM404.7 571.8h2.6v2.6h-2.6zM404.7 573.7h2.6v2.6h-2.6zM404.7 573.7h2.6v2.6h-2.6zM404.7 575.7h2.6v2.6h-2.6zM404.7 577.3h2.6v2.6h-2.6zM404.7 577.6h2.6v2.6h-2.6zM404.7 578.5h2.6v2.6h-2.6zM404.7 579.5h2.6v2.6h-2.6zM404.7 579.8h2.6v2.6h-2.6zM404.7 580.4h2.6v2.6h-2.6zM404.7 580.9h2.6v2.6h-2.6zM404.7 581.1h2.6v2.6h-2.6zM404.7 581.4h2.6v2.6h-2.6z" fill="#b8234a"/></svg></body></html>
